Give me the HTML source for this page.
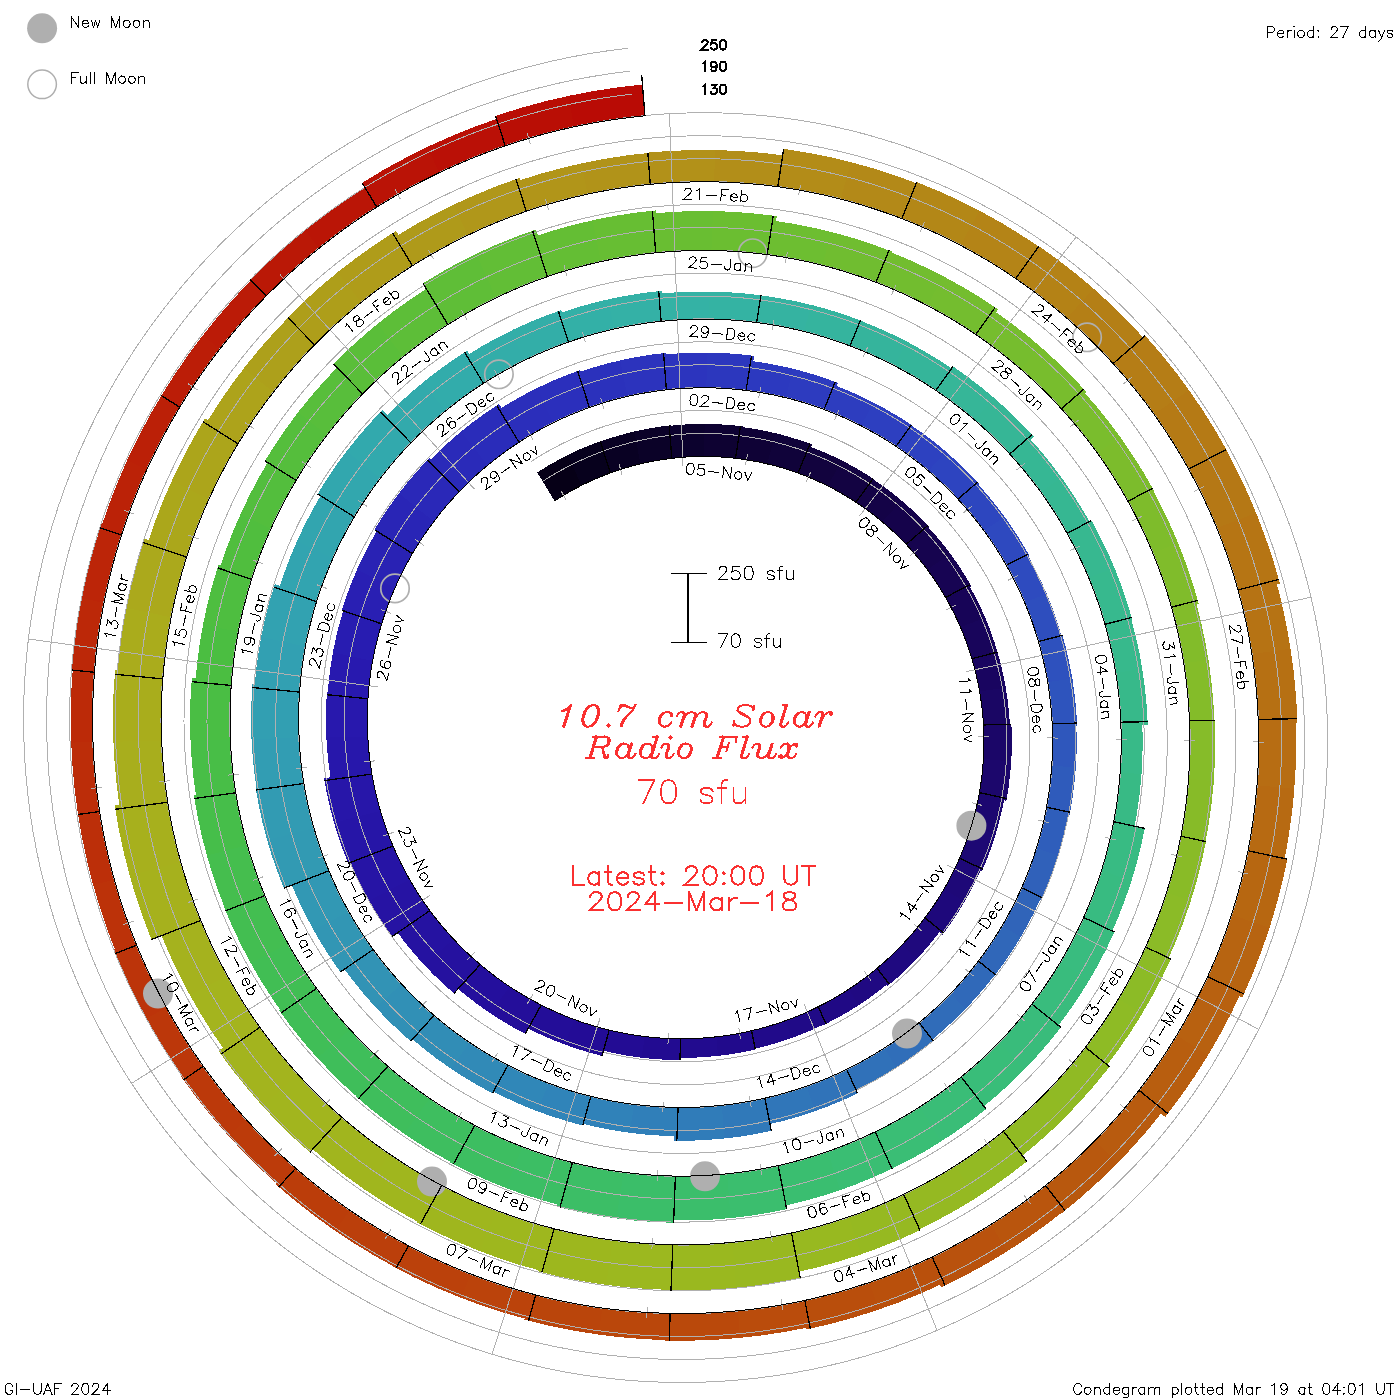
<!DOCTYPE html>
<html><head><meta charset="utf-8"><title>Condegram - 10.7 cm Solar Radio Flux</title>
<style>
html,body{margin:0;padding:0;background:#fff;}
body{width:1400px;height:1400px;position:relative;overflow:hidden;font-family:"Liberation Sans",sans-serif;}
</style></head><body>
<svg width="1400" height="1400" viewBox="0 0 1400 1400" style="position:absolute;left:0;top:0">
<g shape-rendering="crispEdges">
<path d="M554.7,501.3 L564.0,495.5 L573.5,490.0 L583.3,484.8 L569.6,454.1 L558.6,459.8 L547.8,465.9 L537.3,472.5Z" fill="#060017"/>
<path d="M581.7,485.7 L591.6,480.9 L601.8,476.5 L612.2,472.6 L602.2,440.5 L590.5,444.9 L579.0,449.7 L567.7,455.0Z" fill="#07011d"/>
<path d="M610.4,473.2 L621.0,469.6 L631.6,466.5 L642.5,463.7 L636.3,431.0 L624.1,434.1 L612.1,437.6 L600.3,441.5Z" fill="#090123"/>
<path d="M640.6,464.2 L651.5,461.8 L662.6,459.9 L673.7,458.4 L671.3,425.2 L658.9,426.8 L646.5,428.9 L634.2,431.5Z" fill="#0b0228"/>
<path d="M671.8,458.6 L682.9,457.6 L694.2,456.9 L705.4,456.8 L707.0,423.9 L694.3,424.0 L681.8,424.7 L669.2,425.9Z" fill="#0c022e"/>
<path d="M703.5,456.8 L714.8,457.0 L726.1,457.7 L737.3,458.8 L742.6,426.4 L730.1,425.0 L717.4,424.2 L704.8,423.9Z" fill="#0e0232"/>
<path d="M735.4,458.6 L746.6,460.1 L757.8,462.2 L768.9,464.6 L777.7,433.7 L765.4,430.9 L752.9,428.6 L740.4,426.9Z" fill="#0f0236"/>
<path d="M767.0,464.2 L778.0,467.0 L789.0,470.3 L799.7,474.1 L812.1,444.4 L800.1,440.2 L787.9,436.5 L775.7,433.2Z" fill="#10033a"/>
<path d="M797.9,473.4 L808.6,477.5 L819.1,482.1 L829.4,487.1 L843.8,461.5 L832.4,455.9 L820.8,450.8 L809.1,446.2Z" fill="#12033e"/>
<path d="M827.7,486.2 L837.8,491.6 L847.8,497.4 L857.5,503.6 L874.8,479.8 L864.1,472.9 L853.1,466.4 L841.9,460.5Z" fill="#130342"/>
<path d="M855.8,502.5 L865.3,509.1 L874.6,516.0 L883.6,523.3 L903.2,501.9 L893.4,493.8 L883.2,486.1 L872.7,478.9Z" fill="#140347"/>
<path d="M882.1,522.0 L890.8,529.7 L899.2,537.7 L907.3,546.0 L929.3,527.1 L920.4,517.9 L911.2,509.0 L901.6,500.5Z" fill="#15034b"/>
<path d="M905.9,544.6 L913.7,553.2 L921.2,562.2 L928.3,571.5 L951.7,555.6 L944.0,545.4 L935.8,535.5 L927.2,526.0Z" fill="#16044f"/>
<path d="M927.1,569.9 L933.9,579.4 L940.3,589.2 L946.3,599.3 L971.4,586.3 L964.9,575.2 L957.9,564.4 L950.4,553.9Z" fill="#170453"/>
<path d="M945.3,597.6 L950.9,607.9 L956.2,618.4 L961.0,629.2 L986.0,619.7 L980.8,607.9 L975.1,596.4 L969.0,585.1Z" fill="#170457"/>
<path d="M960.2,627.3 L964.6,638.3 L968.6,649.4 L972.2,660.7 L998.1,654.2 L994.3,641.8 L990.0,629.7 L985.2,617.7Z" fill="#18055b"/>
<path d="M971.6,658.7 L974.7,670.2 L977.4,681.7 L979.6,693.4 L1006.2,690.0 L1003.8,677.2 L1000.9,664.6 L997.5,652.1Z" fill="#190560"/>
<path d="M979.3,691.4 L981.1,703.2 L982.4,715.0 L983.3,727.0 L1010.0,726.6 L1009.1,713.6 L1007.7,700.7 L1005.8,687.8Z" fill="#1a0664"/>
<path d="M983.2,724.9 L983.6,736.9 L983.5,748.9 L983.0,760.8 L1011.1,763.8 L1011.8,750.6 L1011.9,737.5 L1011.4,724.4Z" fill="#1b0668"/>
<path d="M983.1,758.8 L982.1,770.8 L980.7,782.7 L978.7,794.6 L1006.3,800.8 L1008.5,787.8 L1010.1,774.7 L1011.2,761.5Z" fill="#1c076c"/>
<path d="M979.1,792.6 L976.7,804.4 L973.9,816.1 L970.5,827.8 L995.1,836.4 L998.7,823.7 L1001.9,811.0 L1004.5,798.1Z" fill="#1c0770"/>
<path d="M971.1,825.8 L967.4,837.3 L963.2,848.7 L958.5,859.9 L981.9,871.3 L987.0,859.1 L991.6,846.8 L995.7,834.2Z" fill="#1d0874"/>
<path d="M959.3,858.0 L954.3,869.1 L948.7,879.9 L942.7,890.6 L963.3,903.8 L969.8,892.3 L975.9,880.5 L981.4,868.6Z" fill="#1e0878"/>
<path d="M943.8,888.8 L937.4,899.2 L930.7,909.4 L923.5,919.3 L942.4,934.8 L950.2,924.1 L957.6,913.1 L964.5,901.8Z" fill="#1e087b"/>
<path d="M924.7,917.7 L917.2,927.3 L909.2,936.7 L900.8,945.7 L915.2,960.6 L924.1,950.9 L932.6,940.9 L940.7,930.6Z" fill="#1f097d"/>
<path d="M902.3,944.2 L893.6,953.0 L884.6,961.4 L875.2,969.4 L887.7,985.8 L897.8,977.3 L907.4,968.3 L916.7,959.0Z" fill="#1f0980"/>
<path d="M876.8,968.1 L867.2,975.8 L857.2,983.2 L846.9,990.1 L856.6,1006.5 L867.6,999.2 L878.2,991.4 L888.5,983.2Z" fill="#200982"/>
<path d="M848.7,989.0 L838.1,995.5 L827.3,1001.7 L816.2,1007.4 L824.0,1024.8 L835.8,1018.8 L847.3,1012.3 L858.5,1005.3Z" fill="#200985"/>
<path d="M818.1,1006.5 L806.8,1011.8 L795.3,1016.7 L783.6,1021.1 L789.2,1038.9 L801.6,1034.3 L813.9,1029.1 L825.9,1023.5Z" fill="#200a87"/>
<path d="M785.6,1020.4 L773.7,1024.4 L761.7,1027.9 L749.5,1030.9 L753.0,1049.3 L765.9,1046.1 L778.7,1042.4 L791.3,1038.2Z" fill="#210a8a"/>
<path d="M751.6,1030.4 L739.3,1033.0 L726.8,1035.1 L714.3,1036.7 L715.7,1056.1 L729.0,1054.5 L742.2,1052.3 L755.3,1049.5Z" fill="#210a8c"/>
<path d="M716.4,1036.5 L703.9,1037.7 L691.2,1038.3 L678.6,1038.4 L677.7,1057.9 L691.1,1057.8 L704.6,1057.1 L718.0,1055.9Z" fill="#220b8f"/>
<path d="M680.7,1038.4 L668.0,1038.1 L655.3,1037.3 L642.7,1036.0 L639.2,1057.4 L652.7,1058.9 L666.3,1059.8 L679.9,1060.2Z" fill="#220b91"/>
<path d="M644.8,1036.2 L632.2,1034.4 L619.7,1032.1 L607.2,1029.3 L601.2,1050.2 L614.5,1053.3 L628.0,1055.8 L641.5,1057.7Z" fill="#230c94"/>
<path d="M609.3,1029.8 L597.0,1026.6 L584.7,1022.8 L572.6,1018.5 L562.2,1043.6 L575.3,1048.2 L588.6,1052.4 L602.0,1055.9Z" fill="#230c96"/>
<path d="M574.7,1019.3 L562.7,1014.6 L550.9,1009.4 L539.4,1003.7 L526.1,1027.4 L538.6,1033.6 L551.4,1039.3 L564.4,1044.4Z" fill="#230d98"/>
<path d="M541.3,1004.7 L529.9,998.6 L518.8,992.1 L507.9,985.1 L488.4,1012.0 L500.4,1019.8 L512.7,1027.1 L525.2,1033.8Z" fill="#240e9a"/>
<path d="M509.7,986.3 L499.1,978.9 L488.8,971.1 L478.7,962.8 L456.2,987.3 L467.3,996.5 L478.7,1005.2 L490.4,1013.4Z" fill="#240f9d"/>
<path d="M480.4,964.3 L470.7,955.7 L461.3,946.7 L452.2,937.3 L422.4,962.9 L432.5,973.6 L443.0,983.7 L453.9,993.4Z" fill="#25119f"/>
<path d="M453.8,938.9 L445.0,929.2 L436.7,919.1 L428.8,908.6 L396.2,930.7 L405.0,942.5 L414.3,953.8 L424.1,964.8Z" fill="#2512a1"/>
<path d="M430.1,910.4 L422.6,899.7 L415.4,888.7 L408.8,877.4 L367.7,898.7 L375.2,911.7 L383.3,924.3 L391.9,936.6Z" fill="#2613a3"/>
<path d="M409.9,879.3 L403.6,867.8 L397.8,855.9 L392.4,843.9 L349.1,860.2 L355.2,874.1 L361.8,887.6 L368.9,900.9Z" fill="#2614a5"/>
<path d="M393.3,845.9 L388.4,833.7 L384.0,821.2 L380.1,808.5 L333.3,820.2 L337.7,834.8 L342.7,849.2 L348.3,863.3Z" fill="#2615a7"/>
<path d="M380.7,810.7 L377.2,797.9 L374.3,785.0 L371.9,771.9 L324.0,778.1 L326.8,793.1 L330.1,808.0 L334.0,822.7Z" fill="#2716a9"/>
<path d="M372.2,774.1 L370.3,760.9 L368.8,747.7 L367.9,734.4 L326.2,734.9 L327.2,749.9 L328.7,764.9 L330.9,779.7Z" fill="#2717ab"/>
<path d="M368.1,736.6 L367.6,723.3 L367.7,709.9 L368.4,696.5 L326.9,692.1 L326.1,707.2 L325.9,722.3 L326.4,737.4Z" fill="#2818ad"/>
<path d="M368.3,698.8 L369.4,685.4 L371.1,672.1 L373.3,658.8 L333.4,649.8 L330.8,664.7 L328.9,679.7 L327.5,694.8Z" fill="#2819af"/>
<path d="M372.9,661.0 L375.6,647.8 L378.8,634.7 L382.6,621.8 L344.0,608.2 L339.7,622.8 L336.0,637.5 L332.9,652.4Z" fill="#281cb1"/>
<path d="M381.9,624.0 L386.1,611.1 L390.9,598.4 L396.2,585.9 L358.0,567.3 L352.0,581.4 L346.6,595.7 L341.7,610.2Z" fill="#291fb3"/>
<path d="M395.2,588.0 L400.9,575.7 L407.2,563.6 L413.9,551.8 L378.1,528.9 L370.5,542.2 L363.4,555.8 L356.9,569.7Z" fill="#2922b4"/>
<path d="M412.7,553.8 L419.8,542.2 L427.4,530.8 L435.5,519.8 L400.6,491.2 L391.4,503.7 L382.7,516.5 L374.5,529.7Z" fill="#2925b6"/>
<path d="M434.1,521.7 L442.6,510.9 L451.5,500.5 L460.8,490.5 L429.4,458.0 L418.8,469.3 L408.6,481.1 L399.0,493.3Z" fill="#2a28b8"/>
<path d="M459.2,492.1 L468.9,482.4 L479.0,473.1 L489.5,464.1 L463.2,429.8 L451.4,439.8 L439.9,450.3 L428.9,461.3Z" fill="#2a2ab9"/>
<path d="M487.7,465.6 L498.5,457.0 L509.6,448.9 L521.1,441.2 L499.1,404.1 L486.0,412.7 L473.4,421.8 L461.2,431.4Z" fill="#2a2cba"/>
<path d="M519.1,442.5 L530.9,435.2 L543.0,428.4 L555.3,422.1 L539.6,386.8 L525.8,393.8 L512.3,401.3 L499.2,409.4Z" fill="#2b2ebb"/>
<path d="M553.2,423.1 L565.8,417.2 L578.6,411.9 L591.7,407.0 L580.2,370.1 L565.6,375.5 L551.3,381.4 L537.2,388.0Z" fill="#2b2fbc"/>
<path d="M589.4,407.8 L602.7,403.4 L616.1,399.5 L629.7,396.2 L622.8,359.8 L607.7,363.4 L592.8,367.6 L578.1,372.5Z" fill="#2b31bc"/>
<path d="M627.4,396.7 L641.1,393.9 L654.9,391.6 L668.8,389.9 L666.2,352.9 L650.8,354.7 L635.4,357.2 L620.2,360.3Z" fill="#2c33bd"/>
<path d="M666.4,390.1 L680.4,388.9 L694.5,388.2 L708.6,388.1 L710.2,352.6 L694.7,352.7 L679.1,353.3 L663.7,354.7Z" fill="#2c34be"/>
<path d="M706.2,388.1 L720.3,388.5 L734.4,389.5 L748.4,391.0 L754.2,355.9 L738.7,354.2 L723.1,353.0 L707.6,352.6Z" fill="#2c37be"/>
<path d="M746.0,390.7 L760.0,392.8 L774.0,395.4 L787.8,398.6 L796.1,369.5 L781.1,366.0 L765.9,363.1 L750.7,360.9Z" fill="#2c39bf"/>
<path d="M785.4,398.0 L799.2,401.6 L812.7,405.9 L826.2,410.7 L837.8,382.8 L823.2,377.5 L808.5,372.9 L793.6,368.9Z" fill="#2d3bbf"/>
<path d="M823.9,409.8 L837.1,415.0 L850.2,420.8 L863.0,427.2 L876.1,403.9 L862.3,397.0 L848.3,390.7 L834.0,385.0Z" fill="#2d3dbf"/>
<path d="M860.8,426.1 L873.4,432.9 L885.8,440.2 L897.8,448.0 L913.5,426.3 L900.6,417.9 L887.3,410.0 L873.8,402.7Z" fill="#2d3fc0"/>
<path d="M895.8,446.6 L907.6,454.8 L919.0,463.6 L930.1,472.7 L947.9,453.3 L936.0,443.4 L923.8,434.0 L911.1,425.2Z" fill="#2d41c0"/>
<path d="M928.2,471.2 L939.0,480.7 L949.4,490.8 L959.3,501.2 L979.3,484.0 L968.6,472.8 L957.5,462.0 L945.9,451.6Z" fill="#2d44c0"/>
<path d="M957.7,499.4 L967.3,510.2 L976.5,521.4 L985.2,533.0 L1006.1,518.9 L996.8,506.4 L987.0,494.4 L976.7,482.8Z" fill="#2d46bf"/>
<path d="M983.8,531.0 L992.1,542.9 L999.9,555.1 L1007.3,567.7 L1029.7,556.1 L1021.8,542.6 L1013.5,529.5 L1004.6,516.7Z" fill="#2e49bf"/>
<path d="M1006.1,565.5 L1013.0,578.4 L1019.4,591.5 L1025.2,604.9 L1047.8,596.3 L1041.5,582.0 L1034.7,568.0 L1027.4,554.3Z" fill="#2e4bbf"/>
<path d="M1024.3,602.6 L1029.7,616.1 L1034.5,630.0 L1038.8,644.0 L1062.2,638.2 L1057.6,623.2 L1052.5,608.4 L1046.7,593.9Z" fill="#2e4ebe"/>
<path d="M1038.1,641.6 L1041.9,655.8 L1045.1,670.1 L1047.8,684.6 L1072.8,681.4 L1070.0,665.8 L1066.6,650.5 L1062.5,635.3Z" fill="#2e51be"/>
<path d="M1047.4,682.1 L1049.5,696.7 L1051.0,711.4 L1052.0,726.1 L1077.2,725.8 L1076.2,710.0 L1074.6,694.3 L1072.4,678.7Z" fill="#2e54bd"/>
<path d="M1051.9,723.6 L1052.3,738.4 L1052.1,753.2 L1051.3,767.9 L1075.6,770.5 L1076.5,754.7 L1076.7,738.9 L1076.3,723.1Z" fill="#2f57bc"/>
<path d="M1051.5,765.4 L1050.2,780.2 L1048.3,794.9 L1045.8,809.6 L1069.6,814.9 L1072.3,799.3 L1074.4,783.6 L1075.8,767.8Z" fill="#2f5bbb"/>
<path d="M1046.2,807.1 L1043.2,821.7 L1039.6,836.1 L1035.4,850.5 L1057.0,858.0 L1061.5,842.8 L1065.4,827.5 L1068.6,812.0Z" fill="#2f5ebb"/>
<path d="M1036.2,848.0 L1031.5,862.2 L1026.2,876.2 L1020.3,890.0 L1040.9,900.0 L1047.2,885.4 L1052.8,870.5 L1057.8,855.5Z" fill="#3061ba"/>
<path d="M1021.3,887.7 L1015.0,901.2 L1008.1,914.6 L1000.6,927.6 L1019.3,939.6 L1027.2,925.7 L1034.6,911.6 L1041.3,897.2Z" fill="#3064b9"/>
<path d="M1001.9,925.4 L994.0,938.2 L985.6,950.7 L976.6,962.8 L993.8,976.8 L1003.3,964.0 L1012.3,950.8 L1020.7,937.2Z" fill="#3067b9"/>
<path d="M978.2,960.8 L968.8,972.6 L959.0,984.1 L948.6,995.1 L963.8,1010.8 L974.7,999.1 L985.2,987.0 L995.1,974.5Z" fill="#3069b9"/>
<path d="M950.4,993.3 L939.7,1004.0 L928.5,1014.2 L916.9,1024.0 L930.2,1041.3 L942.4,1031.0 L954.3,1020.1 L965.7,1008.8Z" fill="#306cb9"/>
<path d="M918.9,1022.4 L907.0,1031.8 L894.7,1040.7 L882.0,1049.2 L893.9,1069.2 L907.4,1060.3 L920.5,1050.8 L933.2,1040.8Z" fill="#306eb9"/>
<path d="M884.2,1047.8 L871.2,1055.8 L857.9,1063.2 L844.2,1070.1 L853.7,1091.4 L868.2,1084.1 L882.4,1076.2 L896.2,1067.7Z" fill="#3071b9"/>
<path d="M846.6,1069.0 L832.7,1075.5 L818.5,1081.3 L804.2,1086.6 L812.1,1112.2 L827.6,1106.5 L842.7,1100.3 L857.6,1093.4Z" fill="#3073b9"/>
<path d="M806.6,1085.8 L792.0,1090.6 L777.2,1094.8 L762.3,1098.4 L767.2,1124.7 L783.3,1120.9 L799.1,1116.4 L814.8,1111.3Z" fill="#3076b9"/>
<path d="M764.8,1097.8 L749.7,1100.9 L734.5,1103.4 L719.2,1105.3 L721.5,1138.8 L738.3,1136.9 L754.9,1134.2 L771.3,1130.9Z" fill="#3079b9"/>
<path d="M721.8,1105.0 L706.4,1106.3 L690.9,1107.0 L675.4,1107.1 L673.9,1140.7 L690.8,1140.7 L707.6,1139.9 L724.4,1138.5Z" fill="#307cb9"/>
<path d="M678.1,1107.1 L662.6,1106.6 L647.1,1105.5 L631.6,1103.8 L626.9,1132.4 L643.6,1134.4 L660.2,1135.6 L676.9,1136.1Z" fill="#307fb9"/>
<path d="M634.2,1104.1 L618.8,1101.8 L603.5,1098.9 L588.3,1095.4 L580.4,1123.3 L596.7,1127.1 L613.2,1130.3 L629.7,1132.8Z" fill="#3082b9"/>
<path d="M590.9,1096.0 L575.8,1091.9 L560.9,1087.3 L546.2,1081.9 L534.4,1110.2 L550.3,1115.9 L566.4,1121.0 L582.7,1125.5Z" fill="#3084b9"/>
<path d="M548.7,1082.9 L534.1,1077.1 L519.8,1070.7 L505.8,1063.7 L490.8,1090.3 L506.0,1097.9 L521.4,1104.9 L537.1,1111.2Z" fill="#3087b8"/>
<path d="M508.1,1064.9 L494.3,1057.4 L480.8,1049.3 L467.6,1040.7 L448.5,1067.0 L462.8,1076.4 L477.4,1085.2 L492.4,1093.3Z" fill="#318ab7"/>
<path d="M469.8,1042.2 L456.9,1033.2 L444.4,1023.5 L432.2,1013.4 L410.2,1037.3 L423.4,1048.3 L436.9,1058.8 L450.9,1068.7Z" fill="#318db6"/>
<path d="M434.3,1015.2 L422.5,1004.6 L411.1,993.6 L400.2,982.1 L373.5,1005.0 L385.4,1017.6 L397.8,1029.7 L410.6,1041.2Z" fill="#3190b6"/>
<path d="M402.0,984.1 L391.5,972.2 L381.4,959.9 L371.9,947.1 L342.7,966.8 L353.1,980.7 L364.0,994.2 L375.5,1007.2Z" fill="#3293b5"/>
<path d="M373.5,949.3 L364.4,936.3 L355.8,922.8 L347.8,909.0 L312.1,927.5 L320.9,942.7 L330.3,957.6 L340.3,972.0Z" fill="#3296b4"/>
<path d="M349.1,911.4 L341.5,897.3 L334.6,882.9 L328.2,868.2 L290.6,882.4 L297.6,898.6 L305.3,914.5 L313.6,930.1Z" fill="#3298b4"/>
<path d="M329.2,870.7 L323.3,855.8 L318.1,840.6 L313.4,825.2 L266.3,837.0 L271.4,854.3 L277.3,871.4 L283.9,888.2Z" fill="#329ab3"/>
<path d="M314.2,827.9 L310.0,812.3 L306.6,796.6 L303.7,780.7 L255.5,787.0 L258.7,804.8 L262.5,822.5 L267.1,840.0Z" fill="#329bb3"/>
<path d="M304.2,783.4 L301.9,767.5 L300.2,751.4 L299.2,735.2 L251.4,735.8 L252.5,753.9 L254.2,772.0 L256.8,789.9Z" fill="#329db3"/>
<path d="M299.4,738.0 L298.9,721.8 L299.2,705.6 L300.1,689.4 L252.5,684.4 L251.4,702.6 L251.1,720.7 L251.5,738.9Z" fill="#329fb2"/>
<path d="M299.9,692.1 L301.3,676.0 L303.5,659.8 L306.3,643.8 L261.8,633.8 L258.7,651.7 L256.2,669.7 L254.6,687.7Z" fill="#32a0b2"/>
<path d="M305.7,646.5 L309.1,630.6 L313.1,614.7 L317.7,599.1 L274.8,584.0 L269.5,601.5 L265.0,619.1 L261.2,636.9Z" fill="#32a2b1"/>
<path d="M316.9,601.7 L322.1,586.2 L327.9,570.9 L334.4,555.9 L298.3,538.3 L291.1,554.8 L284.7,571.7 L278.9,588.7Z" fill="#32a4b0"/>
<path d="M333.2,558.4 L340.2,543.6 L347.8,529.0 L356.0,514.8 L322.2,493.1 L313.1,508.8 L304.7,524.8 L297.0,541.1Z" fill="#32a5af"/>
<path d="M354.6,517.2 L363.2,503.2 L372.5,489.6 L382.3,476.3 L348.6,448.7 L337.6,463.3 L327.3,478.4 L317.7,493.9Z" fill="#32a7ae"/>
<path d="M380.6,478.5 L390.9,465.6 L401.7,453.1 L413.0,441.1 L382.7,409.7 L370.1,423.0 L358.1,436.9 L346.7,451.1Z" fill="#32a9ad"/>
<path d="M411.1,443.1 L422.8,431.4 L435.1,420.2 L447.7,409.5 L425.5,380.4 L411.6,392.0 L398.2,404.2 L385.4,416.9Z" fill="#32aaac"/>
<path d="M445.6,411.3 L458.6,401.1 L472.1,391.3 L486.0,382.2 L467.3,350.6 L452.1,360.6 L437.3,371.1 L423.1,382.3Z" fill="#32acab"/>
<path d="M483.6,383.7 L497.8,375.0 L512.4,366.9 L527.3,359.4 L513.9,329.3 L497.8,337.4 L482.0,346.2 L466.6,355.5Z" fill="#33ada9"/>
<path d="M524.8,360.6 L539.9,353.6 L555.4,347.2 L571.1,341.5 L561.3,310.1 L544.3,316.2 L527.6,323.1 L511.2,330.7Z" fill="#33aea8"/>
<path d="M568.4,342.4 L584.4,337.2 L600.5,332.6 L616.9,328.7 L611.2,298.7 L593.6,302.8 L576.3,307.7 L559.1,313.3Z" fill="#33b0a7"/>
<path d="M614.1,329.3 L630.6,326.0 L647.2,323.3 L663.9,321.3 L661.8,290.8 L643.8,292.9 L625.9,295.8 L608.2,299.3Z" fill="#34b1a6"/>
<path d="M661.1,321.6 L677.9,320.2 L694.8,319.5 L711.7,319.5 L713.0,291.6 L694.9,291.6 L676.9,292.3 L658.9,293.8Z" fill="#34b2a5"/>
<path d="M708.8,319.4 L725.7,320.0 L742.6,321.3 L759.5,323.2 L764.0,295.7 L746.0,293.6 L728.0,292.2 L709.9,291.6Z" fill="#34b3a3"/>
<path d="M756.6,322.8 L773.4,325.4 L790.1,328.6 L806.6,332.5 L814.3,305.7 L796.7,301.5 L778.8,298.0 L760.9,295.3Z" fill="#35b3a1"/>
<path d="M803.8,331.8 L820.3,336.2 L836.5,341.4 L852.6,347.2 L863.3,321.5 L846.2,315.2 L828.9,309.7 L811.3,304.9Z" fill="#35b49e"/>
<path d="M849.9,346.2 L865.7,352.6 L881.3,359.6 L896.6,367.2 L910.1,343.3 L893.8,335.0 L877.2,327.5 L860.3,320.7Z" fill="#35b49c"/>
<path d="M894.0,365.9 L909.1,374.1 L923.8,382.9 L938.1,392.3 L954.3,370.1 L939.0,360.0 L923.3,350.6 L907.3,341.8Z" fill="#35b59a"/>
<path d="M935.7,390.7 L949.7,400.6 L963.4,411.1 L976.6,422.2 L996.8,400.2 L982.7,388.4 L968.1,377.1 L953.1,366.4Z" fill="#36b698"/>
<path d="M974.4,420.2 L987.2,431.8 L999.6,443.8 L1011.4,456.4 L1034.0,436.9 L1021.3,423.5 L1008.1,410.5 L994.4,398.2Z" fill="#36b696"/>
<path d="M1009.4,454.2 L1020.9,467.2 L1031.8,480.6 L1042.1,494.5 L1063.3,480.2 L1052.4,465.4 L1040.8,451.1 L1028.7,437.4Z" fill="#36b794"/>
<path d="M1040.4,492.1 L1050.3,506.4 L1059.6,521.0 L1068.3,536.1 L1091.0,524.3 L1081.8,508.3 L1072.0,492.8 L1061.5,477.6Z" fill="#36b792"/>
<path d="M1066.9,533.5 L1075.0,548.8 L1082.6,564.5 L1089.5,580.5 L1115.6,570.7 L1108.3,553.6 L1100.2,536.9 L1091.5,520.5Z" fill="#37b890"/>
<path d="M1088.4,577.8 L1094.7,594.0 L1100.4,610.5 L1105.5,627.3 L1132.5,620.5 L1127.2,602.7 L1121.2,585.1 L1114.4,567.7Z" fill="#37b98e"/>
<path d="M1104.7,624.4 L1109.1,641.3 L1112.9,658.5 L1115.9,675.7 L1142.8,672.2 L1139.6,653.9 L1135.6,635.7 L1130.9,617.7Z" fill="#37b98c"/>
<path d="M1115.4,672.8 L1117.9,690.2 L1119.6,707.6 L1120.7,725.2 L1147.8,724.9 L1146.7,706.2 L1144.9,687.6 L1142.3,669.1Z" fill="#37b98a"/>
<path d="M1120.5,722.2 L1121.0,739.8 L1120.7,757.4 L1119.7,775.0 L1141.3,777.3 L1142.4,758.8 L1142.7,740.3 L1142.3,721.8Z" fill="#38ba88"/>
<path d="M1119.9,772.1 L1118.3,789.6 L1115.9,807.2 L1112.8,824.6 L1134.1,829.3 L1137.3,811.0 L1139.8,792.6 L1141.5,774.2Z" fill="#38ba85"/>
<path d="M1113.4,821.6 L1109.7,838.9 L1105.4,856.1 L1100.3,873.1 L1130.6,883.7 L1136.1,865.5 L1140.8,847.0 L1144.8,828.4Z" fill="#38bb83"/>
<path d="M1101.2,870.3 L1095.5,887.1 L1089.1,903.7 L1082.1,920.0 L1111.0,934.1 L1118.6,916.5 L1125.4,898.7 L1131.6,880.7Z" fill="#38bb81"/>
<path d="M1083.3,917.3 L1075.7,933.4 L1067.4,949.2 L1058.5,964.6 L1087.5,983.2 L1097.2,966.5 L1106.1,949.5 L1114.4,932.1Z" fill="#39bc7f"/>
<path d="M1060.1,962.0 L1050.6,977.2 L1040.5,991.9 L1029.8,1006.3 L1056.5,1028.1 L1068.0,1012.6 L1079.0,996.7 L1089.2,980.4Z" fill="#39bc7d"/>
<path d="M1031.7,1003.9 L1020.5,1017.9 L1008.7,1031.4 L996.4,1044.5 L1022.5,1071.4 L1035.9,1057.3 L1048.7,1042.6 L1060.9,1027.4Z" fill="#39bc7b"/>
<path d="M998.6,1042.3 L985.8,1054.9 L972.5,1067.1 L958.7,1078.6 L981.4,1108.4 L996.4,1095.9 L1010.9,1082.8 L1024.8,1069.1Z" fill="#39bd79"/>
<path d="M961.1,1076.7 L946.9,1087.8 L932.2,1098.3 L917.1,1108.2 L938.0,1143.4 L954.5,1132.6 L970.6,1121.2 L986.1,1109.1Z" fill="#3abd77"/>
<path d="M919.7,1106.6 L904.3,1116.0 L888.4,1124.8 L872.3,1132.9 L888.9,1170.3 L906.6,1161.4 L924.0,1151.9 L940.9,1141.6Z" fill="#3abe75"/>
<path d="M875.0,1131.5 L858.6,1139.1 L841.8,1146.0 L824.7,1152.2 L836.9,1191.3 L855.6,1184.5 L874.0,1177.0 L892.0,1168.8Z" fill="#3abe73"/>
<path d="M827.6,1151.2 L810.3,1156.8 L792.8,1161.7 L775.1,1165.9 L782.7,1206.1 L802.1,1201.6 L821.2,1196.3 L840.1,1190.2Z" fill="#3abe70"/>
<path d="M778.1,1165.3 L760.2,1168.8 L742.2,1171.7 L724.1,1173.8 L727.2,1218.5 L747.2,1216.2 L767.0,1213.1 L786.7,1209.2Z" fill="#3bbe6e"/>
<path d="M727.2,1173.5 L708.9,1175.0 L690.6,1175.7 L672.3,1175.7 L670.3,1220.4 L690.4,1220.5 L710.6,1219.7 L730.6,1218.1Z" fill="#3bbe6b"/>
<path d="M675.4,1175.8 L657.1,1175.1 L638.8,1173.7 L620.6,1171.6 L613.0,1218.0 L633.1,1220.4 L653.4,1222.0 L673.6,1222.8Z" fill="#3bbe69"/>
<path d="M623.7,1172.0 L605.5,1169.2 L587.4,1165.7 L569.5,1161.4 L556.5,1206.7 L576.3,1211.4 L596.3,1215.4 L616.4,1218.5Z" fill="#3cbe66"/>
<path d="M572.5,1162.2 L554.7,1157.3 L537.2,1151.7 L519.8,1145.4 L502.6,1186.7 L521.6,1193.7 L541.0,1199.9 L560.5,1205.3Z" fill="#3cbe64"/>
<path d="M522.7,1146.5 L505.6,1139.6 L488.7,1131.9 L472.2,1123.6 L450.3,1162.6 L468.4,1171.8 L487.0,1180.3 L505.8,1187.9Z" fill="#3dbe61"/>
<path d="M475.0,1125.1 L458.7,1116.2 L442.8,1106.6 L427.3,1096.4 L401.4,1132.0 L418.4,1143.2 L435.9,1153.8 L453.7,1163.6Z" fill="#3ebe5f"/>
<path d="M429.9,1098.2 L414.7,1087.4 L400.0,1076.0 L385.7,1064.0 L355.9,1096.4 L371.5,1109.6 L387.7,1122.1 L404.3,1133.9Z" fill="#3fbe5c"/>
<path d="M388.1,1066.1 L374.3,1053.6 L360.9,1040.5 L348.1,1026.9 L315.1,1055.4 L329.1,1070.3 L343.6,1084.7 L358.8,1098.4Z" fill="#3fbe5a"/>
<path d="M350.3,1029.3 L337.9,1015.2 L326.1,1000.7 L315.0,985.6 L278.8,1010.0 L291.0,1026.6 L303.9,1042.5 L317.4,1058.0Z" fill="#40be57"/>
<path d="M316.8,988.2 L306.2,972.8 L296.1,956.9 L286.8,940.6 L249.1,960.2 L259.3,978.0 L270.2,995.3 L281.8,1012.2Z" fill="#41be54"/>
<path d="M288.3,943.4 L279.5,926.8 L271.4,909.8 L263.9,892.5 L224.2,907.5 L232.3,926.5 L241.1,945.0 L250.7,963.2Z" fill="#43be51"/>
<path d="M265.1,895.5 L258.3,877.9 L252.2,860.1 L246.8,842.0 L205.9,852.2 L211.8,871.9 L218.4,891.4 L225.9,910.6Z" fill="#45be4e"/>
<path d="M247.6,845.0 L242.9,826.7 L238.8,808.3 L235.6,789.6 L193.8,795.0 L197.4,815.4 L201.7,835.6 L206.9,855.5Z" fill="#46be4a"/>
<path d="M236.1,792.8 L233.5,774.0 L231.6,755.1 L230.5,736.1 L190.4,736.6 L191.5,757.2 L193.5,777.8 L196.3,798.2Z" fill="#48be47"/>
<path d="M230.7,739.4 L230.2,720.3 L230.6,701.3 L231.7,682.3 L191.8,678.1 L190.5,698.8 L190.1,719.5 L190.5,740.1Z" fill="#4abe44"/>
<path d="M231.5,685.5 L233.3,666.5 L235.9,647.6 L239.2,628.8 L203.7,620.9 L200.1,641.1 L197.3,661.5 L195.3,682.0Z" fill="#4bbe41"/>
<path d="M238.6,632.0 L242.6,613.3 L247.3,594.8 L252.9,576.4 L218.6,564.4 L212.6,584.2 L207.4,604.2 L203.1,624.3Z" fill="#4ebe40"/>
<path d="M251.9,579.5 L258.0,561.4 L264.9,543.5 L272.6,525.8 L242.0,510.9 L233.7,529.8 L226.3,549.0 L219.7,568.5Z" fill="#50be3e"/>
<path d="M271.2,528.8 L279.5,511.4 L288.4,494.4 L298.1,477.8 L269.4,459.4 L259.0,477.3 L249.4,495.5 L240.5,514.1Z" fill="#53be3d"/>
<path d="M296.4,480.6 L306.6,464.2 L317.5,448.3 L329.1,432.8 L300.4,409.3 L287.9,426.0 L276.1,443.2 L265.0,460.8Z" fill="#55be3c"/>
<path d="M327.1,435.4 L339.2,420.4 L351.9,405.8 L365.2,391.7 L339.4,365.1 L325.1,380.2 L311.3,395.9 L298.2,412.1Z" fill="#58be3b"/>
<path d="M362.9,394.1 L376.7,380.5 L391.1,367.4 L406.0,355.0 L380.5,321.5 L364.2,335.1 L348.5,349.2 L333.5,364.0Z" fill="#5abe39"/>
<path d="M403.4,357.0 L418.8,345.1 L434.6,333.8 L450.9,323.1 L429.4,286.9 L411.6,298.5 L394.4,310.8 L377.7,323.8Z" fill="#5dbe38"/>
<path d="M448.1,324.9 L464.7,314.8 L481.8,305.4 L499.3,296.6 L479.5,252.3 L460.2,261.8 L441.4,272.2 L423.0,283.3Z" fill="#5fbe37"/>
<path d="M496.3,298.1 L514.1,289.9 L532.2,282.5 L550.6,275.9 L536.1,229.5 L515.8,236.8 L495.8,244.9 L476.2,253.8Z" fill="#62be36"/>
<path d="M547.4,277.0 L566.1,270.9 L585.0,265.7 L604.1,261.2 L596.2,219.5 L575.4,224.3 L554.8,230.0 L534.5,236.5Z" fill="#64be34"/>
<path d="M600.8,261.9 L620.1,258.1 L639.5,255.0 L659.0,252.8 L656.1,210.4 L634.8,212.8 L613.6,216.1 L592.6,220.2Z" fill="#67be33"/>
<path d="M655.7,253.1 L675.4,251.6 L695.1,250.8 L714.8,250.9 L716.6,211.1 L695.2,211.0 L673.9,211.8 L652.6,213.5Z" fill="#69be32"/>
<path d="M711.4,250.8 L731.2,251.5 L750.9,253.0 L770.5,255.4 L776.9,216.1 L755.7,213.6 L734.3,211.9 L713.0,211.0Z" fill="#6bbe31"/>
<path d="M767.2,254.9 L786.8,258.0 L806.2,261.8 L825.5,266.4 L835.1,232.9 L814.4,228.0 L793.5,223.8 L772.6,220.6Z" fill="#6dbe31"/>
<path d="M822.2,265.6 L841.4,270.9 L860.3,276.9 L878.9,283.8 L892.3,251.7 L872.3,244.3 L852.1,237.7 L831.6,232.0Z" fill="#70bd30"/>
<path d="M875.8,282.6 L894.2,290.0 L912.4,298.3 L930.2,307.3 L946.6,278.0 L927.6,268.3 L908.2,259.4 L888.5,251.4Z" fill="#72bd2f"/>
<path d="M927.2,305.7 L944.7,315.3 L961.8,325.7 L978.4,336.7 L998.2,309.5 L980.4,297.6 L962.1,286.6 L943.4,276.3Z" fill="#74bd2f"/>
<path d="M975.6,334.8 L991.9,346.4 L1007.8,358.6 L1023.1,371.6 L1043.5,349.4 L1027.3,335.6 L1010.5,322.5 L993.2,310.2Z" fill="#76bd2e"/>
<path d="M1020.5,369.3 L1035.4,382.8 L1049.7,396.9 L1063.5,411.5 L1086.4,391.8 L1071.8,376.2 L1056.6,361.3 L1040.8,347.0Z" fill="#78bd2d"/>
<path d="M1061.2,409.0 L1074.4,424.1 L1087.1,439.8 L1099.0,456.0 L1122.5,440.2 L1109.8,423.0 L1096.5,406.4 L1082.5,390.4Z" fill="#7abd2d"/>
<path d="M1097.0,453.2 L1108.5,469.8 L1119.2,486.9 L1129.3,504.4 L1154.4,491.4 L1143.8,472.9 L1132.4,454.8 L1120.4,437.2Z" fill="#7cbc2c"/>
<path d="M1127.6,501.4 L1137.1,519.3 L1145.8,537.6 L1153.8,556.2 L1179.5,546.4 L1171.1,526.8 L1161.9,507.5 L1152.0,488.6Z" fill="#7ebc2b"/>
<path d="M1152.5,553.0 L1159.8,571.9 L1166.3,591.1 L1172.1,610.6 L1198.8,603.9 L1192.7,583.3 L1185.8,563.0 L1178.1,543.1Z" fill="#80bc2b"/>
<path d="M1171.2,607.2 L1176.3,626.9 L1180.6,646.8 L1184.0,666.9 L1209.1,663.6 L1205.4,642.5 L1200.9,621.6 L1195.6,600.9Z" fill="#82bc2a"/>
<path d="M1183.5,663.4 L1186.3,683.6 L1188.3,703.9 L1189.4,724.3 L1214.6,724.0 L1213.4,702.6 L1211.4,681.2 L1208.5,660.0Z" fill="#84bc29"/>
<path d="M1189.2,720.8 L1189.7,741.3 L1189.3,761.7 L1188.0,782.1 L1213.5,784.8 L1214.8,763.3 L1215.3,741.8 L1214.8,720.3Z" fill="#86bc29"/>
<path d="M1188.3,778.7 L1186.3,799.0 L1183.5,819.4 L1179.9,839.5 L1204.9,845.1 L1208.7,823.9 L1211.7,802.6 L1213.7,781.1Z" fill="#87bb28"/>
<path d="M1180.6,836.1 L1176.2,856.2 L1171.1,876.1 L1165.1,895.8 L1189.7,904.4 L1196.0,883.7 L1201.4,862.7 L1206.0,841.6Z" fill="#89bb27"/>
<path d="M1166.2,892.4 L1159.6,911.9 L1152.1,931.1 L1143.9,950.0 L1167.2,961.4 L1175.9,941.5 L1183.8,921.3 L1190.8,900.9Z" fill="#8bbb27"/>
<path d="M1145.3,946.9 L1136.5,965.5 L1126.8,983.8 L1116.4,1001.6 L1140.2,1016.9 L1151.2,998.0 L1161.5,978.7 L1170.9,959.1Z" fill="#8cbb26"/>
<path d="M1118.2,998.6 L1107.2,1016.1 L1095.5,1033.2 L1083.1,1049.8 L1104.9,1067.7 L1118.1,1050.2 L1130.5,1032.2 L1142.2,1013.7Z" fill="#8ebb25"/>
<path d="M1085.2,1047.0 L1072.2,1063.1 L1058.5,1078.8 L1044.2,1093.8 L1066.0,1116.4 L1081.2,1100.4 L1095.8,1083.8 L1109.6,1066.7Z" fill="#90ba24"/>
<path d="M1046.7,1091.3 L1031.9,1105.9 L1016.4,1119.9 L1000.4,1133.2 L1019.5,1158.1 L1036.5,1144.0 L1052.9,1129.2 L1068.7,1113.7Z" fill="#91ba23"/>
<path d="M1003.2,1131.0 L986.7,1143.8 L969.7,1155.9 L952.3,1167.3 L972.0,1200.5 L990.8,1188.2 L1009.1,1175.2 L1026.9,1161.5Z" fill="#93ba23"/>
<path d="M955.3,1165.4 L937.4,1176.2 L919.0,1186.3 L900.3,1195.6 L916.0,1230.9 L936.2,1220.9 L956.0,1210.1 L975.2,1198.5Z" fill="#95b922"/>
<path d="M903.5,1194.1 L884.4,1202.8 L865.0,1210.7 L845.3,1217.8 L857.2,1255.7 L878.5,1248.1 L899.4,1239.6 L920.0,1230.3Z" fill="#96b921"/>
<path d="M848.7,1216.6 L828.7,1223.0 L808.4,1228.7 L787.9,1233.4 L795.3,1272.5 L817.4,1267.4 L839.2,1261.4 L860.8,1254.5Z" fill="#98b920"/>
<path d="M791.4,1232.7 L770.7,1236.7 L749.9,1240.0 L729.0,1242.3 L732.2,1288.5 L755.1,1286.0 L777.8,1282.5 L800.3,1278.1Z" fill="#99b820"/>
<path d="M732.5,1242.0 L711.5,1243.6 L690.4,1244.4 L669.2,1244.3 L667.1,1290.6 L690.2,1290.7 L713.2,1289.9 L736.1,1288.2Z" fill="#9ab81f"/>
<path d="M672.8,1244.4 L651.7,1243.6 L630.6,1241.9 L609.5,1239.4 L602.2,1284.3 L625.1,1287.1 L648.0,1289.0 L671.1,1289.9Z" fill="#9cb81f"/>
<path d="M613.1,1239.9 L592.1,1236.6 L571.3,1232.5 L550.7,1227.5 L538.1,1271.3 L560.6,1276.8 L583.3,1281.3 L606.1,1284.9Z" fill="#9db71e"/>
<path d="M554.2,1228.4 L533.7,1222.7 L513.4,1216.2 L493.4,1208.8 L476.4,1249.8 L498.0,1257.8 L520.0,1265.0 L542.2,1271.2Z" fill="#9eb71e"/>
<path d="M496.8,1210.1 L477.1,1202.1 L457.7,1193.2 L438.6,1183.6 L416.9,1222.3 L437.5,1232.8 L458.6,1242.4 L480.0,1251.2Z" fill="#9fb61e"/>
<path d="M441.8,1185.3 L423.1,1174.9 L404.8,1163.9 L387.0,1152.0 L361.4,1187.3 L380.7,1200.2 L400.5,1212.2 L420.7,1223.4Z" fill="#a0b61e"/>
<path d="M390.0,1154.1 L372.5,1141.6 L355.6,1128.5 L339.2,1114.6 L309.7,1146.7 L327.4,1161.7 L345.7,1176.0 L364.6,1189.6Z" fill="#a1b51e"/>
<path d="M342.0,1117.0 L326.1,1102.6 L310.8,1087.5 L296.1,1071.8 L259.8,1103.0 L275.8,1120.2 L292.5,1136.7 L309.8,1152.4Z" fill="#a2b51e"/>
<path d="M298.5,1074.5 L284.4,1058.3 L270.9,1041.5 L258.1,1024.1 L218.4,1050.9 L232.4,1069.9 L247.1,1088.2 L262.5,1106.0Z" fill="#a3b41e"/>
<path d="M260.2,1027.1 L248.0,1009.3 L236.5,991.0 L225.8,972.3 L188.1,991.8 L199.6,1012.1 L212.0,1031.9 L225.2,1051.1Z" fill="#a4b41e"/>
<path d="M227.6,975.5 L217.5,956.4 L208.2,936.8 L199.7,916.9 L160.0,931.9 L169.1,953.5 L179.1,974.6 L190.0,995.3Z" fill="#a5b21e"/>
<path d="M201.1,920.3 L193.3,900.1 L186.3,879.5 L180.1,858.7 L128.5,871.6 L135.2,894.5 L142.9,917.2 L151.4,939.5Z" fill="#a6b11d"/>
<path d="M181.1,862.2 L175.7,841.2 L171.1,819.9 L167.5,798.5 L114.7,805.3 L118.7,828.9 L123.7,852.3 L129.6,875.5Z" fill="#a7b01d"/>
<path d="M168.0,802.1 L165.1,780.5 L163.0,758.8 L161.8,737.0 L113.2,737.6 L114.5,761.4 L116.7,785.1 L119.9,808.7Z" fill="#a8ae1d"/>
<path d="M162.0,740.7 L161.5,718.9 L162.0,697.1 L163.4,675.2 L115.1,670.2 L113.5,694.0 L113.0,717.9 L113.4,741.7Z" fill="#a9ad1c"/>
<path d="M163.1,678.9 L165.2,657.1 L168.2,635.4 L172.1,613.9 L127.3,603.8 L123.0,627.3 L119.7,650.8 L117.4,674.5Z" fill="#aaac1c"/>
<path d="M171.4,617.5 L176.1,596.1 L181.6,574.8 L188.0,553.8 L144.7,538.6 L137.7,561.4 L131.6,584.5 L126.5,607.8Z" fill="#aba91c"/>
<path d="M186.8,557.3 L194.0,536.5 L201.9,516.0 L210.8,495.8 L173.3,477.6 L163.7,499.3 L155.1,521.4 L147.4,543.8Z" fill="#aba71b"/>
<path d="M209.2,499.2 L218.7,479.3 L229.1,459.8 L240.2,440.8 L205.1,418.3 L193.0,438.8 L181.9,459.8 L171.6,481.2Z" fill="#aca51b"/>
<path d="M238.2,444.0 L250.0,425.3 L262.6,407.1 L275.9,389.4 L246.3,365.2 L232.0,384.1 L218.5,403.6 L205.9,423.6Z" fill="#ada31b"/>
<path d="M273.6,392.3 L287.5,375.1 L302.1,358.4 L317.4,342.4 L290.8,314.9 L274.4,332.1 L258.7,349.9 L243.8,368.3Z" fill="#ada01b"/>
<path d="M314.8,345.1 L330.6,329.5 L347.1,314.6 L364.2,300.4 L340.8,269.7 L322.4,284.9 L304.7,300.8 L287.7,317.5Z" fill="#ae9e1a"/>
<path d="M361.3,302.8 L378.9,289.1 L397.0,276.2 L415.7,264.1 L396.0,230.9 L376.0,243.9 L356.5,257.7 L337.6,272.2Z" fill="#af9c1a"/>
<path d="M412.5,266.1 L431.6,254.6 L451.2,243.8 L471.2,233.9 L457.4,202.8 L436.1,213.4 L415.3,224.7 L394.9,237.0Z" fill="#af9a1a"/>
<path d="M467.8,235.5 L488.2,226.3 L508.9,217.9 L530.0,210.3 L519.8,177.9 L497.4,185.9 L475.4,194.8 L453.7,204.6Z" fill="#b0971a"/>
<path d="M526.4,211.6 L547.7,204.7 L569.4,198.8 L591.2,193.7 L585.3,162.5 L562.2,167.9 L539.3,174.1 L516.7,181.3Z" fill="#b19519"/>
<path d="M587.5,194.5 L609.6,190.2 L631.8,186.8 L654.1,184.3 L651.9,152.6 L628.2,155.2 L604.7,158.8 L581.4,163.4Z" fill="#b19319"/>
<path d="M650.3,184.6 L672.8,182.9 L695.3,182.1 L717.9,182.2 L719.3,150.1 L695.5,150.0 L671.6,150.8 L647.8,152.6Z" fill="#b29119"/>
<path d="M714.0,182.1 L736.6,183.0 L759.1,184.8 L781.5,187.6 L786.7,155.9 L763.0,152.9 L739.1,151.0 L715.3,150.0Z" fill="#b28e19"/>
<path d="M777.7,187.0 L800.1,190.6 L822.3,195.0 L844.3,200.3 L854.9,163.2 L831.4,157.4 L807.6,152.7 L783.7,148.9Z" fill="#b38c18"/>
<path d="M840.6,199.4 L862.4,205.5 L884.0,212.4 L905.3,220.3 L920.2,184.7 L897.4,176.2 L874.3,168.7 L850.9,162.1Z" fill="#b38918"/>
<path d="M901.7,218.9 L922.8,227.5 L943.4,237.0 L963.7,247.3 L983.2,212.6 L961.5,201.5 L939.3,191.4 L916.8,182.1Z" fill="#b38717"/>
<path d="M960.3,245.5 L980.2,256.5 L999.7,268.4 L1018.7,281.0 L1042.1,248.8 L1021.7,235.3 L1000.9,222.5 L979.5,210.7Z" fill="#b48417"/>
<path d="M1015.5,278.8 L1034.1,292.1 L1052.1,306.2 L1069.6,321.0 L1096.8,291.4 L1078.1,275.5 L1058.8,260.4 L1038.9,246.2Z" fill="#b48216"/>
<path d="M1066.6,318.4 L1083.6,333.8 L1099.9,349.9 L1115.5,366.7 L1146.0,340.5 L1129.2,322.5 L1111.8,305.2 L1093.6,288.7Z" fill="#b47f16"/>
<path d="M1112.9,363.8 L1128.0,381.1 L1142.3,399.0 L1155.9,417.5 L1191.4,393.5 L1176.8,373.5 L1161.4,354.2 L1145.2,335.6Z" fill="#b57d16"/>
<path d="M1153.7,414.3 L1166.7,433.3 L1178.9,452.8 L1190.3,472.8 L1228.3,453.1 L1216.1,431.5 L1203.0,410.5 L1189.0,390.1Z" fill="#b57a15"/>
<path d="M1188.4,469.3 L1199.1,489.7 L1209.0,510.6 L1218.0,531.8 L1257.7,516.8 L1248.1,493.9 L1237.5,471.5 L1226.0,449.5Z" fill="#b57815"/>
<path d="M1216.5,528.2 L1224.8,549.7 L1232.2,571.6 L1238.7,593.8 L1279.9,583.5 L1273.0,559.6 L1265.0,536.1 L1256.1,512.9Z" fill="#b67514"/>
<path d="M1237.7,590.0 L1243.5,612.5 L1248.3,635.1 L1252.2,658.0 L1291.2,652.9 L1287.1,628.4 L1282.0,604.2 L1275.9,580.2Z" fill="#b67314"/>
<path d="M1251.6,654.1 L1254.7,677.1 L1256.9,700.2 L1258.1,723.4 L1297.5,722.9 L1296.2,698.1 L1293.9,673.3 L1290.6,648.7Z" fill="#b67013"/>
<path d="M1257.9,719.4 L1258.4,742.7 L1257.8,765.9 L1256.3,789.2 L1294.0,793.1 L1295.6,768.3 L1296.2,743.5 L1295.8,718.7Z" fill="#b76d13"/>
<path d="M1256.7,785.2 L1254.4,808.4 L1251.1,831.5 L1247.0,854.5 L1283.9,862.8 L1288.4,838.3 L1291.9,813.6 L1294.4,788.9Z" fill="#b76a12"/>
<path d="M1247.7,850.6 L1242.8,873.4 L1236.8,896.0 L1230.0,918.4 L1268.3,931.8 L1275.6,907.8 L1282.0,883.6 L1287.4,859.2Z" fill="#b76711"/>
<path d="M1231.2,914.6 L1223.6,936.8 L1215.1,958.6 L1205.7,980.1 L1242.2,997.8 L1252.3,974.8 L1261.4,951.5 L1269.6,927.8Z" fill="#b76411"/>
<path d="M1207.4,976.4 L1197.2,997.6 L1186.2,1018.3 L1174.3,1038.6 L1205.9,1058.8 L1218.6,1037.2 L1230.3,1015.1 L1241.2,992.6Z" fill="#b86110"/>
<path d="M1176.4,1035.2 L1163.8,1055.1 L1150.5,1074.4 L1136.3,1093.2 L1165.3,1117.0 L1180.4,1096.9 L1194.7,1076.3 L1208.1,1055.2Z" fill="#b85e0f"/>
<path d="M1138.7,1090.1 L1123.9,1108.4 L1108.3,1126.1 L1092.0,1143.2 L1114.4,1166.3 L1131.6,1148.3 L1148.1,1129.6 L1163.7,1110.2Z" fill="#b85b0f"/>
<path d="M1094.9,1140.3 L1078.0,1156.8 L1060.4,1172.7 L1042.2,1187.7 L1061.7,1213.3 L1080.9,1197.4 L1099.5,1180.7 L1117.4,1163.3Z" fill="#b8580e"/>
<path d="M1045.3,1185.2 L1026.6,1199.7 L1007.3,1213.4 L987.4,1226.3 L1003.6,1253.6 L1024.6,1240.0 L1045.0,1225.6 L1064.8,1210.3Z" fill="#b9550d"/>
<path d="M990.8,1224.2 L970.5,1236.4 L949.7,1247.8 L928.4,1258.3 L941.3,1287.3 L963.8,1276.2 L985.8,1264.2 L1007.2,1251.3Z" fill="#b9520d"/>
<path d="M932.0,1256.6 L910.4,1266.4 L888.3,1275.3 L865.9,1283.3 L874.5,1311.0 L898.1,1302.7 L921.3,1293.3 L944.0,1283.0Z" fill="#b9500c"/>
<path d="M869.7,1282.0 L847.0,1289.3 L824.0,1295.6 L800.7,1300.9 L806.2,1329.5 L830.6,1323.9 L854.7,1317.3 L878.6,1309.7Z" fill="#b94e0c"/>
<path d="M804.7,1300.1 L781.3,1304.6 L757.7,1308.2 L733.9,1310.9 L735.8,1338.3 L760.7,1335.6 L785.5,1331.8 L810.0,1327.1Z" fill="#ba4c0c"/>
<path d="M737.9,1310.5 L714.1,1312.3 L690.1,1313.1 L666.2,1313.0 L664.9,1340.5 L690.0,1340.7 L715.1,1339.8 L740.1,1337.9Z" fill="#ba490b"/>
<path d="M670.2,1313.1 L646.3,1312.1 L622.3,1310.2 L598.5,1307.2 L594.1,1334.0 L619.1,1337.1 L644.1,1339.2 L669.2,1340.2Z" fill="#ba470b"/>
<path d="M602.5,1307.8 L578.8,1304.0 L555.2,1299.3 L531.8,1293.6 L524.4,1319.7 L548.8,1325.7 L573.5,1330.6 L598.4,1334.6Z" fill="#ba450b"/>
<path d="M535.8,1294.6 L512.6,1288.1 L489.7,1280.7 L467.1,1272.3 L457.1,1296.3 L480.7,1305.1 L504.6,1312.9 L528.8,1319.7Z" fill="#bb430b"/>
<path d="M470.9,1273.8 L448.5,1264.6 L426.6,1254.5 L405.1,1243.5 L392.4,1266.2 L414.8,1277.7 L437.7,1288.2 L461.1,1297.8Z" fill="#bb410b"/>
<path d="M408.7,1245.4 L387.5,1233.7 L366.9,1221.1 L346.7,1207.7 L331.7,1228.4 L352.7,1242.5 L374.3,1255.6 L396.3,1267.9Z" fill="#bb3f0b"/>
<path d="M350.1,1210.0 L330.4,1195.9 L311.3,1180.9 L292.8,1165.2 L275.4,1184.1 L294.7,1200.5 L314.7,1216.1 L335.2,1230.9Z" fill="#bb3d0a"/>
<path d="M295.9,1167.9 L277.9,1151.6 L260.6,1134.5 L244.0,1116.7 L225.5,1132.6 L242.8,1151.2 L260.7,1169.0 L279.4,1186.0Z" fill="#bc3b0a"/>
<path d="M246.8,1119.7 L230.8,1101.4 L215.6,1082.3 L201.2,1062.7 L180.9,1076.4 L195.9,1096.8 L211.8,1116.7 L228.4,1135.8Z" fill="#bc390a"/>
<path d="M203.6,1066.1 L189.8,1045.9 L176.9,1025.2 L164.8,1003.9 L143.8,1014.8 L156.3,1036.9 L169.8,1058.5 L184.0,1079.5Z" fill="#bc370a"/>
<path d="M166.8,1007.6 L155.4,985.9 L145.0,963.8 L135.4,941.2 L113.3,949.6 L123.2,973.1 L134.1,996.1 L145.8,1018.6Z" fill="#bc340a"/>
<path d="M137.0,945.1 L128.2,922.2 L120.4,899.0 L113.5,875.4 L92.0,880.8 L99.1,905.2 L107.2,929.4 L116.3,953.1Z" fill="#bc3209"/>
<path d="M114.6,879.5 L108.5,855.7 L103.4,831.6 L99.3,807.4 L77.4,810.2 L81.6,835.4 L86.9,860.3 L93.1,885.0Z" fill="#bc2f09"/>
<path d="M99.9,811.5 L96.7,787.1 L94.4,762.6 L93.1,738.0 L71.0,738.2 L72.3,763.8 L74.6,789.2 L78.0,814.5Z" fill="#bc2d09"/>
<path d="M93.3,742.1 L92.8,717.5 L93.4,692.8 L95.0,668.2 L73.0,665.9 L71.3,691.4 L70.7,717.0 L71.1,742.6Z" fill="#bc2a08"/>
<path d="M94.7,672.3 L97.1,647.8 L100.6,623.3 L105.1,598.9 L82.7,593.9 L78.1,619.2 L74.4,644.6 L71.9,670.1Z" fill="#bc2808"/>
<path d="M104.2,603.0 L109.5,578.8 L115.8,554.9 L123.1,531.2 L101.5,523.6 L93.9,548.2 L87.4,573.1 L81.8,598.2Z" fill="#bc2508"/>
<path d="M121.8,535.2 L129.9,511.7 L139.0,488.6 L149.0,465.8 L129.0,456.1 L118.7,479.7 L109.3,503.7 L100.9,528.0Z" fill="#bb2207"/>
<path d="M147.2,469.7 L158.0,447.2 L169.7,425.3 L182.3,403.8 L163.6,391.9 L150.5,414.1 L138.4,436.9 L127.2,460.1Z" fill="#bb2007"/>
<path d="M180.1,407.4 L193.4,386.3 L207.6,365.8 L222.7,345.9 L205.5,331.9 L189.9,352.5 L175.2,373.8 L161.3,395.6Z" fill="#bb1d07"/>
<path d="M220.1,349.3 L235.8,329.9 L252.3,311.1 L269.6,293.0 L254.2,277.1 L236.3,295.8 L219.1,315.3 L202.8,335.4Z" fill="#bb1b07"/>
<path d="M266.6,296.1 L284.5,278.6 L303.2,261.8 L322.5,245.9 L308.3,227.3 L288.3,243.9 L268.9,261.3 L250.3,279.4Z" fill="#ba1806"/>
<path d="M319.1,248.5 L339.0,233.2 L359.5,218.7 L380.6,205.1 L368.7,185.0 L346.8,199.2 L325.5,214.2 L304.9,230.1Z" fill="#ba1506"/>
<path d="M377.0,207.3 L398.5,194.4 L420.6,182.3 L443.2,171.2 L431.5,145.0 L407.8,156.7 L384.7,169.2 L362.1,182.8Z" fill="#ba1306"/>
<path d="M439.3,173.0 L462.3,162.7 L485.6,153.2 L509.4,144.8 L500.8,117.4 L475.9,126.3 L451.5,136.1 L427.4,146.9Z" fill="#ba1006"/>
<path d="M505.3,146.2 L529.4,138.5 L553.8,131.9 L578.4,126.2 L572.5,95.0 L546.6,100.9 L520.9,107.9 L495.6,115.9Z" fill="#b90e05"/>
<path d="M574.2,127.1 L597.6,122.5 L621.2,118.9 L644.9,116.1 L642.5,84.5 L617.5,87.4 L592.7,91.2 L568.1,96.0Z" fill="#b90b05"/>
</g>
<circle cx="971.4" cy="825.7" r="15" fill="#afafaf"/>
<circle cx="907.0" cy="1033.6" r="15" fill="#afafaf"/>
<circle cx="705.0" cy="1176.3" r="15" fill="#afafaf"/>
<circle cx="432.0" cy="1181.6" r="15" fill="#afafaf"/>
<circle cx="158.0" cy="993.6" r="15" fill="#afafaf"/>
<circle cx="395.0" cy="588.4" r="14.2" fill="none" stroke="#afafaf" stroke-width="1.7"/>
<circle cx="498.9" cy="374.3" r="14.2" fill="none" stroke="#afafaf" stroke-width="1.7"/>
<circle cx="752.7" cy="253.2" r="14.2" fill="none" stroke="#afafaf" stroke-width="1.7"/>
<circle cx="1087.1" cy="337.3" r="14.2" fill="none" stroke="#afafaf" stroke-width="1.7"/>
<g shape-rendering="crispEdges" fill="none" stroke-width="1">
<polyline points="542.6,481.4 549.8,476.8 557.1,472.5 564.5,468.4 572.0,464.5 579.7,460.8 587.5,457.3 595.4,454.1 603.4,451.0 611.4,448.2 619.6,445.7 627.8,443.4 636.2,441.3 644.6,439.4 653.0,437.9 661.5,436.5 670.0,435.4 678.6,434.5 687.2,433.9 695.9,433.6 704.5,433.5 713.2,433.6 721.8,434.0 730.5,434.7 739.1,435.6 747.7,436.8 756.3,438.2 764.9,439.8 773.4,441.7 781.8,443.9 790.2,446.3 798.6,449.0 806.8,451.9 815.0,455.0 823.1,458.4 831.1,462.0 839.0,465.9 846.8,470.0 854.5,474.3 862.1,478.9 869.5,483.6 876.8,488.6 884.0,493.8 891.0,499.3 897.8,504.9 904.5,510.7 911.1,516.8 917.4,523.0 923.6,529.4 929.6,536.0 935.4,542.8 941.0,549.7 946.4,556.8 951.6,564.1 956.6,571.6 961.4,579.1 966.0,586.9 970.3,594.7 974.5,602.7 978.4,610.9 982.0,619.1 985.4,627.5 988.6,635.9 991.5,644.5 994.2,653.1 996.6,661.9 998.8,670.7 1000.8,679.6 1002.4,688.5 1003.8,697.5 1005.0,706.5 1005.8,715.6 1006.5,724.7 1006.8,733.9 1006.9,743.0 1006.7,752.2 1006.3,761.3 1005.6,770.5 1004.6,779.6 1003.3,788.7 1001.8,797.8 1000.0,806.8 998.0,815.8 995.7,824.8 993.1,833.6 990.3,842.4 987.2,851.2 983.8,859.8 980.2,868.4 976.4,876.8 972.3,885.2 967.9,893.4 963.3,901.5 958.5,909.5 953.5,917.3 948.2,925.0 942.6,932.6 936.9,939.9 930.9,947.2 924.8,954.2 918.4,961.1 911.8,967.8 905.0,974.3 898.0,980.6 890.8,986.8 883.5,992.7 875.9,998.4 868.2,1003.9 860.4,1009.1 852.4,1014.2 844.2,1019.0 835.9,1023.5 827.4,1027.9 818.8,1031.9 810.1,1035.8 801.3,1039.4 792.3,1042.7 783.3,1045.8 774.2,1048.6 764.9,1051.1 755.6,1053.4 746.3,1055.4 736.8,1057.1 727.4,1058.6 717.8,1059.8 708.2,1060.7 698.6,1061.3 689.0,1061.7 679.3,1061.7 669.7,1061.5 660.0,1061.0 650.4,1060.2 640.8,1059.2 631.2,1057.8 621.6,1056.2 612.1,1054.3 602.6,1052.1 593.2,1049.7 583.8,1047.0 574.6,1043.9 565.4,1040.7 556.3,1037.1 547.3,1033.3 538.4,1029.2 529.6,1024.9 520.9,1020.3 512.4,1015.4 504.0,1010.3 495.7,1005.0 487.7,999.4 479.7,993.5 471.9,987.5 464.3,981.2 456.9,974.7 449.7,967.9 442.6,960.9 435.8,953.8 429.2,946.4 422.7,938.8 416.5,931.1 410.6,923.1 404.8,915.0 399.3,906.7 394.0,898.3 389.0,889.7 384.2,880.9 379.6,872.0 375.4,862.9 371.3,853.8 367.6,844.5 364.1,835.0 360.9,825.5 358.0,815.9 355.3,806.2 352.9,796.4 350.8,786.5 349.0,776.6 347.5,766.6 346.3,756.6 345.4,746.5 344.7,736.4 344.4,726.3 344.3,716.1 344.6,706.0 345.1,695.8 346.0,685.7 347.1,675.6 348.5,665.5 350.3,655.4 352.3,645.4 354.6,635.4 357.2,625.5 360.1,615.7 363.3,606.0 366.7,596.3 370.5,586.8 374.5,577.3 378.8,568.0 383.4,558.7 388.3,549.7 393.4,540.7 398.8,531.9 404.4,523.2 410.3,514.7 416.4,506.4 422.8,498.3 429.5,490.3 436.3,482.5 443.4,474.9 450.8,467.5 458.3,460.4 466.1,453.4 474.0,446.7 482.2,440.2 490.5,433.9 499.1,427.9 507.8,422.1 516.7,416.6 525.8,411.3 535.0,406.3 544.3,401.6 553.9,397.1 563.5,392.9 573.3,389.0 583.2,385.3 593.2,382.0 603.3,378.9 613.5,376.2 623.7,373.7 634.1,371.5 644.5,369.6 655.0,368.1 665.5,366.8 676.1,365.9 686.7,365.2 697.4,364.9 708.0,364.8 718.7,365.1 729.3,365.7 739.9,366.6 750.6,367.8 761.1,369.3 771.7,371.2 782.2,373.3 792.6,375.8 803.0,378.5 813.3,381.6 823.5,384.9 833.6,388.6 843.6,392.5 853.5,396.8 863.3,401.3 873.0,406.1 882.5,411.2 891.9,416.6 901.1,422.3 910.2,428.2 919.1,434.4 927.8,440.9 936.3,447.6 944.7,454.6 952.8,461.8 960.7,469.2 968.5,476.9 976.0,484.9 983.2,493.0 990.3,501.4 997.1,509.9 1003.6,518.7 1009.9,527.7 1016.0,536.8 1021.7,546.1 1027.2,555.6 1032.5,565.3 1037.4,575.1 1042.1,585.1 1046.5,595.2 1050.5,605.4 1054.3,615.8 1057.8,626.3 1061.0,636.9 1063.9,647.6 1066.4,658.3 1068.7,669.2 1070.6,680.1 1072.3,691.1 1073.6,702.1 1074.5,713.2 1075.2,724.3 1075.5,735.4 1075.5,746.6 1075.2,757.7 1074.6,768.9 1073.6,780.0 1072.3,791.1 1070.7,802.2 1068.8,813.2 1066.5,824.2 1063.9,835.1 1061.0,846.0 1057.8,856.8 1054.3,867.4 1050.5,878.0 1046.3,888.5 1041.8,898.9 1037.1,909.1 1032.0,919.2 1026.6,929.1 1021.0,938.9 1015.0,948.6 1008.8,958.0 1002.3,967.3 995.5,976.4 988.5,985.4 981.2,994.1 973.6,1002.6 965.8,1010.9 957.8,1018.9 949.5,1026.7 940.9,1034.3 932.2,1041.7 923.2,1048.8 914.0,1055.6 904.6,1062.2 895.1,1068.5 885.3,1074.5 875.4,1080.2 865.2,1085.7 855.0,1090.8 844.5,1095.7 834.0,1100.2 823.2,1104.5 812.4,1108.4 801.4,1112.1 790.4,1115.4 779.2,1118.4 767.9,1121.0 756.6,1123.4 745.2,1125.4 733.7,1127.0 722.2,1128.4 710.6,1129.4 699.0,1130.0 687.3,1130.4 675.7,1130.4 664.0,1130.0 652.4,1129.3 640.8,1128.3 629.2,1126.9 617.6,1125.2 606.1,1123.2 594.6,1120.8 583.2,1118.1 571.9,1115.0 560.6,1111.7 549.5,1107.9 538.4,1103.9 527.5,1099.6 516.7,1094.9 506.0,1089.9 495.5,1084.6 485.1,1079.0 474.9,1073.0 464.8,1066.8 455.0,1060.3 445.3,1053.5 435.8,1046.4 426.5,1039.0 417.4,1031.4 408.5,1023.5 399.9,1015.3 391.5,1006.9 383.3,998.2 375.4,989.3 367.8,980.1 360.4,970.8 353.3,961.2 346.5,951.4 339.9,941.4 333.6,931.2 327.7,920.8 322.0,910.2 316.6,899.5 311.6,888.6 306.8,877.5 302.4,866.3 298.3,855.0 294.6,843.6 291.1,832.0 288.0,820.4 285.3,808.6 282.9,796.8 280.8,784.9 279.1,772.9 277.7,760.9 276.7,748.8 276.0,736.7 275.7,724.5 275.7,712.4 276.1,700.2 276.8,688.1 277.9,676.0 279.4,663.9 281.2,651.8 283.3,639.8 285.8,627.9 288.7,616.0 291.9,604.2 295.4,592.4 299.3,580.8 303.5,569.3 308.1,557.9 313.0,546.7 318.2,535.6 323.7,524.6 329.6,513.8 335.8,503.1 342.3,492.7 349.1,482.4 356.2,472.3 363.6,462.4 371.3,452.7 379.3,443.3 387.6,434.1 396.1,425.1 404.9,416.3 413.9,407.9 423.3,399.6 432.8,391.7 442.6,384.0 452.6,376.6 462.8,369.5 473.2,362.7 483.9,356.2 494.7,350.0 505.7,344.1 516.9,338.5 528.3,333.3 539.8,328.4 551.4,323.8 563.2,319.5 575.2,315.6 587.2,312.1 599.3,308.9 611.6,306.0 623.9,303.5 636.3,301.4 648.8,299.6 661.3,298.2 673.9,297.1 686.5,296.5 699.2,296.1 711.8,296.2 724.5,296.6 737.1,297.4 749.7,298.6 762.3,300.1 774.9,302.0 787.4,304.2 799.8,306.9 812.2,309.9 824.4,313.2 836.6,316.9 848.7,321.0 860.7,325.4 872.5,330.2 884.2,335.3 895.8,340.7 907.2,346.5 918.5,352.6 929.5,359.1 940.4,365.9 951.1,373.0 961.6,380.4 971.9,388.1 981.9,396.1 991.7,404.5 1001.3,413.1 1010.6,422.0 1019.7,431.1 1028.5,440.6 1037.1,450.2 1045.3,460.2 1053.3,470.4 1061.0,480.8 1068.3,491.4 1075.4,502.3 1082.2,513.4 1088.6,524.7 1094.7,536.1 1100.5,547.8 1105.9,559.6 1111.0,571.6 1115.8,583.7 1120.1,596.0 1124.2,608.4 1127.9,620.9 1131.2,633.5 1134.1,646.3 1136.7,659.1 1138.9,672.0 1140.7,685.0 1142.2,698.0 1143.3,711.1 1143.9,724.2 1144.3,737.3 1144.2,750.5 1143.7,763.6 1142.9,776.8 1141.7,789.9 1140.1,803.0 1138.1,816.0 1135.7,829.0 1133.0,841.9 1129.8,854.8 1126.3,867.5 1122.5,880.2 1118.2,892.7 1113.6,905.2 1108.6,917.5 1103.3,929.6 1097.6,941.6 1091.6,953.5 1085.2,965.1 1078.5,976.6 1071.4,987.9 1064.0,999.0 1056.3,1009.9 1048.3,1020.6 1039.9,1031.0 1031.3,1041.2 1022.3,1051.1 1013.0,1060.8 1003.5,1070.2 993.7,1079.3 983.6,1088.2 973.3,1096.8 962.7,1105.0 951.9,1113.0 940.8,1120.6 929.5,1128.0 918.0,1135.0 906.3,1141.6 894.4,1147.9 882.3,1153.9 870.0,1159.5 857.5,1164.8 844.9,1169.7 832.2,1174.3 819.3,1178.4 806.3,1182.2 793.2,1185.7 779.9,1188.7 766.6,1191.4 753.2,1193.6 739.7,1195.5 726.2,1197.0 712.6,1198.1 699.0,1198.8 685.4,1199.1 671.7,1199.0 658.1,1198.5 644.5,1197.6 630.8,1196.3 617.3,1194.6 603.7,1192.6 590.3,1190.1 576.8,1187.2 563.5,1183.9 550.3,1180.3 537.1,1176.3 524.1,1171.8 511.2,1167.0 498.5,1161.9 485.9,1156.3 473.4,1150.4 461.1,1144.1 449.0,1137.5 437.1,1130.5 425.4,1123.1 413.9,1115.4 402.6,1107.4 391.6,1099.1 380.8,1090.4 370.2,1081.4 359.9,1072.1 349.9,1062.5 340.2,1052.6 330.7,1042.4 321.5,1031.9 312.7,1021.2 304.1,1010.2 295.9,998.9 287.9,987.5 280.4,975.7 273.1,963.8 266.2,951.6 259.7,939.3 253.5,926.7 247.7,914.0 242.2,901.0 237.2,888.0 232.5,874.7 228.2,861.4 224.2,847.9 220.7,834.3 217.6,820.5 214.8,806.7 212.5,792.8 210.6,778.9 209.1,764.8 208.0,750.8 207.2,736.6 207.0,722.5 207.1,708.4 207.6,694.2 208.5,680.1 209.9,666.0 211.7,651.9 213.8,637.9 216.4,623.9 219.4,610.0 222.8,596.2 226.6,582.5 230.8,568.9 235.4,555.4 240.4,542.1 245.8,528.8 251.6,515.8 257.7,502.9 264.2,490.2 271.1,477.6 278.4,465.3 286.0,453.2 294.0,441.3 302.3,429.6 311.0,418.2 320.0,407.0 329.4,396.1 339.0,385.4 349.0,375.0 359.2,364.9 369.8,355.2 380.7,345.7 391.8,336.5 403.2,327.7 414.9,319.1 426.8,311.0 438.9,303.1 451.3,295.6 463.9,288.5 476.7,281.8 489.8,275.4 503.0,269.4 516.4,263.7 529.9,258.5 543.6,253.7 557.5,249.2 571.4,245.2 585.5,241.5 599.8,238.3 614.1,235.5 628.5,233.1 642.9,231.1 657.4,229.6 672.0,228.4 686.6,227.7 701.3,227.4 715.9,227.6 730.6,228.1 745.2,229.1 759.8,230.6 774.4,232.4 788.9,234.7 803.3,237.4 817.7,240.5 832.0,244.0 846.2,248.0 860.3,252.4 874.2,257.1 888.0,262.3 901.7,267.9 915.2,273.9 928.5,280.3 941.7,287.0 954.7,294.2 967.4,301.7 979.9,309.6 992.3,317.9 1004.3,326.6 1016.1,335.5 1027.7,344.9 1039.0,354.6 1050.0,364.6 1060.7,374.9 1071.2,385.5 1081.3,396.5 1091.1,407.7 1100.5,419.3 1109.7,431.1 1118.5,443.1 1126.9,455.5 1135.0,468.1 1142.7,480.9 1150.1,493.9 1157.1,507.2 1163.7,520.7 1169.9,534.3 1175.7,548.2 1181.1,562.2 1186.0,576.4 1190.6,590.7 1194.8,605.2 1198.5,619.8 1201.8,634.5 1204.7,649.3 1207.2,664.2 1209.2,679.1 1210.8,694.2 1212.0,709.2 1212.7,724.4 1213.0,739.5 1212.8,754.6 1212.2,769.8 1211.1,784.9 1209.7,800.0 1207.7,815.1 1205.4,830.1 1202.5,845.0 1199.3,859.9 1195.6,874.7 1191.5,889.3 1187.0,903.9 1182.0,918.3 1176.7,932.6 1170.9,946.7 1164.7,960.6 1158.0,974.4 1151.0,988.0 1143.6,1001.4 1135.8,1014.6 1127.6,1027.5 1119.0,1040.2 1110.1,1052.7 1100.8,1064.9 1091.1,1076.8 1081.1,1088.5 1070.8,1099.9 1060.1,1110.9 1049.1,1121.7 1037.7,1132.1 1026.1,1142.3 1014.2,1152.0 1001.9,1161.5 989.5,1170.5 976.7,1179.3 963.7,1187.6 950.4,1195.6 936.9,1203.2 923.2,1210.3 909.3,1217.1 895.1,1223.5 880.8,1229.5 866.3,1235.1 851.7,1240.2 836.8,1244.9 821.9,1249.2 806.8,1253.0 791.6,1256.4 776.3,1259.4 760.9,1261.9 745.5,1264.0 730.0,1265.6 714.4,1266.8 698.8,1267.5 683.1,1267.8 667.5,1267.6 651.8,1267.0 636.2,1265.9 620.6,1264.3 605.1,1262.3 589.6,1259.8 574.1,1256.9 558.8,1253.5 543.5,1249.7 528.4,1245.5 513.4,1240.8 498.5,1235.6 483.8,1230.1 469.2,1224.1 454.8,1217.6 440.6,1210.8 426.5,1203.5 412.7,1195.8 399.1,1187.8 385.8,1179.3 372.6,1170.4 359.8,1161.2 347.2,1151.5 334.9,1141.6 322.8,1131.2 311.1,1120.5 299.7,1109.4 288.6,1098.1 277.8,1086.4 267.4,1074.3 257.3,1062.0 247.6,1049.4 238.3,1036.5 229.3,1023.3 220.7,1009.8 212.5,996.1 204.7,982.2 197.3,968.0 190.3,953.6 183.7,939.0 177.5,924.3 171.8,909.3 166.5,894.1 161.7,878.9 157.3,863.4 153.3,847.8 149.8,832.2 146.8,816.4 144.2,800.5 142.1,784.5 140.4,768.5 139.2,752.4 138.5,736.3 138.2,720.2 138.5,704.0 139.1,687.9 140.3,671.8 141.9,655.7 144.0,639.6 146.6,623.6 149.6,607.7 153.1,591.9 157.1,576.2 161.5,560.6 166.3,545.1 171.7,529.7 177.4,514.5 183.6,499.5 190.3,484.6 197.4,470.0 204.9,455.5 212.8,441.3 221.2,427.2 229.9,413.5 239.1,399.9 248.6,386.7 258.6,373.7 268.9,361.0 279.6,348.6 290.7,336.5 302.1,324.8 313.8,313.4 325.9,302.3 338.3,291.5 351.1,281.1 364.1,271.1 377.4,261.5 391.0,252.2 404.9,243.4 419.0,234.9 433.4,226.9 448.0,219.3 462.9,212.1 477.9,205.3 493.2,199.0 508.6,193.1 524.3,187.7 540.0,182.7 556.0,178.2 572.0,174.1 588.2,170.5 604.5,167.4 620.9,164.8 637.3,162.6 653.8,160.9 670.4,159.7 687.0,159.0 703.7,158.7 720.3,159.0 736.9,159.7 753.6,160.9 770.2,162.6 786.7,164.8 803.2,167.4 819.6,170.6 835.9,174.2 852.1,178.3 868.2,182.9 884.2,187.9 900.0,193.4 915.6,199.4 931.1,205.8 946.4,212.6 961.5,220.0 976.4,227.7 991.1,235.9 1005.5,244.5 1019.7,253.6 1033.6,263.0 1047.3,272.9 1060.7,283.2 1073.7,293.8 1086.5,304.9 1098.9,316.3 1111.0,328.0 1122.8,340.2 1134.2,352.6 1145.3,365.4 1155.9,378.6 1166.2,392.0 1176.2,405.7 1185.7,419.8 1194.8,434.1 1203.5,448.7 1211.7,463.5 1219.6,478.6 1227.0,493.9 1233.9,509.4 1240.4,525.1 1246.5,541.0 1252.0,557.1 1257.1,573.4 1261.8,589.8 1265.9,606.3 1269.6,623.0 1272.8,639.8 1275.5,656.7 1277.7,673.6 1279.5,690.6 1280.7,707.7 1281.4,724.8 1281.7,742.0 1281.4,759.1 1280.6,776.3 1279.4,793.4 1277.6,810.5 1275.3,827.5 1272.6,844.5 1269.3,861.3 1265.6,878.1 1261.3,894.8 1256.6,911.4 1251.4,927.8 1245.7,944.1 1239.6,960.2 1233.0,976.2 1225.9,991.9 1218.3,1007.5 1210.3,1022.8 1201.8,1037.9 1193.0,1052.8 1183.6,1067.4 1173.9,1081.7 1163.7,1095.7 1153.1,1109.5 1142.1,1122.9 1130.8,1136.1 1119.0,1148.8 1106.9,1161.3 1094.4,1173.4 1081.5,1185.1 1068.3,1196.5 1054.8,1207.5 1040.9,1218.1 1026.8,1228.3 1012.3,1238.0 997.6,1247.4 982.6,1256.3 967.3,1264.8 951.8,1272.9 936.0,1280.5 920.0,1287.6 903.8,1294.3 887.4,1300.5 870.9,1306.2 854.1,1311.4 837.2,1316.2 820.2,1320.5 803.0,1324.2 785.8,1327.5 768.4,1330.3 750.9,1332.5 733.4,1334.3 715.8,1335.5 698.2,1336.3 680.6,1336.5 662.9,1336.2 645.3,1335.4 627.7,1334.1 610.1,1332.2 592.6,1329.9 575.1,1327.0 557.7,1323.7 540.5,1319.8 523.3,1315.4 506.2,1310.5 489.3,1305.2 472.6,1299.3 456.0,1293.0 439.6,1286.1 423.4,1278.8 407.4,1271.0 391.7,1262.8 376.1,1254.0 360.9,1244.9 345.9,1235.3 331.1,1225.2 316.7,1214.7 302.6,1203.8 288.7,1192.5 275.2,1180.8 262.1,1168.7 249.3,1156.2 236.9,1143.3 224.8,1130.1 213.1,1116.5 201.8,1102.6 191.0,1088.3 180.5,1073.7 170.5,1058.9 160.8,1043.7 151.7,1028.2 143.0,1012.5 134.7,996.5 126.9,980.3 119.6,963.9 112.7,947.2 106.4,930.3 100.5,913.3 95.1,896.1 90.2,878.7 85.9,861.1 82.0,843.5 78.7,825.7 75.8,807.9 73.5,789.9 71.8,771.9 70.5,753.8 69.8,735.7 69.6,717.6 69.9,699.4 70.7,681.3 72.1,663.2 74.0,645.1 76.4,627.1 79.4,609.1 82.9,591.3 86.9,573.5 91.4,555.8 96.4,538.3 102.0,520.9 108.0,503.7 114.6,486.7 121.6,469.8 129.1,453.2 137.2,436.8 145.7,420.6 154.6,404.6 164.1,388.9 174.0,373.5 184.3,358.4 195.1,343.5 206.3,329.0 218.0,314.8 230.1,301.0 242.5,287.5 255.4,274.3 268.6,261.6 282.2,249.2 296.2,237.2 310.5,225.6 325.2,214.4 340.2,203.7 355.5,193.4 371.1,183.5 387.0,174.1 403.2,165.2 419.6,156.7 436.3,148.7 453.2,141.2 470.3,134.2 487.7,127.7 505.2,121.6 522.9,116.1 540.8,111.1 558.8,106.7 576.9,102.7 595.2,99.3 613.6,96.4 632.0,94.1" stroke="#b0b0b0"/>
<polyline points="530.8,461.7 538.5,456.8 546.4,452.1 554.4,447.7 562.5,443.5 570.8,439.6 579.2,435.8 587.7,432.4 596.3,429.1 605.1,426.1 613.9,423.4 622.8,420.9 631.7,418.7 640.8,416.8 649.9,415.1 659.1,413.6 668.3,412.5 677.5,411.6 686.8,410.9 696.1,410.6 705.4,410.5 714.7,410.7 724.1,411.1 733.4,411.9 742.7,412.9 752.0,414.1 761.2,415.7 770.4,417.5 779.6,419.6 788.7,421.9 797.7,424.6 806.7,427.4 815.6,430.6 824.4,434.0 833.1,437.7 841.7,441.6 850.2,445.8 858.5,450.2 866.8,454.9 874.9,459.8 882.9,464.9 890.7,470.3 898.4,475.9 905.9,481.8 913.3,487.9 920.5,494.2 927.5,500.7 934.3,507.4 940.9,514.3 947.4,521.4 953.6,528.7 959.6,536.2 965.4,543.8 971.0,551.7 976.3,559.7 981.5,567.9 986.4,576.2 991.0,584.6 995.4,593.3 999.6,602.0 1003.5,610.9 1007.1,619.8 1010.5,628.9 1013.6,638.1 1016.5,647.4 1019.1,656.8 1021.4,666.3 1023.4,675.8 1025.2,685.4 1026.7,695.1 1027.9,704.8 1028.8,714.5 1029.5,724.3 1029.8,734.1 1029.9,743.9 1029.7,753.8 1029.2,763.6 1028.4,773.4 1027.3,783.2 1025.9,793.0 1024.3,802.7 1022.3,812.4 1020.1,822.0 1017.6,831.6 1014.9,841.1 1011.8,850.5 1008.5,859.9 1004.8,869.2 1001.0,878.3 996.8,887.4 992.4,896.3 987.7,905.1 982.8,913.8 977.6,922.3 972.1,930.7 966.5,938.9 960.5,947.0 954.3,954.9 947.9,962.7 941.3,970.2 934.4,977.6 927.4,984.7 920.1,991.7 912.6,998.4 904.9,1005.0 897.0,1011.3 888.9,1017.4 880.7,1023.2 872.2,1028.8 863.6,1034.2 854.9,1039.3 846.0,1044.2 836.9,1048.8 827.7,1053.2 818.4,1057.2 808.9,1061.1 799.3,1064.6 789.6,1067.9 779.9,1070.8 770.0,1073.6 760.0,1076.0 750.0,1078.1 739.9,1079.9 729.8,1081.5 719.6,1082.7 709.3,1083.7 699.0,1084.3 688.7,1084.7 678.4,1084.7 668.1,1084.5 657.8,1083.9 647.5,1083.0 637.2,1081.9 626.9,1080.4 616.7,1078.7 606.5,1076.6 596.4,1074.3 586.3,1071.6 576.3,1068.7 566.4,1065.5 556.6,1061.9 546.9,1058.1 537.3,1054.0 527.8,1049.7 518.4,1045.0 509.2,1040.1 500.1,1034.9 491.1,1029.4 482.3,1023.7 473.7,1017.7 465.2,1011.4 457.0,1004.9 448.9,998.2 440.9,991.2 433.2,984.0 425.7,976.5 418.4,968.9 411.4,961.0 404.5,952.9 397.9,944.6 391.6,936.1 385.4,927.4 379.6,918.6 373.9,909.5 368.6,900.3 363.5,891.0 358.7,881.5 354.1,871.8 349.9,862.0 345.9,852.1 342.2,842.0 338.8,831.9 335.7,821.6 332.9,811.2 330.4,800.8 328.1,790.3 326.2,779.7 324.6,769.0 323.4,758.3 322.4,747.6 321.7,736.8 321.4,726.0 321.4,715.2 321.6,704.4 322.2,693.5 323.2,682.7 324.4,671.9 325.9,661.2 327.8,650.5 330.0,639.8 332.4,629.2 335.2,618.7 338.3,608.2 341.7,597.8 345.5,587.6 349.5,577.4 353.8,567.3 358.4,557.4 363.3,547.6 368.5,537.9 373.9,528.4 379.7,519.0 385.7,509.8 392.0,500.8 398.6,491.9 405.4,483.3 412.5,474.8 419.8,466.5 427.4,458.5 435.2,450.6 443.2,443.0 451.5,435.6 460.0,428.5 468.7,421.6 477.6,414.9 486.7,408.5 496.0,402.4 505.4,396.5 515.1,390.9 524.9,385.6 534.9,380.6 545.0,375.9 555.3,371.4 565.7,367.3 576.2,363.4 586.8,359.9 597.6,356.6 608.4,353.7 619.4,351.1 630.4,348.8 641.5,346.8 652.6,345.2 663.8,343.9 675.1,342.9 686.3,342.2 697.6,341.9 709.0,341.9 720.3,342.2 731.6,342.8 742.9,343.8 754.2,345.1 765.4,346.7 776.6,348.7 787.8,351.0 798.9,353.6 809.9,356.6 820.8,359.8 831.6,363.4 842.4,367.3 853.0,371.5 863.5,376.1 873.9,380.9 884.2,386.0 894.3,391.5 904.2,397.2 914.0,403.2 923.6,409.6 933.0,416.2 942.3,423.0 951.3,430.2 960.2,437.6 968.8,445.3 977.2,453.2 985.4,461.4 993.3,469.8 1001.0,478.4 1008.5,487.3 1015.7,496.4 1022.6,505.7 1029.3,515.3 1035.7,525.0 1041.8,534.9 1047.6,545.0 1053.1,555.2 1058.4,565.7 1063.3,576.3 1067.9,587.0 1072.3,597.9 1076.3,608.9 1079.9,620.0 1083.3,631.2 1086.3,642.5 1089.0,654.0 1091.4,665.5 1093.4,677.1 1095.1,688.7 1096.5,700.4 1097.5,712.2 1098.2,723.9 1098.5,735.7 1098.5,747.6 1098.2,759.4 1097.5,771.2 1096.4,783.0 1095.0,794.8 1093.3,806.5 1091.2,818.2 1088.8,829.8 1086.1,841.4 1083.0,852.9 1079.6,864.3 1075.8,875.6 1071.7,886.8 1067.3,897.9 1062.6,908.9 1057.5,919.7 1052.1,930.4 1046.4,940.9 1040.4,951.3 1034.1,961.5 1027.5,971.5 1020.6,981.3 1013.4,990.9 1005.9,1000.4 998.2,1009.6 990.1,1018.6 981.9,1027.3 973.3,1035.9 964.5,1044.1 955.5,1052.1 946.2,1059.9 936.7,1067.4 927.0,1074.6 917.0,1081.5 906.9,1088.2 896.5,1094.6 886.0,1100.6 875.3,1106.4 864.4,1111.8 853.4,1116.9 842.2,1121.7 830.8,1126.2 819.3,1130.4 807.7,1134.2 796.0,1137.7 784.2,1140.8 772.3,1143.6 760.3,1146.1 748.2,1148.2 736.1,1149.9 723.9,1151.3 711.6,1152.4 699.3,1153.0 687.0,1153.4 674.7,1153.3 662.4,1153.0 650.1,1152.2 637.8,1151.1 625.5,1149.6 613.3,1147.8 601.1,1145.6 589.0,1143.1 576.9,1140.2 565.0,1137.0 553.1,1133.4 541.3,1129.5 529.7,1125.2 518.1,1120.5 506.7,1115.6 495.4,1110.3 484.3,1104.7 473.3,1098.7 462.5,1092.4 451.9,1085.9 441.5,1079.0 431.3,1071.7 421.3,1064.2 411.4,1056.4 401.9,1048.4 392.5,1040.0 383.4,1031.3 374.6,1022.4 366.0,1013.3 357.6,1003.8 349.6,994.2 341.8,984.2 334.3,974.1 327.1,963.7 320.2,953.2 313.6,942.4 307.3,931.4 301.3,920.2 295.7,908.9 290.3,897.4 285.4,885.7 280.7,873.9 276.4,862.0 272.4,849.9 268.8,837.7 265.6,825.4 262.7,813.0 260.2,800.5 258.0,787.9 256.2,775.2 254.8,762.5 253.7,749.8 253.0,737.0 252.7,724.2 252.7,711.4 253.1,698.6 253.9,685.8 255.1,673.0 256.6,660.2 258.6,647.5 260.9,634.8 263.5,622.2 266.5,609.7 269.9,597.3 273.7,584.9 277.8,572.7 282.3,560.5 287.1,548.5 292.3,536.7 297.8,524.9 303.7,513.4 309.9,502.0 316.4,490.8 323.3,479.7 330.5,468.9 338.0,458.3 345.8,447.9 353.9,437.7 362.4,427.7 371.1,418.0 380.1,408.6 389.4,399.4 398.9,390.5 408.7,381.8 418.8,373.4 429.1,365.4 439.7,357.6 450.4,350.1 461.5,342.9 472.7,336.1 484.1,329.6 495.7,323.4 507.5,317.5 519.5,312.0 531.6,306.9 543.9,302.1 556.3,297.6 568.9,293.5 581.6,289.8 594.4,286.4 607.3,283.4 620.3,280.8 633.3,278.6 646.5,276.7 659.7,275.3 672.9,274.2 686.2,273.5 699.5,273.1 712.8,273.2 726.1,273.7 739.4,274.5 752.7,275.8 766.0,277.4 779.2,279.4 792.3,281.8 805.4,284.6 818.4,287.7 831.4,291.3 844.2,295.2 856.9,299.5 869.5,304.1 882.0,309.2 894.3,314.6 906.4,320.3 918.4,326.4 930.3,332.9 941.9,339.7 953.3,346.9 964.6,354.3 975.6,362.2 986.4,370.3 996.9,378.7 1007.3,387.5 1017.3,396.6 1027.1,405.9 1036.7,415.6 1045.9,425.5 1054.9,435.7 1063.6,446.2 1071.9,456.9 1080.0,467.9 1087.7,479.1 1095.2,490.5 1102.3,502.2 1109.0,514.0 1115.4,526.1 1121.5,538.4 1127.2,550.8 1132.5,563.4 1137.5,576.2 1142.1,589.1 1146.3,602.1 1150.2,615.3 1153.6,628.6 1156.7,642.0 1159.4,655.4 1161.7,669.0 1163.6,682.6 1165.1,696.3 1166.2,710.1 1166.9,723.9 1167.2,737.7 1167.2,751.5 1166.7,765.3 1165.8,779.1 1164.5,792.9 1162.8,806.6 1160.7,820.3 1158.2,834.0 1155.3,847.6 1152.0,861.0 1148.3,874.4 1144.2,887.7 1139.7,900.9 1134.9,914.0 1129.6,926.9 1124.0,939.7 1118.0,952.3 1111.7,964.7 1104.9,976.9 1097.9,989.0 1090.4,1000.9 1082.7,1012.5 1074.5,1023.9 1066.1,1035.1 1057.3,1046.0 1048.2,1056.7 1038.8,1067.2 1029.1,1077.3 1019.0,1087.2 1008.7,1096.8 998.1,1106.0 987.3,1115.0 976.1,1123.7 964.8,1132.0 953.1,1140.0 941.3,1147.7 929.2,1155.0 916.9,1162.0 904.4,1168.7 891.6,1174.9 878.8,1180.8 865.7,1186.3 852.5,1191.5 839.1,1196.2 825.5,1200.6 811.9,1204.6 798.1,1208.1 784.2,1211.3 770.2,1214.1 756.2,1216.4 742.0,1218.4 727.8,1219.9 713.6,1221.1 699.3,1221.8 685.0,1222.1 670.7,1222.0 656.4,1221.4 642.1,1220.5 627.8,1219.1 613.6,1217.3 599.4,1215.1 585.2,1212.5 571.2,1209.5 557.2,1206.1 543.3,1202.2 529.6,1198.0 515.9,1193.3 502.4,1188.3 489.0,1182.8 475.8,1177.0 462.8,1170.8 449.9,1164.2 437.2,1157.2 424.7,1149.9 412.5,1142.1 400.4,1134.1 388.6,1125.7 377.0,1116.9 365.7,1107.8 354.7,1098.3 343.9,1088.6 333.4,1078.5 323.2,1068.1 313.3,1057.4 303.7,1046.4 294.4,1035.2 285.4,1023.6 276.8,1011.8 268.5,999.8 260.6,987.5 253.0,975.0 245.8,962.2 239.0,949.2 232.5,936.1 226.4,922.7 220.7,909.2 215.4,895.5 210.5,881.6 206.0,867.6 201.9,853.5 198.3,839.2 195.0,824.8 192.1,810.3 189.7,795.8 187.7,781.2 186.1,766.5 185.0,751.7 184.2,736.9 184.0,722.1 184.1,707.3 184.7,692.5 185.7,677.7 187.1,662.9 189.0,648.2 191.3,633.5 194.0,618.9 197.1,604.3 200.7,589.9 204.7,575.5 209.1,561.3 213.9,547.2 219.2,533.2 224.8,519.4 230.9,505.7 237.3,492.2 244.2,478.9 251.4,465.8 259.0,452.9 267.0,440.2 275.4,427.8 284.1,415.6 293.2,403.6 302.6,391.9 312.4,380.5 322.5,369.4 333.0,358.5 343.7,348.0 354.8,337.7 366.2,327.8 377.8,318.2 389.8,309.0 402.0,300.1 414.5,291.5 427.2,283.3 440.2,275.5 453.4,268.1 466.8,261.0 480.4,254.4 494.2,248.1 508.2,242.2 522.4,236.8 536.7,231.7 551.2,227.1 565.9,222.9 580.6,219.1 595.5,215.7 610.4,212.8 625.5,210.3 640.6,208.2 655.8,206.6 671.1,205.5 686.3,204.7 701.7,204.4 717.0,204.6 732.3,205.2 747.6,206.3 762.8,207.8 778.1,209.7 793.2,212.1 808.4,214.9 823.4,218.2 838.3,221.9 853.2,226.1 867.9,230.6 882.4,235.7 896.9,241.1 911.2,246.9 925.3,253.2 939.2,259.9 953.0,267.0 966.5,274.5 979.8,282.4 992.9,290.7 1005.8,299.3 1018.4,308.3 1030.7,317.8 1042.8,327.5 1054.6,337.6 1066.1,348.1 1077.3,358.9 1088.2,370.0 1098.7,381.5 1108.9,393.2 1118.8,405.3 1128.4,417.6 1137.5,430.3 1146.4,443.2 1154.8,456.3 1162.9,469.7 1170.5,483.4 1177.8,497.2 1184.7,511.3 1191.1,525.6 1197.2,540.1 1202.8,554.7 1208.0,569.5 1212.8,584.5 1217.1,599.6 1221.0,614.9 1224.5,630.2 1227.5,645.7 1230.0,661.2 1232.1,676.9 1233.8,692.6 1235.0,708.3 1235.7,724.1 1236.0,739.9 1235.8,755.7 1235.1,771.5 1234.0,787.3 1232.4,803.1 1230.4,818.8 1227.9,834.5 1225.0,850.1 1221.6,865.6 1217.7,881.0 1213.4,896.3 1208.7,911.5 1203.5,926.5 1197.9,941.4 1191.8,956.2 1185.3,970.7 1178.4,985.1 1171.1,999.3 1163.3,1013.3 1155.2,1027.0 1146.6,1040.5 1137.6,1053.8 1128.3,1066.8 1118.6,1079.5 1108.5,1091.9 1098.0,1104.1 1087.2,1116.0 1076.0,1127.5 1064.5,1138.7 1052.7,1149.6 1040.6,1160.1 1028.1,1170.3 1015.4,1180.2 1002.3,1189.6 989.0,1198.7 975.4,1207.4 961.6,1215.7 947.5,1223.6 933.2,1231.1 918.6,1238.1 903.9,1244.8 888.9,1251.0 873.8,1256.8 858.5,1262.2 843.1,1267.1 827.5,1271.5 811.7,1275.5 795.9,1279.1 779.9,1282.1 763.9,1284.8 747.7,1286.9 731.5,1288.6 715.3,1289.8 699.0,1290.5 682.7,1290.8 666.4,1290.6 650.1,1289.9 633.8,1288.7 617.5,1287.1 601.3,1285.0 585.2,1282.4 569.1,1279.3 553.1,1275.8 537.2,1271.8 521.4,1267.4 505.8,1262.5 490.2,1257.1 474.9,1251.3 459.7,1245.0 444.7,1238.3 429.9,1231.1 415.2,1223.6 400.9,1215.5 386.7,1207.1 372.8,1198.3 359.1,1189.0 345.7,1179.4 332.6,1169.3 319.8,1158.9 307.2,1148.1 295.0,1136.9 283.1,1125.4 271.6,1113.5 260.4,1101.3 249.5,1088.8 239.0,1075.9 228.9,1062.8 219.2,1049.3 209.8,1035.6 200.9,1021.6 192.3,1007.3 184.2,992.7 176.5,978.0 169.2,963.0 162.4,947.8 156.0,932.4 150.1,916.8 144.6,901.0 139.5,885.0 135.0,869.0 130.9,852.7 127.2,836.4 124.1,819.9 121.4,803.4 119.2,786.8 117.5,770.1 116.2,753.3 115.5,736.6 115.3,719.8 115.5,702.9 116.2,686.1 117.4,669.3 119.1,652.6 121.3,635.9 124.0,619.2 127.2,602.7 130.8,586.2 135.0,569.8 139.6,553.5 144.6,537.4 150.2,521.4 156.2,505.6 162.7,490.0 169.6,474.5 177.0,459.2 184.8,444.2 193.1,429.4 201.8,414.8 210.9,400.5 220.5,386.4 230.5,372.6 240.8,359.1 251.6,345.9 262.7,333.0 274.2,320.5 286.1,308.2 298.4,296.3 310.9,284.8 323.9,273.6 337.1,262.8 350.7,252.4 364.6,242.4 378.7,232.8 393.2,223.6 407.9,214.8 422.9,206.5 438.1,198.5 453.6,191.1 469.2,184.0 485.1,177.5 501.2,171.4 517.4,165.7 533.9,160.6 550.4,155.9 567.1,151.7 584.0,147.9 600.9,144.7 618.0,142.0 635.1,139.7 652.3,138.0 669.5,136.7 686.8,136.0 704.1,135.7 721.4,136.0 738.7,136.8 756.0,138.0 773.3,139.8 790.5,142.1 807.6,144.9 824.7,148.2 841.6,151.9 858.5,156.2 875.2,161.0 891.8,166.2 908.3,171.9 924.5,178.2 940.6,184.8 956.6,192.0 972.3,199.6 987.7,207.7 1003.0,216.2 1018.0,225.2 1032.7,234.6 1047.2,244.5 1061.4,254.7 1075.3,265.4 1088.8,276.5 1102.1,288.0 1115.0,299.8 1127.6,312.1 1139.8,324.7 1151.7,337.7 1163.2,351.0 1174.3,364.6 1185.0,378.6 1195.3,392.9 1205.1,407.5 1214.6,422.4 1223.6,437.5 1232.2,453.0 1240.3,468.6 1248.0,484.6 1255.2,500.7 1261.9,517.0 1268.2,533.6 1274.0,550.3 1279.3,567.2 1284.1,584.3 1288.4,601.5 1292.2,618.8 1295.5,636.2 1298.4,653.8 1300.6,671.4 1302.4,689.1 1303.7,706.8 1304.4,724.6 1304.7,742.4 1304.4,760.2 1303.6,778.0 1302.2,795.8 1300.4,813.6 1298.0,831.3 1295.1,848.9 1291.8,866.4 1287.9,883.9 1283.4,901.2 1278.5,918.4 1273.1,935.5 1267.2,952.4 1260.8,969.2 1253.9,985.7 1246.5,1002.1 1238.7,1018.2 1230.3,1034.1 1221.5,1049.8 1212.3,1065.2 1202.6,1080.4 1192.4,1095.3 1181.9,1109.8 1170.9,1124.1 1159.5,1138.1 1147.6,1151.7 1135.4,1165.0 1122.8,1177.9 1109.8,1190.4 1096.5,1202.6 1082.8,1214.4 1068.7,1225.8 1054.3,1236.8 1039.6,1247.4 1024.6,1257.5 1009.3,1267.2 993.7,1276.5 977.8,1285.3 961.7,1293.6 945.3,1301.5 928.7,1308.9 911.9,1315.8 894.9,1322.2 877.7,1328.2 860.3,1333.6 842.7,1338.5 825.0,1343.0 807.2,1346.9 789.3,1350.2 771.3,1353.1 753.1,1355.4 734.9,1357.2 716.7,1358.5 698.4,1359.3 680.1,1359.5 661.8,1359.2 643.5,1358.3 625.2,1356.9 607.0,1355.0 588.8,1352.6 570.7,1349.6 552.6,1346.1 534.7,1342.1 516.9,1337.5 499.2,1332.4 481.7,1326.9 464.3,1320.8 447.1,1314.2 430.1,1307.0 413.3,1299.4 396.7,1291.4 380.3,1282.8 364.2,1273.7 348.4,1264.2 332.8,1254.2 317.6,1243.8 302.6,1232.9 287.9,1221.6 273.6,1209.8 259.6,1197.7 246.0,1185.1 232.7,1172.1 219.8,1158.8 207.3,1145.0 195.2,1130.9 183.5,1116.5 172.2,1101.7 161.4,1086.6 151.0,1071.1 141.0,1055.4 131.5,1039.3 122.5,1023.0 113.9,1006.4 105.9,989.6 98.3,972.5 91.2,955.2 84.6,937.8 78.5,920.1 73.0,902.2 67.9,884.2 63.4,866.0 59.4,847.7 55.9,829.2 53.0,810.7 50.6,792.1 48.8,773.4 47.5,754.7 46.8,735.9 46.6,717.1 46.9,698.3 47.8,679.5 49.2,660.7 51.2,642.0 53.8,623.3 56.8,604.7 60.4,586.1 64.6,567.7 69.3,549.4 74.5,531.3 80.3,513.3 86.6,495.4 93.4,477.8 100.7,460.3 108.5,443.0 116.8,426.0 125.7,409.2 135.0,392.7 144.8,376.4 155.0,360.5 165.8,344.8 177.0,329.4 188.6,314.4 200.7,299.7 213.2,285.3 226.1,271.3 239.5,257.7 253.2,244.5 267.3,231.7 281.8,219.3 296.7,207.3 311.9,195.7 327.4,184.6 343.3,173.9 359.4,163.7 375.9,154.0 392.7,144.7 409.7,135.9 427.0,127.7 444.5,119.9 462.3,112.6 480.3,105.9 498.4,99.7 516.8,94.0 535.3,88.8 554.0,84.2 572.8,80.1 591.7,76.6 610.7,73.6 629.8,71.2" stroke="#b0b0b0"/>
<polyline points="518.9,442.0 527.2,436.8 535.7,431.8 544.3,427.1 553.0,422.6 561.9,418.4 570.9,414.4 580.1,410.7 589.3,407.2 598.7,404.0 608.2,401.1 617.7,398.5 627.3,396.1 637.0,394.1 646.8,392.3 656.6,390.8 666.5,389.5 676.4,388.6 686.4,387.9 696.3,387.6 706.3,387.5 716.3,387.7 726.3,388.3 736.3,389.1 746.2,390.2 756.2,391.5 766.1,393.2 775.9,395.2 785.7,397.4 795.5,400.0 805.2,402.8 814.8,405.9 824.3,409.3 833.7,413.0 843.0,416.9 852.2,421.1 861.3,425.6 870.2,430.4 879.1,435.4 887.8,440.7 896.3,446.2 904.7,452.0 912.9,458.1 920.9,464.3 928.8,470.9 936.4,477.6 943.9,484.6 951.2,491.8 958.3,499.2 965.1,506.8 971.8,514.6 978.2,522.6 984.4,530.9 990.3,539.3 996.1,547.8 1001.5,556.6 1006.7,565.5 1011.7,574.5 1016.4,583.8 1020.8,593.1 1024.9,602.6 1028.8,612.2 1032.4,621.9 1035.7,631.8 1038.8,641.7 1041.5,651.8 1044.0,661.9 1046.1,672.1 1048.0,682.3 1049.6,692.7 1050.8,703.0 1051.8,713.4 1052.5,723.9 1052.8,734.4 1052.9,744.8 1052.6,755.3 1052.0,765.8 1051.2,776.3 1050.0,786.8 1048.5,797.2 1046.8,807.6 1044.7,817.9 1042.3,828.2 1039.6,838.4 1036.6,848.6 1033.3,858.6 1029.7,868.6 1025.9,878.5 1021.7,888.3 1017.3,897.9 1012.5,907.4 1007.5,916.8 1002.2,926.1 996.7,935.2 990.8,944.1 984.7,952.9 978.4,961.5 971.8,969.9 964.9,978.1 957.9,986.2 950.5,994.0 943.0,1001.6 935.2,1009.0 927.2,1016.2 919.0,1023.2 910.5,1029.9 901.9,1036.3 893.1,1042.6 884.1,1048.5 874.9,1054.2 865.6,1059.7 856.0,1064.9 846.4,1069.8 836.6,1074.4 826.6,1078.7 816.5,1082.8 806.3,1086.5 796.0,1090.0 785.6,1093.1 775.0,1096.0 764.4,1098.5 753.7,1100.8 743.0,1102.7 732.2,1104.3 721.3,1105.6 710.4,1106.6 699.4,1107.3 688.5,1107.7 677.5,1107.7 666.5,1107.4 655.5,1106.8 644.5,1105.9 633.6,1104.6 622.7,1103.0 611.8,1101.2 600.9,1099.0 590.2,1096.4 579.5,1093.6 568.9,1090.4 558.3,1087.0 547.9,1083.2 537.6,1079.1 527.3,1074.8 517.2,1070.1 507.3,1065.1 497.5,1059.9 487.8,1054.3 478.3,1048.5 468.9,1042.3 459.8,1036.0 450.8,1029.3 442.0,1022.4 433.4,1015.2 425.0,1007.7 416.8,1000.1 408.8,992.1 401.1,984.0 393.6,975.6 386.3,967.0 379.3,958.1 372.6,949.1 366.1,939.8 359.8,930.4 353.9,920.8 348.2,911.0 342.8,901.0 337.7,890.9 332.9,880.7 328.4,870.2 324.2,859.7 320.3,849.0 316.7,838.2 313.4,827.3 310.4,816.3 307.8,805.2 305.4,794.0 303.4,782.7 301.8,771.4 300.4,760.0 299.4,748.6 298.7,737.2 298.4,725.7 298.4,714.2 298.7,702.7 299.4,691.3 300.3,679.8 301.7,668.3 303.3,656.9 305.3,645.6 307.6,634.2 310.3,623.0 313.3,611.8 316.6,600.7 320.2,589.7 324.2,578.8 328.5,568.0 333.1,557.4 338.0,546.8 343.2,536.4 348.7,526.2 354.5,516.1 360.6,506.1 367.0,496.4 373.7,486.8 380.7,477.4 388.0,468.3 395.5,459.3 403.3,450.5 411.3,442.0 419.6,433.7 428.2,425.6 436.9,417.8 445.9,410.3 455.2,403.0 464.6,395.9 474.3,389.1 484.1,382.7 494.2,376.5 504.4,370.6 514.8,364.9 525.4,359.6 536.2,354.6 547.0,349.9 558.1,345.5 569.2,341.5 580.5,337.8 591.9,334.3 603.4,331.3 615.0,328.5 626.7,326.1 638.4,324.0 650.2,322.3 662.1,320.9 674.0,319.9 686.0,319.2 697.9,318.9 709.9,318.9 721.9,319.2 733.9,319.9 745.9,321.0 757.8,322.4 769.7,324.1 781.6,326.2 793.4,328.7 805.1,331.5 816.7,334.6 828.3,338.1 839.8,341.9 851.1,346.0 862.4,350.5 873.5,355.3 884.5,360.5 895.3,365.9 906.0,371.7 916.5,377.8 926.9,384.2 937.0,390.9 947.0,397.9 956.8,405.2 966.3,412.7 975.7,420.6 984.8,428.7 993.7,437.1 1002.3,445.8 1010.7,454.7 1018.8,463.9 1026.7,473.3 1034.3,482.9 1041.6,492.8 1048.7,502.9 1055.4,513.2 1061.9,523.6 1068.0,534.3 1073.8,545.2 1079.3,556.2 1084.5,567.4 1089.4,578.8 1094.0,590.3 1098.2,601.9 1102.1,613.7 1105.6,625.5 1108.8,637.5 1111.6,649.6 1114.1,661.8 1116.2,674.0 1118.0,686.3 1119.4,698.7 1120.5,711.1 1121.2,723.6 1121.5,736.0 1121.5,748.5 1121.1,761.0 1120.4,773.5 1119.2,786.0 1117.8,798.4 1115.9,810.8 1113.7,823.1 1111.1,835.4 1108.2,847.6 1104.9,859.8 1101.3,871.8 1097.3,883.7 1093.0,895.6 1088.3,907.3 1083.3,918.8 1077.9,930.3 1072.2,941.5 1066.2,952.7 1059.8,963.6 1053.1,974.4 1046.2,984.9 1038.8,995.3 1031.2,1005.5 1023.3,1015.4 1015.1,1025.1 1006.7,1034.6 997.9,1043.8 988.9,1052.8 979.6,1061.5 970.0,1070.0 960.2,1078.1 950.2,1086.0 939.9,1093.6 929.4,1100.9 918.7,1107.9 907.8,1114.6 896.6,1121.0 885.3,1127.0 873.8,1132.8 862.2,1138.2 850.4,1143.2 838.4,1147.9 826.3,1152.3 814.0,1156.3 801.7,1160.0 789.2,1163.3 776.6,1166.2 764.0,1168.8 751.2,1171.0 738.4,1172.8 725.5,1174.2 712.6,1175.3 699.7,1176.0 686.7,1176.4 673.7,1176.3 660.7,1175.9 647.8,1175.1 634.8,1173.9 621.9,1172.4 609.0,1170.4 596.2,1168.1 583.4,1165.4 570.7,1162.4 558.1,1158.9 545.6,1155.1 533.2,1151.0 520.9,1146.4 508.7,1141.5 496.7,1136.3 484.8,1130.7 473.1,1124.8 461.6,1118.5 450.2,1111.9 439.0,1104.9 428.1,1097.6 417.3,1090.0 406.7,1082.1 396.4,1073.9 386.3,1065.3 376.5,1056.5 366.9,1047.4 357.6,1038.0 348.6,1028.3 339.8,1018.4 331.3,1008.2 323.1,997.7 315.2,987.0 307.7,976.1 300.4,965.0 293.5,953.6 286.9,942.0 280.6,930.3 274.7,918.3 269.1,906.2 263.9,893.9 259.0,881.5 254.5,868.9 250.3,856.2 246.5,843.3 243.1,830.3 240.1,817.3 237.5,804.1 235.2,790.9 233.3,777.6 231.8,764.2 230.7,750.8 230.0,737.4 229.7,723.9 229.7,710.4 230.2,696.9 231.1,683.4 232.3,670.0 233.9,656.6 236.0,643.2 238.4,629.9 241.2,616.6 244.4,603.4 248.0,590.3 251.9,577.4 256.3,564.5 261.0,551.7 266.1,539.1 271.6,526.6 277.4,514.3 283.6,502.2 290.1,490.2 297.0,478.4 304.2,466.8 311.8,455.5 319.7,444.3 328.0,433.4 336.5,422.7 345.4,412.2 354.6,402.0 364.0,392.1 373.8,382.4 383.9,373.1 394.2,364.0 404.8,355.2 415.6,346.7 426.7,338.6 438.1,330.7 449.7,323.2 461.5,316.0 473.5,309.2 485.7,302.7 498.1,296.6 510.7,290.8 523.4,285.4 536.3,280.3 549.4,275.7 562.6,271.4 575.9,267.5 589.4,264.0 603.0,260.8 616.6,258.1 630.3,255.8 644.1,253.8 658.0,252.3 671.9,251.2 685.9,250.5 699.8,250.2 713.8,250.2 727.8,250.7 741.8,251.6 755.7,253.0 769.6,254.7 783.5,256.8 797.3,259.3 811.1,262.3 824.7,265.6 838.3,269.3 851.7,273.5 865.1,278.0 878.3,282.9 891.4,288.2 904.3,293.9 917.1,299.9 929.6,306.4 942.0,313.2 954.3,320.3 966.3,327.8 978.0,335.7 989.6,343.9 1000.9,352.5 1012.0,361.4 1022.8,370.6 1033.4,380.1 1043.6,389.9 1053.6,400.1 1063.3,410.5 1072.7,421.2 1081.8,432.2 1090.6,443.5 1099.0,455.0 1107.1,466.7 1114.9,478.7 1122.3,491.0 1129.4,503.4 1136.1,516.1 1142.5,529.0 1148.4,542.0 1154.0,555.2 1159.2,568.6 1164.0,582.2 1168.4,595.8 1172.5,609.7 1176.1,623.6 1179.3,637.6 1182.1,651.8 1184.5,666.0 1186.5,680.3 1188.1,694.7 1189.2,709.1 1189.9,723.5 1190.2,738.0 1190.1,752.5 1189.6,767.0 1188.6,781.5 1187.3,795.9 1185.5,810.3 1183.2,824.7 1180.6,839.0 1177.5,853.2 1174.1,867.3 1170.2,881.4 1165.9,895.3 1161.2,909.1 1156.1,922.8 1150.6,936.3 1144.7,949.7 1138.4,962.9 1131.7,975.9 1124.7,988.8 1117.2,1001.4 1109.4,1013.8 1101.3,1026.0 1092.8,1037.9 1083.9,1049.6 1074.7,1061.1 1065.1,1072.3 1055.3,1083.2 1045.1,1093.8 1034.6,1104.2 1023.7,1114.2 1012.6,1123.9 1001.3,1133.3 989.6,1142.3 977.7,1151.1 965.5,1159.5 953.0,1167.5 940.4,1175.1 927.5,1182.4 914.4,1189.4 901.0,1195.9 887.5,1202.1 873.8,1207.8 860.0,1213.2 846.0,1218.2 831.8,1222.7 817.5,1226.9 803.1,1230.6 788.5,1233.9 773.9,1236.8 759.2,1239.2 744.4,1241.3 729.5,1242.9 714.6,1244.0 699.6,1244.8 684.7,1245.1 669.7,1244.9 654.7,1244.4 639.7,1243.4 624.8,1241.9 609.9,1240.0 595.0,1237.7 580.2,1235.0 565.5,1231.8 550.9,1228.2 536.4,1224.2 522.0,1219.7 507.7,1214.8 493.6,1209.5 479.6,1203.8 465.8,1197.7 452.1,1191.2 438.7,1184.3 425.4,1176.9 412.4,1169.2 399.5,1161.2 386.9,1152.7 374.6,1143.9 362.5,1134.7 350.7,1125.2 339.1,1115.3 327.8,1105.0 316.9,1094.5 306.2,1083.6 295.8,1072.4 285.8,1060.9 276.1,1049.1 266.8,1037.1 257.8,1024.7 249.1,1012.1 240.8,999.2 232.9,986.1 225.4,972.8 218.3,959.2 211.5,945.5 205.2,931.5 199.2,917.3 193.7,903.0 188.6,888.5 183.9,873.8 179.6,859.1 175.8,844.1 172.4,829.1 169.4,814.0 166.9,798.8 164.8,783.5 163.2,768.1 162.0,752.7 161.3,737.2 161.0,721.8 161.1,706.3 161.7,690.8 162.8,675.3 164.3,659.9 166.3,644.5 168.7,629.1 171.5,613.9 174.8,598.7 178.6,583.6 182.8,568.6 187.4,553.7 192.5,539.0 197.9,524.4 203.9,509.9 210.2,495.7 217.0,481.6 224.1,467.7 231.7,454.0 239.7,440.5 248.0,427.3 256.8,414.3 265.9,401.5 275.4,389.0 285.3,376.8 295.5,364.9 306.1,353.3 317.0,342.0 328.2,331.0 339.8,320.3 351.7,309.9 363.9,299.9 376.4,290.3 389.1,281.0 402.2,272.1 415.4,263.6 429.0,255.4 442.8,247.7 456.8,240.3 471.0,233.4 485.5,226.8 500.1,220.7 514.9,215.0 529.9,209.8 545.0,204.9 560.3,200.5 575.7,196.6 591.2,193.1 606.8,190.1 622.6,187.5 638.3,185.3 654.2,183.7 670.1,182.5 686.1,181.7 702.0,181.4 718.0,181.6 734.0,182.3 750.0,183.4 765.9,185.0 781.8,187.0 797.6,189.5 813.4,192.5 829.1,195.9 844.6,199.8 860.1,204.1 875.5,208.9 890.7,214.2 905.7,219.9 920.6,226.0 935.4,232.5 949.9,239.5 964.2,246.9 978.3,254.8 992.2,263.0 1005.9,271.7 1019.3,280.7 1032.4,290.1 1045.3,300.0 1057.9,310.2 1070.2,320.7 1082.1,331.6 1093.8,342.9 1105.1,354.5 1116.2,366.5 1126.8,378.8 1137.1,391.3 1147.0,404.2 1156.6,417.4 1165.8,430.9 1174.6,444.6 1183.0,458.6 1191.0,472.8 1198.5,487.3 1205.7,502.0 1212.4,516.9 1218.7,532.0 1224.5,547.2 1230.0,562.7 1234.9,578.3 1239.4,594.1 1243.5,610.0 1247.1,626.0 1250.2,642.1 1252.8,658.3 1255.0,674.6 1256.7,691.0 1257.9,707.4 1258.7,723.8 1259.0,740.3 1258.7,756.8 1258.1,773.3 1256.9,789.7 1255.2,806.1 1253.1,822.5 1250.5,838.9 1247.4,855.1 1243.9,871.3 1239.8,887.3 1235.4,903.3 1230.4,919.1 1225.0,934.8 1219.1,950.3 1212.8,965.6 1206.0,980.8 1198.8,995.8 1191.1,1010.6 1183.0,1025.1 1174.5,1039.4 1165.6,1053.5 1156.2,1067.3 1146.5,1080.8 1136.4,1094.1 1125.8,1107.0 1114.9,1119.7 1103.6,1132.0 1092.0,1144.0 1080.0,1155.7 1067.7,1167.0 1055.0,1178.0 1042.0,1188.6 1028.8,1198.8 1015.2,1208.7 1001.3,1218.1 987.1,1227.2 972.7,1235.8 958.0,1244.0 943.1,1251.8 928.0,1259.2 912.6,1266.1 897.0,1272.5 881.3,1278.6 865.3,1284.1 849.3,1289.2 833.0,1293.8 816.6,1298.0 800.1,1301.7 783.5,1304.9 766.8,1307.6 750.0,1309.8 733.1,1311.5 716.2,1312.8 699.3,1313.5 682.3,1313.8 665.3,1313.6 648.3,1312.8 631.4,1311.6 614.5,1309.9 597.6,1307.7 580.8,1305.0 564.0,1301.8 547.4,1298.1 530.8,1293.9 514.4,1289.3 498.1,1284.2 482.0,1278.6 466.0,1272.5 450.2,1266.0 434.6,1259.0 419.2,1251.5 404.0,1243.6 389.0,1235.3 374.3,1226.5 359.8,1217.3 345.6,1207.6 331.6,1197.6 318.0,1187.1 304.7,1176.2 291.6,1165.0 278.9,1153.4 266.6,1141.4 254.6,1129.0 242.9,1116.3 231.6,1103.3 220.7,1089.9 210.2,1076.2 200.1,1062.2 190.4,1047.9 181.1,1033.3 172.2,1018.4 163.8,1003.3 155.8,987.9 148.2,972.3 141.1,956.5 134.5,940.5 128.3,924.2 122.6,907.8 117.4,891.2 112.6,874.5 108.4,857.6 104.6,840.6 101.3,823.5 98.6,806.3 96.3,789.0 94.5,771.7 93.3,754.3 92.5,736.8 92.3,719.3 92.5,701.9 93.3,684.4 94.6,666.9 96.3,649.5 98.6,632.1 101.4,614.8 104.7,597.6 108.6,580.5 112.9,563.4 117.7,546.5 123.0,529.8 128.7,513.2 135.0,496.7 141.7,480.5 149.0,464.4 156.7,448.5 164.8,432.9 173.4,417.5 182.5,402.4 192.0,387.5 201.9,372.9 212.3,358.5 223.0,344.5 234.2,330.8 245.8,317.4 257.8,304.4 270.2,291.7 282.9,279.3 296.0,267.3 309.4,255.7 323.2,244.5 337.3,233.7 351.7,223.3 366.5,213.3 381.5,203.8 396.8,194.7 412.4,186.0 428.2,177.8 444.2,170.0 460.5,162.8 477.0,155.9 493.7,149.6 510.6,143.8 527.7,138.4 544.9,133.5 562.3,129.2 579.8,125.3 597.4,122.0 615.1,119.1 632.8,116.8 650.7,115.0 668.6,113.7 686.6,113.0 704.5,112.7 722.5,113.0 740.5,113.8 758.5,115.2 776.4,117.0 794.2,119.4 812.0,122.3 829.7,125.7 847.4,129.7 864.9,134.1 882.2,139.1 899.5,144.5 916.5,150.5 933.4,156.9 950.2,163.9 966.7,171.3 983.0,179.3 999.0,187.7 1014.9,196.5 1030.4,205.9 1045.7,215.6 1060.8,225.9 1075.5,236.5 1089.9,247.6 1104.0,259.2 1117.7,271.1 1131.1,283.4 1144.2,296.1 1156.9,309.2 1169.2,322.7 1181.1,336.6 1192.6,350.7 1203.7,365.2 1214.3,380.1 1224.6,395.2 1234.4,410.7 1243.7,426.4 1252.6,442.4 1261.1,458.7 1269.0,475.2 1276.5,492.0 1283.5,509.0 1290.0,526.1 1296.0,543.5 1301.5,561.1 1306.4,578.8 1310.9,596.6 1314.9,614.6 1318.3,632.7 1321.2,650.9 1323.5,669.2 1325.4,687.5 1326.7,705.9 1327.4,724.4 1327.7,742.9 1327.3,761.4 1326.5,779.8 1325.1,798.3 1323.2,816.7 1320.7,835.0 1317.7,853.3 1314.2,871.5 1310.1,889.6 1305.5,907.6 1300.4,925.5 1294.8,943.2 1288.6,960.7 1282.0,978.1 1274.8,995.2 1267.2,1012.2 1259.0,1028.9 1250.4,1045.4 1241.2,1061.7 1231.6,1077.7 1221.6,1093.4 1211.0,1108.8 1200.0,1123.9 1188.6,1138.7 1176.8,1153.2 1164.5,1167.3 1151.8,1181.1 1138.7,1194.5 1125.3,1207.5 1111.4,1220.1 1097.2,1232.3 1082.6,1244.1 1067.7,1255.5 1052.4,1266.5 1036.8,1277.0 1021.0,1287.0 1004.8,1296.6 988.3,1305.7 971.6,1314.4 954.6,1322.5 937.4,1330.2 920.0,1337.4 902.3,1344.0 884.5,1350.2 866.4,1355.8 848.2,1360.9 829.9,1365.4 811.4,1369.5 792.8,1373.0 774.1,1375.9 755.3,1378.3 736.5,1380.2 717.6,1381.5 698.6,1382.3 679.7,1382.5 660.7,1382.1 641.7,1381.3 622.8,1379.8 603.8,1377.8 585.0,1375.3 566.2,1372.2 547.5,1368.5 529.0,1364.3 510.5,1359.6 492.2,1354.3 474.0,1348.5 456.0,1342.2 438.2,1335.4 420.5,1328.0 403.1,1320.1 385.9,1311.7 369.0,1302.8 352.3,1293.4 335.9,1283.5 319.8,1273.2 304.0,1262.4 288.5,1251.1 273.3,1239.3 258.5,1227.1 244.0,1214.5 229.9,1201.5 216.1,1188.0 202.8,1174.2 189.8,1160.0 177.3,1145.3 165.2,1130.4 153.5,1115.0 142.3,1099.4 131.5,1083.4 121.2,1067.0 111.4,1050.4 102.0,1033.5 93.2,1016.3 84.8,998.9 77.0,981.2 69.6,963.3 62.8,945.2 56.5,926.8 50.8,908.3 45.6,889.7 40.9,870.8 36.8,851.9 33.2,832.8 30.2,813.6 27.8,794.3 25.9,774.9 24.5,755.5 23.8,736.1 23.6,716.6 23.9,697.1 24.9,677.7 26.4,658.2 28.4,638.8 31.1,619.5 34.3,600.2 38.0,581.0 42.3,562.0 47.2,543.0 52.6,524.2 58.6,505.6 65.1,487.1 72.2,468.8 79.8,450.7 87.9,432.9 96.5,415.3 105.6,397.9 115.3,380.8 125.4,364.0 136.1,347.4 147.2,331.2 158.8,315.3 170.9,299.7 183.4,284.5 196.3,269.7 209.7,255.2 223.5,241.1 237.8,227.4 252.4,214.2 267.4,201.3 282.8,188.9 298.5,177.0 314.6,165.5 331.0,154.4 347.8,143.9 364.8,133.8 382.2,124.2 399.8,115.2 417.7,106.6 435.9,98.6 454.3,91.1 472.9,84.1 491.7,77.7 510.7,71.8 529.8,66.5 549.1,61.7 568.6,57.5 588.2,53.8 607.9,50.8 627.6,48.3" stroke="#b0b0b0"/>
<path d="M566.2,500.2 L560.9,490.5 M622.0,474.7 L619.1,464.1 M683.0,466.3 L680.1,388.3 M682.8,462.8 L682.4,451.8 M745.3,465.2 L747.5,454.4 M806.1,482.1 L810.7,472.1 M859.7,515.7 L907.6,454.2 M861.9,513.0 L868.6,504.3 M909.5,556.2 L918.0,549.3 M946.1,609.8 L956.0,605.1 M966.2,671.7 L1042.4,655.3 M969.6,670.9 L980.3,668.6 M978.4,736.4 L989.4,736.7 M971.8,802.8 L982.4,805.5 M946.7,864.7 L1015.7,901.2 M949.8,866.3 L959.5,871.5 M913.5,923.6 L921.7,930.9 M864.4,971.4 L870.8,980.4 M803.9,1003.6 L833.3,1075.9 M805.2,1006.8 L809.3,1017.0 M738.8,1027.8 L740.5,1038.7 M668.8,1033.0 L667.9,1043.9 M600.0,1018.4 L576.0,1092.6 M598.9,1021.7 L595.5,1032.2 M532.9,994.4 L527.2,1003.8 M474.6,952.2 L466.9,960.1 M430.1,895.4 L364.1,936.9 M427.2,897.3 L417.9,903.1 M393.5,832.3 L383.0,835.9 M375.5,760.8 L364.5,761.9 M378.0,687.0 L300.7,676.3 M374.5,686.5 L363.6,685.0 M390.9,613.3 L380.6,609.4 M423.9,545.4 L414.8,539.2 M474.5,489.1 L422.1,431.3 M472.1,486.5 L464.7,478.4 M533.1,440.0 L527.8,430.3 M603.7,408.5 L600.8,397.9 M680.4,397.6 L677.5,319.7 M680.2,394.1 L679.8,383.1 M758.6,397.8 L760.8,387.0 M834.6,419.6 L839.2,409.6 M901.9,461.5 L949.8,399.9 M904.0,458.7 L910.8,450.0 M963.0,513.1 L971.6,506.3 M1008.1,580.2 L1018.0,575.5 M1033.3,657.2 L1109.6,640.8 M1036.7,656.5 L1047.5,654.1 M1047.1,737.8 L1058.1,738.1 M1038.3,820.0 L1048.9,822.7 M1007.5,896.8 L1076.4,933.2 M1010.6,898.4 L1020.3,903.6 M965.2,968.9 L973.5,976.1 M904.3,1027.3 L910.7,1036.3 M829.8,1067.2 L859.2,1139.5 M831.1,1070.5 L835.3,1080.7 M749.4,1095.7 L751.1,1106.6 M663.4,1101.5 L662.5,1112.4 M578.9,1083.8 L555.0,1158.0 M577.9,1087.1 L574.5,1097.6 M497.4,1053.2 L491.7,1062.6 M426.4,1001.2 L418.7,1009.1 M372.0,932.0 L305.9,973.5 M369.0,933.9 L359.7,939.7 M328.4,854.5 L318.0,858.1 M307.1,767.4 L296.1,768.5 M309.9,677.6 L232.6,666.9 M306.4,677.1 L295.5,675.6 M326.8,588.5 L316.5,584.6 M367.3,506.5 L358.2,500.3 M428.3,438.2 L376.0,380.4 M426.0,435.6 L418.6,427.4 M499.9,379.8 L494.6,370.2 M585.3,342.3 L582.4,331.7 M677.7,329.0 L674.8,251.0 M677.6,325.5 L677.2,314.5 M771.9,330.4 L774.0,319.6 M863.1,357.1 L867.7,347.1 M944.0,407.2 L991.9,345.6 M946.2,404.4 L952.9,395.7 M1016.5,470.1 L1025.1,463.2 M1070.1,550.6 L1080.1,545.9 M1100.5,642.7 L1176.7,626.3 M1103.9,642.0 L1114.7,639.6 M1115.8,739.2 L1126.8,739.4 M1104.8,837.2 L1115.5,839.9 M1068.3,928.9 L1137.2,965.3 M1071.3,930.5 L1081.1,935.6 M1016.9,1014.1 L1025.2,1021.3 M944.3,1083.3 L950.6,1092.2 M855.8,1130.9 L885.2,1203.1 M857.1,1134.1 L861.2,1144.3 M759.9,1163.6 L761.6,1174.5 M658.0,1170.0 L657.2,1180.9 M557.9,1149.2 L534.0,1223.4 M556.8,1152.5 L553.5,1163.0 M461.8,1112.0 L456.1,1121.4 M378.3,1050.3 L370.6,1058.1 M313.8,968.6 L247.8,1010.1 M310.9,970.5 L301.6,976.3 M263.4,876.7 L253.0,880.3 M238.7,774.0 L227.8,775.1 M241.8,668.3 L164.6,657.6 M238.4,667.8 L227.5,666.3 M262.7,563.8 L252.4,559.8 M310.6,467.6 L301.6,461.4 M382.2,387.3 L329.8,329.5 M379.8,384.7 L372.4,376.5 M466.8,319.6 L461.5,310.0 M566.9,276.1 L564.0,265.5 M675.1,260.3 L672.2,182.3 M675.0,256.8 L674.6,245.8 M785.2,263.0 L787.3,252.2 M891.6,294.6 L896.1,284.5 M986.1,352.9 L1034.0,291.3 M988.3,350.1 L995.0,341.5 M1070.0,426.9 L1078.6,420.0 M1132.1,521.0 L1142.1,516.3 M1167.6,628.2 L1243.9,611.8 M1171.1,627.4 L1181.8,625.1 M1184.5,740.6 L1195.5,740.8 M1171.3,854.3 L1182.0,857.1 M1129.0,960.9 L1198.0,997.3 M1132.1,962.5 L1141.9,967.7 M1068.7,1059.3 L1077.0,1066.5 M984.2,1139.2 L990.6,1148.1 M881.7,1194.5 L911.1,1266.7 M883.0,1197.7 L887.2,1207.9 M770.5,1231.5 L772.2,1242.4 M652.7,1238.5 L651.8,1249.4 M536.9,1214.6 L513.0,1288.9 M535.8,1218.0 L532.5,1228.4 M426.3,1170.8 L420.6,1180.2 M330.2,1099.3 L322.5,1107.1 M255.7,1005.2 L189.7,1046.7 M252.7,1007.1 L243.4,1012.9 M198.4,899.0 L188.0,902.5 M170.3,780.7 L159.4,781.7 M173.8,658.9 L96.5,648.3 M170.3,658.5 L159.4,657.0 M198.6,539.0 L188.3,535.0 M254.0,428.7 L244.9,422.5 M336.0,336.4 L283.7,278.6 M333.7,333.8 L326.3,325.6 M433.6,259.4 L428.3,249.8 M548.5,209.9 L545.6,199.3 M672.5,191.6 L669.5,113.7 M672.3,188.1 L671.9,177.1 M798.5,195.5 L800.6,184.8 M920.0,232.0 L924.6,222.0 M1028.2,298.6 L1076.1,237.0 M1030.4,295.8 L1037.1,287.2 M1123.5,383.8 L1132.1,376.9 M1194.1,491.4 L1204.0,486.7 M1234.8,613.7 L1311.0,597.2 M1238.2,612.9 L1249.0,610.6 M1253.2,741.9 L1264.2,742.1 M1237.9,871.5 L1248.5,874.2 M1189.8,992.9 L1258.8,1029.4 M1192.9,994.6 L1202.6,999.7 M1120.4,1104.5 L1128.7,1111.7 M1024.1,1195.1 L1030.5,1204.0 M907.7,1258.1 L937.1,1330.3 M909.0,1261.3 L913.2,1271.5 M781.1,1299.4 L782.8,1310.3 M647.4,1307.0 L646.5,1317.9 M515.9,1280.0 L492.0,1354.3 M514.8,1283.4 L511.5,1293.8 M390.8,1229.6 L385.1,1239.0 M282.0,1148.3 L274.3,1156.2 M197.6,1041.8 L131.5,1083.4 M194.6,1043.7 L185.3,1049.6 M133.4,921.2 L123.0,924.8 M101.9,787.3 L91.0,788.4 M105.7,649.6 L28.4,639.0 M102.2,649.2 L91.3,647.7 M134.5,514.2 L124.2,510.3 M197.3,389.9 L188.2,383.7 M287.5,282.9 L280.1,274.8 M400.4,199.3 L395.1,189.6 M530.1,143.7 L527.2,133.1" stroke="#b0b0b0"/>
<polyline points="554.5,501.1 561.1,496.9 567.8,492.9 574.6,489.0 581.5,485.4 588.6,482.0 595.7,478.8 603.0,475.8 610.3,472.9 617.8,470.4 625.3,468.0 632.9,465.8 640.6,463.9 648.3,462.1 656.1,460.7 663.9,459.4 671.8,458.3 679.7,457.5 687.6,456.9 695.6,456.6 703.5,456.5 711.5,456.6 719.5,456.9 727.5,457.5 735.5,458.3 743.4,459.4 751.3,460.6 759.2,462.1 767.1,463.9 774.9,465.8 782.7,468.0 790.4,470.5 798.0,473.1 805.6,476.0 813.1,479.1 820.5,482.4 827.8,486.0 835.0,489.7 842.1,493.7 849.1,497.9 856.0,502.3 862.8,506.9 869.4,511.7 875.9,516.6 882.3,521.8 888.5,527.2 894.5,532.7 900.4,538.5 906.2,544.4 911.7,550.5 917.1,556.7 922.3,563.1 927.4,569.7 932.2,576.4 936.9,583.3 941.3,590.3 945.6,597.4 949.6,604.7 953.4,612.1 957.1,619.6 960.5,627.2 963.7,634.9 966.6,642.8 969.4,650.7 971.9,658.7 974.2,666.8 976.2,674.9 978.0,683.1 979.6,691.4 980.9,699.7 982.0,708.1 982.9,716.5 983.5,724.9 983.8,733.4 983.9,741.9 983.8,750.3 983.4,758.8 982.8,767.3 981.9,775.8 980.8,784.2 979.4,792.6 977.8,801.0 975.9,809.4 973.8,817.7 971.4,825.9 968.8,834.1 966.0,842.2 962.9,850.2 959.6,858.2 956.1,866.0 952.3,873.8 948.3,881.4 944.0,889.0 939.6,896.4 934.9,903.7 930.0,910.8 924.9,917.8 919.6,924.7 914.1,931.5 908.4,938.0 902.5,944.4 896.4,950.7 890.1,956.8 883.7,962.6 877.0,968.3 870.2,973.9 863.2,979.2 856.1,984.3 848.8,989.2 841.4,993.9 833.8,998.4 826.1,1002.7 818.2,1006.7 810.3,1010.6 802.2,1014.2 794.0,1017.5 785.7,1020.6 777.3,1023.5 768.8,1026.2 760.3,1028.6 751.6,1030.7 742.9,1032.6 734.2,1034.3 725.3,1035.7 716.5,1036.8 707.6,1037.7 698.6,1038.3 689.7,1038.6 680.7,1038.7 671.7,1038.6 662.7,1038.2 653.8,1037.5 644.8,1036.5 635.9,1035.3 626.9,1033.8 618.1,1032.1 609.2,1030.1 600.5,1027.8 591.8,1025.3 583.1,1022.6 574.5,1019.6 566.0,1016.3 557.7,1012.8 549.4,1009.0 541.2,1005.0 533.1,1000.7 525.1,996.2 517.3,991.5 509.6,986.6 502.0,981.4 494.6,976.0 487.3,970.3 480.2,964.5 473.3,958.5 466.5,952.2 459.9,945.7 453.5,939.1 447.3,932.2 441.3,925.2 435.5,918.0 429.9,910.6 424.5,903.1 419.3,895.4 414.3,887.5 409.6,879.5 405.1,871.3 400.8,863.0 396.8,854.6 393.0,846.0 389.5,837.4 386.2,828.6 383.2,819.7 380.4,810.8 377.9,801.7 375.6,792.6 373.7,783.4 371.9,774.1 370.5,764.8 369.3,755.5 368.4,746.1 367.8,736.6 367.4,727.2 367.3,717.7 367.5,708.2 368.0,698.7 368.7,689.3 369.7,679.8 371.0,670.4 372.6,661.0 374.5,651.6 376.6,642.3 379.0,633.0 381.6,623.9 384.6,614.7 387.8,605.7 391.2,596.8 395.0,587.9 398.9,579.2 403.2,570.5 407.7,562.0 412.4,553.6 417.4,545.4 422.7,537.2 428.2,529.3 433.9,521.5 439.8,513.8 446.0,506.3 452.4,499.0 459.0,491.9 465.8,485.0 472.8,478.2 480.1,471.7 487.5,465.4 495.1,459.3 502.9,453.4 510.9,447.7 519.0,442.3 527.3,437.0 535.7,432.1 544.3,427.3 553.1,422.9 562.0,418.6 571.0,414.7 580.1,411.0 589.4,407.5 598.7,404.3 608.1,401.4 617.7,398.8 627.3,396.4 637.0,394.4 646.7,392.6 656.6,391.1 666.4,389.8 676.3,388.9 686.3,388.2 696.2,387.9 706.2,387.8 716.2,388.0 726.1,388.5 736.1,389.3 746.1,390.4 756.0,391.8 765.9,393.5 775.7,395.4 785.5,397.7 795.3,400.2 804.9,403.0 814.5,406.1 824.0,409.5 833.4,413.2 842.7,417.1 851.9,421.3 861.0,425.8 869.9,430.6 878.8,435.6 887.4,440.8 896.0,446.4 904.3,452.1 912.5,458.2 920.6,464.4 928.4,470.9 936.1,477.7 943.6,484.6 950.8,491.8 957.9,499.2 964.8,506.8 971.4,514.6 977.8,522.6 984.0,530.8 990.0,539.2 995.7,547.8 1001.1,556.5 1006.3,565.4 1011.3,574.4 1016.0,583.6 1020.4,593.0 1024.6,602.5 1028.5,612.1 1032.1,621.8 1035.4,631.6 1038.4,641.5 1041.2,651.5 1043.6,661.6 1045.8,671.8 1047.7,682.1 1049.2,692.4 1050.5,702.7 1051.5,713.1 1052.2,723.6 1052.5,734.0 1052.6,744.5 1052.3,755.0 1051.8,765.5 1050.9,775.9 1049.8,786.4 1048.3,796.8 1046.5,807.2 1044.5,817.5 1042.1,827.8 1039.4,838.0 1036.4,848.1 1033.2,858.2 1029.6,868.2 1025.7,878.0 1021.6,887.8 1017.2,897.4 1012.5,906.9 1007.5,916.3 1002.2,925.6 996.6,934.7 990.8,943.6 984.8,952.4 978.4,961.0 971.8,969.4 965.0,977.6 957.9,985.7 950.6,993.5 943.1,1001.1 935.3,1008.5 927.3,1015.7 919.1,1022.6 910.7,1029.4 902.1,1035.8 893.3,1042.1 884.3,1048.0 875.2,1053.7 865.8,1059.2 856.3,1064.4 846.7,1069.3 836.9,1073.9 827.0,1078.3 816.9,1082.3 806.7,1086.1 796.4,1089.5 786.0,1092.7 775.5,1095.6 764.9,1098.1 754.2,1100.4 743.5,1102.3 732.7,1104.0 721.8,1105.3 710.9,1106.3 700.0,1107.0 689.0,1107.4 678.1,1107.4 667.1,1107.1 656.1,1106.5 645.1,1105.6 634.2,1104.4 623.3,1102.9 612.4,1101.0 601.6,1098.8 590.8,1096.3 580.1,1093.5 569.5,1090.4 559.0,1086.9 548.6,1083.2 538.2,1079.1 528.0,1074.8 517.9,1070.1 508.0,1065.2 498.2,1059.9 488.5,1054.4 479.0,1048.6 469.6,1042.5 460.5,1036.1 451.5,1029.5 442.7,1022.6 434.1,1015.4 425.7,1008.0 417.5,1000.3 409.5,992.4 401.8,984.3 394.3,975.9 387.0,967.3 380.0,958.5 373.2,949.5 366.7,940.3 360.5,930.9 354.5,921.3 348.8,911.5 343.4,901.6 338.3,891.5 333.5,881.2 328.9,870.8 324.7,860.3 320.8,849.6 317.2,838.8 313.9,827.9 310.9,817.0 308.2,805.9 305.9,794.7 303.9,783.5 302.2,772.2 300.8,760.8 299.8,749.4 299.1,738.0 298.7,726.5 298.7,715.1 298.9,703.6 299.6,692.1 300.5,680.6 301.8,669.2 303.5,657.8 305.4,646.4 307.7,635.1 310.4,623.9 313.3,612.7 316.6,601.6 320.2,590.6 324.1,579.7 328.4,569.0 333.0,558.3 337.8,547.8 343.0,537.4 348.5,527.1 354.3,517.0 360.4,507.1 366.8,497.3 373.4,487.7 380.4,478.4 387.6,469.2 395.1,460.2 402.9,451.4 410.9,442.9 419.1,434.6 427.6,426.5 436.4,418.7 445.4,411.1 454.6,403.8 464.0,396.7 473.6,389.9 483.5,383.4 493.5,377.2 503.7,371.3 514.1,365.7 524.6,360.3 535.3,355.3 546.2,350.6 557.2,346.2 568.4,342.1 579.6,338.3 591.0,334.9 602.5,331.8 614.0,329.0 625.7,326.6 637.4,324.5 649.2,322.7 661.1,321.3 673.0,320.3 684.9,319.5 696.9,319.2 708.8,319.1 720.8,319.5 732.8,320.1 744.7,321.2 756.7,322.5 768.6,324.3 780.4,326.3 792.2,328.7 803.9,331.5 815.6,334.6 827.1,338.0 838.6,341.8 850.0,345.9 861.2,350.3 872.3,355.1 883.3,360.2 894.2,365.6 904.8,371.4 915.4,377.4 925.7,383.8 935.9,390.4 945.9,397.4 955.6,404.7 965.2,412.2 974.6,420.0 983.7,428.1 992.6,436.5 1001.3,445.1 1009.7,454.0 1017.8,463.1 1025.7,472.5 1033.3,482.1 1040.7,491.9 1047.7,502.0 1054.5,512.2 1061.0,522.7 1067.1,533.3 1073.0,544.2 1078.5,555.2 1083.8,566.4 1088.7,577.7 1093.2,589.1 1097.5,600.8 1101.4,612.5 1104.9,624.3 1108.2,636.3 1111.0,648.4 1113.6,660.5 1115.7,672.7 1117.6,685.0 1119.0,697.4 1120.1,709.8 1120.8,722.2 1121.2,734.7 1121.2,747.1 1120.9,759.6 1120.2,772.1 1119.1,784.5 1117.7,797.0 1115.9,809.4 1113.7,821.7 1111.2,834.0 1108.3,846.2 1105.1,858.3 1101.5,870.3 1097.5,882.3 1093.2,894.1 1088.6,905.8 1083.6,917.4 1078.3,928.8 1072.6,940.1 1066.6,951.2 1060.3,962.2 1053.7,972.9 1046.8,983.5 1039.5,993.9 1031.9,1004.1 1024.1,1014.0 1015.9,1023.8 1007.5,1033.3 998.8,1042.5 989.8,1051.5 980.5,1060.3 971.0,1068.7 961.2,1076.9 951.2,1084.8 941.0,1092.5 930.5,1099.8 919.9,1106.8 909.0,1113.6 897.9,1120.0 886.6,1126.1 875.2,1131.8 863.5,1137.2 851.7,1142.3 839.8,1147.1 827.7,1151.5 815.5,1155.5 803.2,1159.2 790.7,1162.6 778.2,1165.6 765.5,1168.2 752.8,1170.4 740.0,1172.3 727.2,1173.8 714.3,1174.9 701.4,1175.7 688.4,1176.1 675.4,1176.1 662.5,1175.7 649.5,1174.9 636.5,1173.8 623.6,1172.3 610.7,1170.4 597.9,1168.1 585.1,1165.5 572.4,1162.5 559.8,1159.1 547.3,1155.4 534.9,1151.3 522.6,1146.8 510.5,1142.0 498.4,1136.8 486.5,1131.2 474.8,1125.3 463.3,1119.1 451.9,1112.5 440.7,1105.6 429.7,1098.4 418.9,1090.8 408.4,1083.0 398.0,1074.8 387.9,1066.3 378.1,1057.5 368.5,1048.5 359.1,1039.1 350.0,1029.5 341.2,1019.6 332.7,1009.4 324.5,999.0 316.6,988.4 309.0,977.5 301.7,966.4 294.7,955.1 288.1,943.6 281.7,931.8 275.8,919.9 270.1,907.9 264.9,895.6 259.9,883.2 255.4,870.6 251.2,857.9 247.3,845.1 243.9,832.2 240.8,819.2 238.1,806.0 235.8,792.8 233.8,779.5 232.3,766.2 231.1,752.8 230.4,739.4 230.0,725.9 230.0,712.4 230.4,699.0 231.2,685.5 232.4,672.0 234.0,658.6 235.9,645.3 238.3,631.9 241.0,618.7 244.2,605.5 247.7,592.4 251.6,579.4 255.9,566.6 260.5,553.8 265.6,541.2 271.0,528.7 276.7,516.4 282.8,504.2 289.3,492.2 296.2,480.4 303.3,468.8 310.8,457.4 318.7,446.2 326.9,435.2 335.4,424.5 344.2,414.0 353.3,403.8 362.7,393.9 372.4,384.2 382.4,374.8 392.7,365.6 403.2,356.8 414.1,348.3 425.1,340.1 436.4,332.2 447.9,324.6 459.7,317.4 471.6,310.5 483.8,304.0 496.2,297.8 508.7,292.0 521.4,286.5 534.3,281.4 547.3,276.7 560.5,272.3 573.8,268.4 587.2,264.8 600.7,261.6 614.4,258.8 628.1,256.4 641.9,254.4 655.7,252.8 669.6,251.6 683.5,250.9 697.5,250.5 711.4,250.5 725.4,250.9 739.4,251.8 753.3,253.0 767.2,254.6 781.1,256.7 794.9,259.2 808.6,262.0 822.3,265.3 835.9,268.9 849.3,273.0 862.7,277.4 875.9,282.3 889.0,287.5 901.9,293.1 914.7,299.1 927.3,305.5 939.7,312.2 952.0,319.3 964.0,326.7 975.8,334.5 987.4,342.7 998.7,351.2 1009.9,360.0 1020.7,369.1 1031.3,378.6 1041.6,388.3 1051.7,398.4 1061.4,408.8 1070.8,419.4 1080.0,430.4 1088.8,441.6 1097.3,453.0 1105.5,464.7 1113.3,476.7 1120.8,488.9 1127.9,501.3 1134.7,513.9 1141.1,526.7 1147.1,539.7 1152.7,552.9 1158.0,566.2 1162.9,579.7 1167.4,593.4 1171.5,607.2 1175.2,621.1 1178.5,635.1 1181.3,649.2 1183.8,663.4 1185.9,677.7 1187.5,692.0 1188.7,706.4 1189.5,720.8 1189.9,735.3 1189.9,749.8 1189.4,764.2 1188.6,778.7 1187.3,793.1 1185.6,807.5 1183.4,821.9 1180.9,836.2 1177.9,850.4 1174.5,864.6 1170.7,878.6 1166.5,892.5 1161.9,906.4 1156.8,920.1 1151.4,933.6 1145.6,947.0 1139.4,960.2 1132.8,973.3 1125.8,986.1 1118.5,998.8 1110.8,1011.2 1102.7,1023.4 1094.2,1035.4 1085.4,1047.2 1076.3,1058.7 1066.8,1069.9 1057.0,1080.9 1046.9,1091.5 1036.5,1101.9 1025.7,1112.0 1014.7,1121.8 1003.4,1131.2 991.8,1140.3 979.9,1149.1 967.8,1157.6 955.4,1165.6 942.8,1173.4 930.0,1180.7 916.9,1187.7 903.6,1194.3 890.2,1200.6 876.5,1206.4 862.7,1211.9 848.7,1216.9 834.6,1221.5 820.4,1225.8 806.0,1229.6 791.5,1233.0 776.9,1235.9 762.2,1238.5 747.4,1240.6 732.6,1242.3 717.7,1243.6 702.7,1244.4 687.8,1244.8 672.8,1244.7 657.8,1244.2 642.9,1243.3 627.9,1242.0 613.0,1240.2 598.2,1238.0 583.4,1235.3 568.7,1232.2 554.1,1228.7 539.5,1224.8 525.1,1220.4 510.8,1215.6 496.7,1210.4 482.7,1204.8 468.8,1198.8 455.2,1192.3 441.7,1185.5 428.4,1178.3 415.3,1170.7 402.4,1162.7 389.8,1154.3 377.4,1145.6 365.3,1136.5 353.4,1127.0 341.8,1117.2 330.5,1107.1 319.4,1096.6 308.7,1085.8 298.3,1074.7 288.2,1063.3 278.4,1051.6 269.0,1039.6 259.9,1027.3 251.2,1014.8 242.9,1002.0 234.9,988.9 227.3,975.6 220.1,962.1 213.2,948.4 206.8,934.5 200.8,920.4 195.2,906.1 190.0,891.7 185.2,877.1 180.8,862.3 176.9,847.4 173.4,832.4 170.3,817.4 167.7,802.2 165.5,786.9 163.8,771.6 162.5,756.2 161.7,740.7 161.3,725.3 161.3,709.8 161.8,694.4 162.8,678.9 164.2,663.5 166.1,648.1 168.4,632.7 171.1,617.5 174.3,602.2 178.0,587.1 182.0,572.1 186.6,557.2 191.5,542.5 196.9,527.9 202.7,513.4 208.9,499.1 215.6,485.0 222.7,471.0 230.1,457.3 238.0,443.8 246.3,430.5 254.9,417.5 263.9,404.7 273.4,392.2 283.1,379.9 293.3,367.9 303.7,356.2 314.6,344.8 325.7,333.8 337.2,323.0 349.0,312.6 361.1,302.5 373.5,292.8 386.2,283.5 399.1,274.5 412.4,265.8 425.8,257.6 439.6,249.8 453.5,242.3 467.7,235.3 482.0,228.6 496.6,222.4 511.4,216.6 526.3,211.3 541.4,206.3 556.6,201.9 572.0,197.8 587.4,194.2 603.0,191.1 618.7,188.4 634.5,186.1 650.3,184.3 666.2,183.0 682.1,182.2 698.1,181.8 714.0,181.8 730.0,182.4 746.0,183.4 761.9,184.8 777.8,186.7 793.6,189.1 809.4,192.0 825.1,195.3 840.7,199.1 856.2,203.3 871.5,208.0 886.8,213.1 901.8,218.6 916.8,224.7 931.5,231.1 946.1,238.0 960.5,245.3 974.6,253.0 988.6,261.1 1002.3,269.6 1015.7,278.6 1028.9,287.9 1041.8,297.6 1054.5,307.7 1066.8,318.2 1078.9,329.0 1090.6,340.2 1102.0,351.7 1113.1,363.6 1123.9,375.7 1134.2,388.2 1144.3,401.0 1153.9,414.1 1163.2,427.5 1172.1,441.1 1180.6,455.0 1188.7,469.2 1196.3,483.6 1203.6,498.2 1210.4,513.0 1216.8,528.1 1222.8,543.3 1228.3,558.7 1233.4,574.3 1238.0,590.0 1242.2,605.8 1245.9,621.8 1249.1,637.9 1251.9,654.0 1254.2,670.3 1256.0,686.6 1257.4,703.0 1258.2,719.4 1258.6,735.9 1258.6,752.4 1258.0,768.8 1257.0,785.3 1255.4,801.7 1253.4,818.1 1251.0,834.4 1248.0,850.7 1244.6,866.8 1240.7,882.9 1236.3,898.9 1231.5,914.7 1226.2,930.4 1220.5,946.0 1214.3,961.4 1207.6,976.6 1200.5,991.6 1193.0,1006.4 1185.0,1021.0 1176.6,1035.4 1167.8,1049.5 1158.6,1063.3 1149.0,1076.9 1139.0,1090.3 1128.6,1103.3 1117.8,1116.0 1106.6,1128.4 1095.1,1140.5 1083.2,1152.3 1071.0,1163.7 1058.4,1174.8 1045.5,1185.5 1032.3,1195.8 1018.8,1205.7 1005.0,1215.3 991.0,1224.4 976.6,1233.2 962.0,1241.5 947.2,1249.4 932.1,1256.9 916.8,1263.9 901.3,1270.5 885.7,1276.6 869.8,1282.3 853.8,1287.5 837.6,1292.3 821.2,1296.6 804.8,1300.4 788.2,1303.7 771.5,1306.6 754.8,1308.9 737.9,1310.8 721.1,1312.2 704.1,1313.1 687.2,1313.5 670.2,1313.4 653.3,1312.8 636.3,1311.7 619.4,1310.1 602.5,1308.1 585.7,1305.5 568.9,1302.5 552.3,1298.9 535.7,1294.9 519.3,1290.4 503.0,1285.4 486.8,1280.0 470.8,1274.0 454.9,1267.7 439.3,1260.8 423.8,1253.5 408.5,1245.7 393.5,1237.5 378.7,1228.9 364.2,1219.8 349.9,1210.3 335.9,1200.3 322.2,1190.0 308.8,1179.3 295.7,1168.2 282.9,1156.7 270.4,1144.8 258.3,1132.5 246.6,1119.9 235.2,1107.0 224.2,1093.7 213.6,1080.1 203.3,1066.2 193.5,1052.0 184.1,1037.5 175.1,1022.8 166.5,1007.7 158.4,992.4 150.7,976.9 143.5,961.2 136.7,945.2 130.4,929.1 124.6,912.7 119.2,896.2 114.3,879.5 109.9,862.7 106.0,845.8 102.6,828.7 99.6,811.5 97.2,794.3 95.3,777.0 93.9,759.6 93.0,742.2 92.6,724.7 92.7,707.2 93.3,689.8 94.4,672.3 96.0,654.9 98.2,637.5 100.8,620.2 104.0,603.0 107.6,585.8 111.7,568.8 116.4,551.9 121.5,535.1 127.2,518.4 133.3,501.9 139.9,485.6 146.9,469.5 154.5,453.6 162.5,437.9 170.9,422.5 179.8,407.2 189.2,392.3 199.0,377.6 209.2,363.2 219.8,349.1 230.9,335.3 242.3,321.8 254.2,308.6 266.4,295.8 279.0,283.4 292.0,271.3 305.3,259.6 319.0,248.3 333.0,237.4 347.3,226.8 361.9,216.7 376.8,207.1 392.0,197.8 407.5,189.0 423.2,180.6 439.2,172.7 455.4,165.3 471.8,158.4 488.4,151.9 505.2,145.9 522.2,140.4 539.4,135.3 556.7,130.8 574.1,126.8 591.7,123.3 609.3,120.3 627.1,117.8 644.9,115.8" stroke="#000"/>
<path d="M610.3,472.9 L600.2,441.2 M671.8,458.3 L669.2,425.5 M735.5,458.3 L740.5,426.1 M798.0,473.1 L810.1,443.7 M856.0,502.3 L873.0,478.6 M906.2,544.4 L927.8,525.5 M945.6,597.4 L970.3,584.4 M971.9,658.7 L997.5,652.1 M983.5,724.9 L1011.4,724.4 M979.4,792.6 L1006.7,798.6 M959.6,858.2 L982.8,869.2 M924.9,917.8 L943.7,933.0 M877.0,968.3 L889.5,984.4 M818.2,1006.7 L826.0,1023.8 M751.6,1030.7 L755.3,1049.5 M680.7,1038.7 L679.9,1060.2 M609.2,1030.1 L602.0,1055.9 M541.2,1005.0 L525.2,1033.8 M480.2,964.5 L453.9,993.4 M429.9,910.6 L391.9,936.6 M393.0,846.0 L348.3,863.3 M371.9,774.1 L324.5,780.6 M368.0,698.7 L326.8,694.7 M381.6,623.9 L341.7,610.2 M412.4,553.6 L374.5,529.7 M459.0,491.9 L427.6,459.9 M519.0,442.3 L496.8,405.5 M589.4,407.5 L577.7,371.0 M666.4,389.8 L663.6,353.1 M746.1,390.4 L751.5,355.6 M824.0,409.5 L835.3,381.8 M896.0,446.4 L911.3,424.9 M957.9,499.2 L977.6,482.1 M1006.3,565.4 L1028.4,553.8 M1038.4,641.5 L1062.5,635.3 M1052.2,723.6 L1077.1,723.1 M1046.5,807.2 L1070.1,812.3 M1021.6,887.8 L1042.0,897.5 M978.4,961.0 L995.4,974.7 M919.1,1022.6 L933.2,1040.8 M846.7,1069.3 L857.6,1093.4 M764.9,1098.1 L771.3,1130.9 M678.1,1107.4 L676.8,1140.7 M590.8,1096.3 L582.7,1125.5 M508.0,1065.2 L492.4,1093.3 M434.1,1015.4 L410.6,1041.2 M373.2,949.5 L340.3,972.0 M328.9,870.8 L283.9,888.2 M303.9,783.5 L256.0,790.0 M299.6,692.1 L252.3,687.5 M316.6,601.6 L273.8,587.0 M354.3,517.0 L317.7,493.9 M410.9,442.9 L380.5,411.9 M483.5,383.4 L464.7,352.3 M568.4,342.1 L558.4,311.1 M661.1,321.3 L658.7,291.1 M756.7,322.5 L760.9,295.3 M850.0,345.9 L860.4,320.4 M935.9,390.4 L953.1,366.4 M1009.7,454.0 L1031.9,434.6 M1067.1,533.3 L1091.5,520.5 M1104.9,624.3 L1131.7,617.5 M1120.8,722.2 L1147.7,721.7 M1113.7,821.7 L1144.8,828.4 M1083.6,917.4 L1114.4,932.1 M1031.9,1004.1 L1060.9,1027.4 M961.2,1076.9 L986.1,1109.1 M875.2,1131.8 L892.0,1168.8 M778.2,1165.6 L786.7,1209.2 M675.4,1176.1 L673.6,1222.8 M572.4,1162.5 L559.9,1207.6 M474.8,1125.3 L453.3,1164.3 M387.9,1066.3 L358.5,1098.7 M316.6,988.4 L280.9,1012.9 M264.9,895.6 L225.5,910.8 M235.8,792.8 L194.4,798.5 M231.2,685.5 L191.5,681.6 M251.6,579.4 L217.5,567.8 M296.2,480.4 L265.0,460.8 M362.7,393.9 L333.5,364.0 M447.9,324.6 L423.0,283.3 M547.3,276.7 L532.6,230.7 M655.7,252.8 L652.4,210.8 M767.2,254.6 L773.3,215.6 M875.9,282.3 L889.0,250.3 M975.8,334.5 L995.2,307.4 M1061.4,408.8 L1083.9,389.1 M1127.9,501.3 L1152.6,488.2 M1171.5,607.2 L1197.8,600.4 M1189.5,720.8 L1214.8,720.3 M1180.9,836.2 L1206.0,841.6 M1145.6,947.0 L1170.9,959.1 M1085.4,1047.2 L1109.6,1066.7 M1003.4,1131.2 L1026.9,1161.5 M903.6,1194.3 L920.0,1230.3 M791.5,1233.0 L800.3,1278.1 M672.8,1244.7 L671.0,1290.7 M554.1,1228.7 L541.9,1272.3 M441.7,1185.5 L420.4,1224.1 M341.8,1117.2 L309.8,1152.4 M259.9,1027.3 L220.8,1054.2 M200.8,920.4 L151.4,939.5 M167.7,802.2 L115.3,809.3 M162.8,678.9 L114.7,674.2 M186.6,557.2 L143.4,542.5 M238.0,443.8 L203.0,421.7 M314.6,344.8 L287.7,317.5 M412.4,265.8 L392.6,233.0 M526.3,211.3 L516.0,179.2 M650.3,184.3 L647.8,152.6 M777.8,186.7 L783.7,148.9 M901.8,218.6 L916.8,182.1 M1015.7,278.6 L1038.9,246.2 M1113.1,363.6 L1145.2,335.6 M1188.7,469.2 L1226.3,449.4 M1238.0,590.0 L1278.8,579.4 M1258.2,719.4 L1297.3,718.7 M1248.0,850.7 L1287.4,859.2 M1207.6,976.6 L1243.9,993.9 M1139.0,1090.3 L1167.9,1113.6 M1045.5,1185.5 L1065.0,1210.6 M932.1,1256.9 L945.1,1285.5 M804.8,1300.4 L810.3,1328.6 M670.2,1313.4 L669.2,1340.6 M535.7,1294.9 L528.5,1320.8 M408.5,1245.7 L396.1,1268.2 M295.7,1168.2 L278.7,1186.9 M203.3,1066.2 L183.4,1079.9 M136.7,945.2 L114.9,953.6 M99.6,811.5 L78.0,814.5 M94.4,672.3 L71.9,670.1 M121.5,535.1 L100.1,527.8 M179.8,407.2 L161.3,395.6 M266.4,295.8 L250.3,279.4 M376.8,207.1 L362.1,182.8 M505.2,145.9 L495.6,115.9 M644.9,115.8 L641.7,74.9" stroke="#000" stroke-width="1.3"/>
</g>
<path transform="translate(684.2,473.8) rotate(5.70)" d="M4.99,-11.00 L3.32,-10.48 L2.22,-8.91 L1.66,-6.29 L1.66,-4.72 L2.22,-2.10 L3.32,-0.52 L4.99,0.00 L6.09,0.00 L7.76,-0.52 L8.86,-2.10 L9.42,-4.72 L9.42,-6.29 L8.86,-8.91 L7.76,-10.48 L6.09,-11.00 L4.99,-11.00 M19.39,-11.00 L13.85,-11.00 L13.30,-6.29 L13.85,-6.81 L15.51,-7.34 L17.17,-7.34 L18.84,-6.81 L19.94,-5.76 L20.50,-4.19 L20.50,-3.14 L19.94,-1.57 L18.84,-0.52 L17.17,0.00 L15.51,0.00 L13.85,-0.52 L13.30,-1.05 L12.74,-2.10 M24.38,-4.72 L34.35,-4.72 M38.78,-11.00 L38.78,0.00 M38.78,-11.00 L46.54,0.00 M46.54,-11.00 L46.54,0.00 M53.18,-7.34 L52.08,-6.81 L50.97,-5.76 L50.41,-4.19 L50.41,-3.14 L50.97,-1.57 L52.08,-0.52 L53.18,0.00 L54.85,0.00 L55.95,-0.52 L57.06,-1.57 L57.62,-3.14 L57.62,-4.19 L57.06,-5.76 L55.95,-6.81 L54.85,-7.34 L53.18,-7.34 M60.39,-7.34 L63.71,0.00 M67.03,-7.34 L63.71,0.00" fill="none" stroke="#000" stroke-width="1.01" stroke-linecap="square" shape-rendering="crispEdges"/>
<path transform="translate(856.4,522.8) rotate(45.62)" d="M4.99,-11.00 L3.32,-10.48 L2.22,-8.91 L1.66,-6.29 L1.66,-4.72 L2.22,-2.10 L3.32,-0.52 L4.99,0.00 L6.09,0.00 L7.76,-0.52 L8.86,-2.10 L9.42,-4.72 L9.42,-6.29 L8.86,-8.91 L7.76,-10.48 L6.09,-11.00 L4.99,-11.00 M15.51,-11.00 L13.85,-10.48 L13.30,-9.43 L13.30,-8.38 L13.85,-7.34 L14.96,-6.81 L17.17,-6.29 L18.84,-5.76 L19.94,-4.72 L20.50,-3.67 L20.50,-2.10 L19.94,-1.05 L19.39,-0.52 L17.73,0.00 L15.51,0.00 L13.85,-0.52 L13.30,-1.05 L12.74,-2.10 L12.74,-3.67 L13.30,-4.72 L14.40,-5.76 L16.07,-6.29 L18.28,-6.81 L19.39,-7.34 L19.94,-8.38 L19.94,-9.43 L19.39,-10.48 L17.73,-11.00 L15.51,-11.00 M24.38,-4.72 L34.35,-4.72 M38.78,-11.00 L38.78,0.00 M38.78,-11.00 L46.54,0.00 M46.54,-11.00 L46.54,0.00 M53.18,-7.34 L52.08,-6.81 L50.97,-5.76 L50.41,-4.19 L50.41,-3.14 L50.97,-1.57 L52.08,-0.52 L53.18,0.00 L54.85,0.00 L55.95,-0.52 L57.06,-1.57 L57.62,-3.14 L57.62,-4.19 L57.06,-5.76 L55.95,-6.81 L54.85,-7.34 L53.18,-7.34 M60.39,-7.34 L63.71,0.00 M67.03,-7.34 L63.71,0.00" fill="none" stroke="#000" stroke-width="1.01" stroke-linecap="square" shape-rendering="crispEdges"/>
<path transform="translate(959.2,675.6) rotate(85.54)" d="M3.32,-8.91 L4.43,-9.43 L6.09,-11.00 L6.09,0.00 M14.40,-8.91 L15.51,-9.43 L17.17,-11.00 L17.17,0.00 M24.38,-4.72 L34.35,-4.72 M38.78,-11.00 L38.78,0.00 M38.78,-11.00 L46.54,0.00 M46.54,-11.00 L46.54,0.00 M53.18,-7.34 L52.08,-6.81 L50.97,-5.76 L50.41,-4.19 L50.41,-3.14 L50.97,-1.57 L52.08,-0.52 L53.18,0.00 L54.85,0.00 L55.95,-0.52 L57.06,-1.57 L57.62,-3.14 L57.62,-4.19 L57.06,-5.76 L55.95,-6.81 L54.85,-7.34 L53.18,-7.34 M60.39,-7.34 L63.71,0.00 M67.03,-7.34 L63.71,0.00" fill="none" stroke="#000" stroke-width="1.01" stroke-linecap="square" shape-rendering="crispEdges"/>
<path transform="translate(945.8,868.6) rotate(-54.59)" d="M-64.82,-8.91 L-63.71,-9.43 L-62.05,-11.00 L-62.05,0.00 M-49.86,-11.00 L-55.40,-3.67 L-47.09,-3.67 M-49.86,-11.00 L-49.86,0.00 M-43.77,-4.72 L-33.79,-4.72 M-29.36,-11.00 L-29.36,0.00 M-29.36,-11.00 L-21.61,0.00 M-21.61,-11.00 L-21.61,0.00 M-14.96,-7.34 L-16.07,-6.81 L-17.17,-5.76 L-17.73,-4.19 L-17.73,-3.14 L-17.17,-1.57 L-16.07,-0.52 L-14.96,0.00 L-13.30,0.00 L-12.19,-0.52 L-11.08,-1.57 L-10.53,-3.14 L-10.53,-4.19 L-11.08,-5.76 L-12.19,-6.81 L-13.30,-7.34 L-14.96,-7.34 M-7.76,-7.34 L-4.43,0.00 M-1.11,-7.34 L-4.43,0.00" fill="none" stroke="#000" stroke-width="1.01" stroke-linecap="square" shape-rendering="crispEdges"/>
<path transform="translate(800.0,1006.2) rotate(-14.66)" d="M-64.82,-8.91 L-63.71,-9.43 L-62.05,-11.00 L-62.05,0.00 M-47.64,-11.00 L-53.18,0.00 M-55.40,-11.00 L-47.64,-11.00 M-43.77,-4.72 L-33.79,-4.72 M-29.36,-11.00 L-29.36,0.00 M-29.36,-11.00 L-21.61,0.00 M-21.61,-11.00 L-21.61,0.00 M-14.96,-7.34 L-16.07,-6.81 L-17.17,-5.76 L-17.73,-4.19 L-17.73,-3.14 L-17.17,-1.57 L-16.07,-0.52 L-14.96,0.00 L-13.30,0.00 L-12.19,-0.52 L-11.08,-1.57 L-10.53,-3.14 L-10.53,-4.19 L-11.08,-5.76 L-12.19,-6.81 L-13.30,-7.34 L-14.96,-7.34 M-7.76,-7.34 L-4.43,0.00 M-1.11,-7.34 L-4.43,0.00" fill="none" stroke="#000" stroke-width="1.01" stroke-linecap="square" shape-rendering="crispEdges"/>
<path transform="translate(594.7,1017.7) rotate(25.29)" d="M-65.93,-8.38 L-65.93,-8.91 L-65.37,-9.96 L-64.82,-10.48 L-63.71,-11.00 L-61.49,-11.00 L-60.39,-10.48 L-59.83,-9.96 L-59.28,-8.91 L-59.28,-7.86 L-59.83,-6.81 L-60.94,-5.24 L-66.48,0.00 L-58.72,0.00 M-52.08,-11.00 L-53.74,-10.48 L-54.85,-8.91 L-55.40,-6.29 L-55.40,-4.72 L-54.85,-2.10 L-53.74,-0.52 L-52.08,0.00 L-50.97,0.00 L-49.31,-0.52 L-48.20,-2.10 L-47.64,-4.72 L-47.64,-6.29 L-48.20,-8.91 L-49.31,-10.48 L-50.97,-11.00 L-52.08,-11.00 M-43.77,-4.72 L-33.79,-4.72 M-29.36,-11.00 L-29.36,0.00 M-29.36,-11.00 L-21.61,0.00 M-21.61,-11.00 L-21.61,0.00 M-14.96,-7.34 L-16.07,-6.81 L-17.17,-5.76 L-17.73,-4.19 L-17.73,-3.14 L-17.17,-1.57 L-16.07,-0.52 L-14.96,0.00 L-13.30,0.00 L-12.19,-0.52 L-11.08,-1.57 L-10.53,-3.14 L-10.53,-4.19 L-11.08,-5.76 L-12.19,-6.81 L-13.30,-7.34 L-14.96,-7.34 M-7.76,-7.34 L-4.43,0.00 M-1.11,-7.34 L-4.43,0.00" fill="none" stroke="#000" stroke-width="1.01" stroke-linecap="square" shape-rendering="crispEdges"/>
<path transform="translate(426.2,890.9) rotate(65.23)" d="M-65.93,-8.38 L-65.93,-8.91 L-65.37,-9.96 L-64.82,-10.48 L-63.71,-11.00 L-61.49,-11.00 L-60.39,-10.48 L-59.83,-9.96 L-59.28,-8.91 L-59.28,-7.86 L-59.83,-6.81 L-60.94,-5.24 L-66.48,0.00 L-58.72,0.00 M-54.29,-11.00 L-48.20,-11.00 L-51.52,-6.81 L-49.86,-6.81 L-48.75,-6.29 L-48.20,-5.76 L-47.64,-4.19 L-47.64,-3.14 L-48.20,-1.57 L-49.31,-0.52 L-50.97,0.00 L-52.63,0.00 L-54.29,-0.52 L-54.85,-1.05 L-55.40,-2.10 M-43.77,-4.72 L-33.79,-4.72 M-29.36,-11.00 L-29.36,0.00 M-29.36,-11.00 L-21.61,0.00 M-21.61,-11.00 L-21.61,0.00 M-14.96,-7.34 L-16.07,-6.81 L-17.17,-5.76 L-17.73,-4.19 L-17.73,-3.14 L-17.17,-1.57 L-16.07,-0.52 L-14.96,0.00 L-13.30,0.00 L-12.19,-0.52 L-11.08,-1.57 L-10.53,-3.14 L-10.53,-4.19 L-11.08,-5.76 L-12.19,-6.81 L-13.30,-7.34 L-14.96,-7.34 M-7.76,-7.34 L-4.43,0.00 M-1.11,-7.34 L-4.43,0.00" fill="none" stroke="#000" stroke-width="1.01" stroke-linecap="square" shape-rendering="crispEdges"/>
<path transform="translate(386.4,682.2) rotate(-74.76)" d="M2.22,-8.38 L2.22,-8.91 L2.77,-9.96 L3.32,-10.48 L4.43,-11.00 L6.65,-11.00 L7.76,-10.48 L8.31,-9.96 L8.86,-8.91 L8.86,-7.86 L8.31,-6.81 L7.20,-5.24 L1.66,0.00 L9.42,0.00 M19.94,-9.43 L19.39,-10.48 L17.73,-11.00 L16.62,-11.00 L14.96,-10.48 L13.85,-8.91 L13.30,-6.29 L13.30,-3.67 L13.85,-1.57 L14.96,-0.52 L16.62,0.00 L17.17,0.00 L18.84,-0.52 L19.94,-1.57 L20.50,-3.14 L20.50,-3.67 L19.94,-5.24 L18.84,-6.29 L17.17,-6.81 L16.62,-6.81 L14.96,-6.29 L13.85,-5.24 L13.30,-3.67 M24.38,-4.72 L34.35,-4.72 M38.78,-11.00 L38.78,0.00 M38.78,-11.00 L46.54,0.00 M46.54,-11.00 L46.54,0.00 M53.18,-7.34 L52.08,-6.81 L50.97,-5.76 L50.41,-4.19 L50.41,-3.14 L50.97,-1.57 L52.08,-0.52 L53.18,0.00 L54.85,0.00 L55.95,-0.52 L57.06,-1.57 L57.62,-3.14 L57.62,-4.19 L57.06,-5.76 L55.95,-6.81 L54.85,-7.34 L53.18,-7.34 M60.39,-7.34 L63.71,0.00 M67.03,-7.34 L63.71,0.00" fill="none" stroke="#000" stroke-width="1.01" stroke-linecap="square" shape-rendering="crispEdges"/>
<path transform="translate(484.5,490.4) rotate(-34.81)" d="M2.22,-8.38 L2.22,-8.91 L2.77,-9.96 L3.32,-10.48 L4.43,-11.00 L6.65,-11.00 L7.76,-10.48 L8.31,-9.96 L8.86,-8.91 L8.86,-7.86 L8.31,-6.81 L7.20,-5.24 L1.66,0.00 L9.42,0.00 M19.94,-7.34 L19.39,-5.76 L18.28,-4.72 L16.62,-4.19 L16.07,-4.19 L14.40,-4.72 L13.30,-5.76 L12.74,-7.34 L12.74,-7.86 L13.30,-9.43 L14.40,-10.48 L16.07,-11.00 L16.62,-11.00 L18.28,-10.48 L19.39,-9.43 L19.94,-7.34 L19.94,-4.72 L19.39,-2.10 L18.28,-0.52 L16.62,0.00 L15.51,0.00 L13.85,-0.52 L13.30,-1.57 M24.38,-4.72 L34.35,-4.72 M38.78,-11.00 L38.78,0.00 M38.78,-11.00 L46.54,0.00 M46.54,-11.00 L46.54,0.00 M53.18,-7.34 L52.08,-6.81 L50.97,-5.76 L50.41,-4.19 L50.41,-3.14 L50.97,-1.57 L52.08,-0.52 L53.18,0.00 L54.85,0.00 L55.95,-0.52 L57.06,-1.57 L57.62,-3.14 L57.62,-4.19 L57.06,-5.76 L55.95,-6.81 L54.85,-7.34 L53.18,-7.34 M60.39,-7.34 L63.71,0.00 M67.03,-7.34 L63.71,0.00" fill="none" stroke="#000" stroke-width="1.01" stroke-linecap="square" shape-rendering="crispEdges"/>
<path transform="translate(687.9,405.0) rotate(5.13)" d="M4.99,-11.00 L3.32,-10.48 L2.22,-8.91 L1.66,-6.29 L1.66,-4.72 L2.22,-2.10 L3.32,-0.52 L4.99,0.00 L6.09,0.00 L7.76,-0.52 L8.86,-2.10 L9.42,-4.72 L9.42,-6.29 L8.86,-8.91 L7.76,-10.48 L6.09,-11.00 L4.99,-11.00 M13.30,-8.38 L13.30,-8.91 L13.85,-9.96 L14.40,-10.48 L15.51,-11.00 L17.73,-11.00 L18.84,-10.48 L19.39,-9.96 L19.94,-8.91 L19.94,-7.86 L19.39,-6.81 L18.28,-5.24 L12.74,0.00 L20.50,0.00 M24.38,-4.72 L34.35,-4.72 M38.78,-11.00 L38.78,0.00 M38.78,-11.00 L42.66,-11.00 L44.32,-10.48 L45.43,-9.43 L45.98,-8.38 L46.54,-6.81 L46.54,-4.19 L45.98,-2.62 L45.43,-1.57 L44.32,-0.52 L42.66,0.00 L38.78,0.00 M49.86,-4.19 L56.51,-4.19 L56.51,-5.24 L55.95,-6.29 L55.40,-6.81 L54.29,-7.34 L52.63,-7.34 L51.52,-6.81 L50.41,-5.76 L49.86,-4.19 L49.86,-3.14 L50.41,-1.57 L51.52,-0.52 L52.63,0.00 L54.29,0.00 L55.40,-0.52 L56.51,-1.57 M66.48,-5.76 L65.37,-6.81 L64.26,-7.34 L62.60,-7.34 L61.49,-6.81 L60.39,-5.76 L59.83,-4.19 L59.83,-3.14 L60.39,-1.57 L61.49,-0.52 L62.60,0.00 L64.26,0.00 L65.37,-0.52 L66.48,-1.57" fill="none" stroke="#000" stroke-width="1.01" stroke-linecap="square" shape-rendering="crispEdges"/>
<path transform="translate(903.1,472.2) rotate(45.02)" d="M4.99,-11.00 L3.32,-10.48 L2.22,-8.91 L1.66,-6.29 L1.66,-4.72 L2.22,-2.10 L3.32,-0.52 L4.99,0.00 L6.09,0.00 L7.76,-0.52 L8.86,-2.10 L9.42,-4.72 L9.42,-6.29 L8.86,-8.91 L7.76,-10.48 L6.09,-11.00 L4.99,-11.00 M19.39,-11.00 L13.85,-11.00 L13.30,-6.29 L13.85,-6.81 L15.51,-7.34 L17.17,-7.34 L18.84,-6.81 L19.94,-5.76 L20.50,-4.19 L20.50,-3.14 L19.94,-1.57 L18.84,-0.52 L17.17,0.00 L15.51,0.00 L13.85,-0.52 L13.30,-1.05 L12.74,-2.10 M24.38,-4.72 L34.35,-4.72 M38.78,-11.00 L38.78,0.00 M38.78,-11.00 L42.66,-11.00 L44.32,-10.48 L45.43,-9.43 L45.98,-8.38 L46.54,-6.81 L46.54,-4.19 L45.98,-2.62 L45.43,-1.57 L44.32,-0.52 L42.66,0.00 L38.78,0.00 M49.86,-4.19 L56.51,-4.19 L56.51,-5.24 L55.95,-6.29 L55.40,-6.81 L54.29,-7.34 L52.63,-7.34 L51.52,-6.81 L50.41,-5.76 L49.86,-4.19 L49.86,-3.14 L50.41,-1.57 L51.52,-0.52 L52.63,0.00 L54.29,0.00 L55.40,-0.52 L56.51,-1.57 M66.48,-5.76 L65.37,-6.81 L64.26,-7.34 L62.60,-7.34 L61.49,-6.81 L60.39,-5.76 L59.83,-4.19 L59.83,-3.14 L60.39,-1.57 L61.49,-0.52 L62.60,0.00 L64.26,0.00 L65.37,-0.52 L66.48,-1.57" fill="none" stroke="#000" stroke-width="1.01" stroke-linecap="square" shape-rendering="crispEdges"/>
<path transform="translate(1027.4,666.5) rotate(84.91)" d="M4.99,-11.00 L3.32,-10.48 L2.22,-8.91 L1.66,-6.29 L1.66,-4.72 L2.22,-2.10 L3.32,-0.52 L4.99,0.00 L6.09,0.00 L7.76,-0.52 L8.86,-2.10 L9.42,-4.72 L9.42,-6.29 L8.86,-8.91 L7.76,-10.48 L6.09,-11.00 L4.99,-11.00 M15.51,-11.00 L13.85,-10.48 L13.30,-9.43 L13.30,-8.38 L13.85,-7.34 L14.96,-6.81 L17.17,-6.29 L18.84,-5.76 L19.94,-4.72 L20.50,-3.67 L20.50,-2.10 L19.94,-1.05 L19.39,-0.52 L17.73,0.00 L15.51,0.00 L13.85,-0.52 L13.30,-1.05 L12.74,-2.10 L12.74,-3.67 L13.30,-4.72 L14.40,-5.76 L16.07,-6.29 L18.28,-6.81 L19.39,-7.34 L19.94,-8.38 L19.94,-9.43 L19.39,-10.48 L17.73,-11.00 L15.51,-11.00 M24.38,-4.72 L34.35,-4.72 M38.78,-11.00 L38.78,0.00 M38.78,-11.00 L42.66,-11.00 L44.32,-10.48 L45.43,-9.43 L45.98,-8.38 L46.54,-6.81 L46.54,-4.19 L45.98,-2.62 L45.43,-1.57 L44.32,-0.52 L42.66,0.00 L38.78,0.00 M49.86,-4.19 L56.51,-4.19 L56.51,-5.24 L55.95,-6.29 L55.40,-6.81 L54.29,-7.34 L52.63,-7.34 L51.52,-6.81 L50.41,-5.76 L49.86,-4.19 L49.86,-3.14 L50.41,-1.57 L51.52,-0.52 L52.63,0.00 L54.29,0.00 L55.40,-0.52 L56.51,-1.57 M66.48,-5.76 L65.37,-6.81 L64.26,-7.34 L62.60,-7.34 L61.49,-6.81 L60.39,-5.76 L59.83,-4.19 L59.83,-3.14 L60.39,-1.57 L61.49,-0.52 L62.60,0.00 L64.26,0.00 L65.37,-0.52 L66.48,-1.57" fill="none" stroke="#000" stroke-width="1.01" stroke-linecap="square" shape-rendering="crispEdges"/>
<path transform="translate(1004.3,904.7) rotate(-55.31)" d="M-64.82,-8.91 L-63.71,-9.43 L-62.05,-11.00 L-62.05,0.00 M-53.74,-8.91 L-52.63,-9.43 L-50.97,-11.00 L-50.97,0.00 M-43.77,-4.72 L-33.79,-4.72 M-29.36,-11.00 L-29.36,0.00 M-29.36,-11.00 L-25.48,-11.00 L-23.82,-10.48 L-22.71,-9.43 L-22.16,-8.38 L-21.61,-6.81 L-21.61,-4.19 L-22.16,-2.62 L-22.71,-1.57 L-23.82,-0.52 L-25.48,0.00 L-29.36,0.00 M-18.28,-4.19 L-11.63,-4.19 L-11.63,-5.24 L-12.19,-6.29 L-12.74,-6.81 L-13.85,-7.34 L-15.51,-7.34 L-16.62,-6.81 L-17.73,-5.76 L-18.28,-4.19 L-18.28,-3.14 L-17.73,-1.57 L-16.62,-0.52 L-15.51,0.00 L-13.85,0.00 L-12.74,-0.52 L-11.63,-1.57 M-1.66,-5.76 L-2.77,-6.81 L-3.88,-7.34 L-5.54,-7.34 L-6.65,-6.81 L-7.76,-5.76 L-8.31,-4.19 L-8.31,-3.14 L-7.76,-1.57 L-6.65,-0.52 L-5.54,0.00 L-3.88,0.00 L-2.77,-0.52 L-1.66,-1.57" fill="none" stroke="#000" stroke-width="1.01" stroke-linecap="square" shape-rendering="crispEdges"/>
<path transform="translate(822.0,1071.4) rotate(-15.41)" d="M-64.82,-8.91 L-63.71,-9.43 L-62.05,-11.00 L-62.05,0.00 M-49.86,-11.00 L-55.40,-3.67 L-47.09,-3.67 M-49.86,-11.00 L-49.86,0.00 M-43.77,-4.72 L-33.79,-4.72 M-29.36,-11.00 L-29.36,0.00 M-29.36,-11.00 L-25.48,-11.00 L-23.82,-10.48 L-22.71,-9.43 L-22.16,-8.38 L-21.61,-6.81 L-21.61,-4.19 L-22.16,-2.62 L-22.71,-1.57 L-23.82,-0.52 L-25.48,0.00 L-29.36,0.00 M-18.28,-4.19 L-11.63,-4.19 L-11.63,-5.24 L-12.19,-6.29 L-12.74,-6.81 L-13.85,-7.34 L-15.51,-7.34 L-16.62,-6.81 L-17.73,-5.76 L-18.28,-4.19 L-18.28,-3.14 L-17.73,-1.57 L-16.62,-0.52 L-15.51,0.00 L-13.85,0.00 L-12.74,-0.52 L-11.63,-1.57 M-1.66,-5.76 L-2.77,-6.81 L-3.88,-7.34 L-5.54,-7.34 L-6.65,-6.81 L-7.76,-5.76 L-8.31,-4.19 L-8.31,-3.14 L-7.76,-1.57 L-6.65,-0.52 L-5.54,0.00 L-3.88,0.00 L-2.77,-0.52 L-1.66,-1.57" fill="none" stroke="#000" stroke-width="1.01" stroke-linecap="square" shape-rendering="crispEdges"/>
<path transform="translate(570.0,1081.8) rotate(24.50)" d="M-64.82,-8.91 L-63.71,-9.43 L-62.05,-11.00 L-62.05,0.00 M-47.64,-11.00 L-53.18,0.00 M-55.40,-11.00 L-47.64,-11.00 M-43.77,-4.72 L-33.79,-4.72 M-29.36,-11.00 L-29.36,0.00 M-29.36,-11.00 L-25.48,-11.00 L-23.82,-10.48 L-22.71,-9.43 L-22.16,-8.38 L-21.61,-6.81 L-21.61,-4.19 L-22.16,-2.62 L-22.71,-1.57 L-23.82,-0.52 L-25.48,0.00 L-29.36,0.00 M-18.28,-4.19 L-11.63,-4.19 L-11.63,-5.24 L-12.19,-6.29 L-12.74,-6.81 L-13.85,-7.34 L-15.51,-7.34 L-16.62,-6.81 L-17.73,-5.76 L-18.28,-4.19 L-18.28,-3.14 L-17.73,-1.57 L-16.62,-0.52 L-15.51,0.00 L-13.85,0.00 L-12.74,-0.52 L-11.63,-1.57 M-1.66,-5.76 L-2.77,-6.81 L-3.88,-7.34 L-5.54,-7.34 L-6.65,-6.81 L-7.76,-5.76 L-8.31,-4.19 L-8.31,-3.14 L-7.76,-1.57 L-6.65,-0.52 L-5.54,0.00 L-3.88,0.00 L-2.77,-0.52 L-1.66,-1.57" fill="none" stroke="#000" stroke-width="1.01" stroke-linecap="square" shape-rendering="crispEdges"/>
<path transform="translate(366.2,924.5) rotate(64.41)" d="M-65.93,-8.38 L-65.93,-8.91 L-65.37,-9.96 L-64.82,-10.48 L-63.71,-11.00 L-61.49,-11.00 L-60.39,-10.48 L-59.83,-9.96 L-59.28,-8.91 L-59.28,-7.86 L-59.83,-6.81 L-60.94,-5.24 L-66.48,0.00 L-58.72,0.00 M-52.08,-11.00 L-53.74,-10.48 L-54.85,-8.91 L-55.40,-6.29 L-55.40,-4.72 L-54.85,-2.10 L-53.74,-0.52 L-52.08,0.00 L-50.97,0.00 L-49.31,-0.52 L-48.20,-2.10 L-47.64,-4.72 L-47.64,-6.29 L-48.20,-8.91 L-49.31,-10.48 L-50.97,-11.00 L-52.08,-11.00 M-43.77,-4.72 L-33.79,-4.72 M-29.36,-11.00 L-29.36,0.00 M-29.36,-11.00 L-25.48,-11.00 L-23.82,-10.48 L-22.71,-9.43 L-22.16,-8.38 L-21.61,-6.81 L-21.61,-4.19 L-22.16,-2.62 L-22.71,-1.57 L-23.82,-0.52 L-25.48,0.00 L-29.36,0.00 M-18.28,-4.19 L-11.63,-4.19 L-11.63,-5.24 L-12.19,-6.29 L-12.74,-6.81 L-13.85,-7.34 L-15.51,-7.34 L-16.62,-6.81 L-17.73,-5.76 L-18.28,-4.19 L-18.28,-3.14 L-17.73,-1.57 L-16.62,-0.52 L-15.51,0.00 L-13.85,0.00 L-12.74,-0.52 L-11.63,-1.57 M-1.66,-5.76 L-2.77,-6.81 L-3.88,-7.34 L-5.54,-7.34 L-6.65,-6.81 L-7.76,-5.76 L-8.31,-4.19 L-8.31,-3.14 L-7.76,-1.57 L-6.65,-0.52 L-5.54,0.00 L-3.88,0.00 L-2.77,-0.52 L-1.66,-1.57" fill="none" stroke="#000" stroke-width="1.01" stroke-linecap="square" shape-rendering="crispEdges"/>
<path transform="translate(318.8,669.4) rotate(-75.58)" d="M2.22,-8.38 L2.22,-8.91 L2.77,-9.96 L3.32,-10.48 L4.43,-11.00 L6.65,-11.00 L7.76,-10.48 L8.31,-9.96 L8.86,-8.91 L8.86,-7.86 L8.31,-6.81 L7.20,-5.24 L1.66,0.00 L9.42,0.00 M13.85,-11.00 L19.94,-11.00 L16.62,-6.81 L18.28,-6.81 L19.39,-6.29 L19.94,-5.76 L20.50,-4.19 L20.50,-3.14 L19.94,-1.57 L18.84,-0.52 L17.17,0.00 L15.51,0.00 L13.85,-0.52 L13.30,-1.05 L12.74,-2.10 M24.38,-4.72 L34.35,-4.72 M38.78,-11.00 L38.78,0.00 M38.78,-11.00 L42.66,-11.00 L44.32,-10.48 L45.43,-9.43 L45.98,-8.38 L46.54,-6.81 L46.54,-4.19 L45.98,-2.62 L45.43,-1.57 L44.32,-0.52 L42.66,0.00 L38.78,0.00 M49.86,-4.19 L56.51,-4.19 L56.51,-5.24 L55.95,-6.29 L55.40,-6.81 L54.29,-7.34 L52.63,-7.34 L51.52,-6.81 L50.41,-5.76 L49.86,-4.19 L49.86,-3.14 L50.41,-1.57 L51.52,-0.52 L52.63,0.00 L54.29,0.00 L55.40,-0.52 L56.51,-1.57 M66.48,-5.76 L65.37,-6.81 L64.26,-7.34 L62.60,-7.34 L61.49,-6.81 L60.39,-5.76 L59.83,-4.19 L59.83,-3.14 L60.39,-1.57 L61.49,-0.52 L62.60,0.00 L64.26,0.00 L65.37,-0.52 L66.48,-1.57" fill="none" stroke="#000" stroke-width="1.01" stroke-linecap="square" shape-rendering="crispEdges"/>
<path transform="translate(440.7,437.4) rotate(-35.66)" d="M2.22,-8.38 L2.22,-8.91 L2.77,-9.96 L3.32,-10.48 L4.43,-11.00 L6.65,-11.00 L7.76,-10.48 L8.31,-9.96 L8.86,-8.91 L8.86,-7.86 L8.31,-6.81 L7.20,-5.24 L1.66,0.00 L9.42,0.00 M19.94,-9.43 L19.39,-10.48 L17.73,-11.00 L16.62,-11.00 L14.96,-10.48 L13.85,-8.91 L13.30,-6.29 L13.30,-3.67 L13.85,-1.57 L14.96,-0.52 L16.62,0.00 L17.17,0.00 L18.84,-0.52 L19.94,-1.57 L20.50,-3.14 L20.50,-3.67 L19.94,-5.24 L18.84,-6.29 L17.17,-6.81 L16.62,-6.81 L14.96,-6.29 L13.85,-5.24 L13.30,-3.67 M24.38,-4.72 L34.35,-4.72 M38.78,-11.00 L38.78,0.00 M38.78,-11.00 L42.66,-11.00 L44.32,-10.48 L45.43,-9.43 L45.98,-8.38 L46.54,-6.81 L46.54,-4.19 L45.98,-2.62 L45.43,-1.57 L44.32,-0.52 L42.66,0.00 L38.78,0.00 M49.86,-4.19 L56.51,-4.19 L56.51,-5.24 L55.95,-6.29 L55.40,-6.81 L54.29,-7.34 L52.63,-7.34 L51.52,-6.81 L50.41,-5.76 L49.86,-4.19 L49.86,-3.14 L50.41,-1.57 L51.52,-0.52 L52.63,0.00 L54.29,0.00 L55.40,-0.52 L56.51,-1.57 M66.48,-5.76 L65.37,-6.81 L64.26,-7.34 L62.60,-7.34 L61.49,-6.81 L60.39,-5.76 L59.83,-4.19 L59.83,-3.14 L60.39,-1.57 L61.49,-0.52 L62.60,0.00 L64.26,0.00 L65.37,-0.52 L66.48,-1.57" fill="none" stroke="#000" stroke-width="1.01" stroke-linecap="square" shape-rendering="crispEdges"/>
<path transform="translate(688.0,336.3) rotate(4.26)" d="M2.22,-8.38 L2.22,-8.91 L2.77,-9.96 L3.32,-10.48 L4.43,-11.00 L6.65,-11.00 L7.76,-10.48 L8.31,-9.96 L8.86,-8.91 L8.86,-7.86 L8.31,-6.81 L7.20,-5.24 L1.66,0.00 L9.42,0.00 M19.94,-7.34 L19.39,-5.76 L18.28,-4.72 L16.62,-4.19 L16.07,-4.19 L14.40,-4.72 L13.30,-5.76 L12.74,-7.34 L12.74,-7.86 L13.30,-9.43 L14.40,-10.48 L16.07,-11.00 L16.62,-11.00 L18.28,-10.48 L19.39,-9.43 L19.94,-7.34 L19.94,-4.72 L19.39,-2.10 L18.28,-0.52 L16.62,0.00 L15.51,0.00 L13.85,-0.52 L13.30,-1.57 M24.38,-4.72 L34.35,-4.72 M38.78,-11.00 L38.78,0.00 M38.78,-11.00 L42.66,-11.00 L44.32,-10.48 L45.43,-9.43 L45.98,-8.38 L46.54,-6.81 L46.54,-4.19 L45.98,-2.62 L45.43,-1.57 L44.32,-0.52 L42.66,0.00 L38.78,0.00 M49.86,-4.19 L56.51,-4.19 L56.51,-5.24 L55.95,-6.29 L55.40,-6.81 L54.29,-7.34 L52.63,-7.34 L51.52,-6.81 L50.41,-5.76 L49.86,-4.19 L49.86,-3.14 L50.41,-1.57 L51.52,-0.52 L52.63,0.00 L54.29,0.00 L55.40,-0.52 L56.51,-1.57 M66.48,-5.76 L65.37,-6.81 L64.26,-7.34 L62.60,-7.34 L61.49,-6.81 L60.39,-5.76 L59.83,-4.19 L59.83,-3.14 L60.39,-1.57 L61.49,-0.52 L62.60,0.00 L64.26,0.00 L65.37,-0.52 L66.48,-1.57" fill="none" stroke="#000" stroke-width="1.01" stroke-linecap="square" shape-rendering="crispEdges"/>
<path transform="translate(947.3,419.5) rotate(44.04)" d="M4.99,-11.00 L3.32,-10.48 L2.22,-8.91 L1.66,-6.29 L1.66,-4.72 L2.22,-2.10 L3.32,-0.52 L4.99,0.00 L6.09,0.00 L7.76,-0.52 L8.86,-2.10 L9.42,-4.72 L9.42,-6.29 L8.86,-8.91 L7.76,-10.48 L6.09,-11.00 L4.99,-11.00 M14.40,-8.91 L15.51,-9.43 L17.17,-11.00 L17.17,0.00 M24.38,-4.72 L34.35,-4.72 M43.21,-11.00 L43.21,-2.62 L42.66,-1.05 L42.10,-0.52 L41.00,0.00 L39.89,0.00 L38.78,-0.52 L38.23,-1.05 L37.67,-2.62 L37.67,-3.67 M53.74,-7.34 L53.74,0.00 M53.74,-5.76 L52.63,-6.81 L51.52,-7.34 L49.86,-7.34 L48.75,-6.81 L47.64,-5.76 L47.09,-4.19 L47.09,-3.14 L47.64,-1.57 L48.75,-0.52 L49.86,0.00 L51.52,0.00 L52.63,-0.52 L53.74,-1.57 M58.17,-7.34 L58.17,0.00 M58.17,-5.24 L59.83,-6.81 L60.94,-7.34 L62.60,-7.34 L63.71,-6.81 L64.26,-5.24 L64.26,0.00" fill="none" stroke="#000" stroke-width="1.01" stroke-linecap="square" shape-rendering="crispEdges"/>
<path transform="translate(1095.1,654.4) rotate(83.95)" d="M4.99,-11.00 L3.32,-10.48 L2.22,-8.91 L1.66,-6.29 L1.66,-4.72 L2.22,-2.10 L3.32,-0.52 L4.99,0.00 L6.09,0.00 L7.76,-0.52 L8.86,-2.10 L9.42,-4.72 L9.42,-6.29 L8.86,-8.91 L7.76,-10.48 L6.09,-11.00 L4.99,-11.00 M18.28,-11.00 L12.74,-3.67 L21.05,-3.67 M18.28,-11.00 L18.28,0.00 M24.38,-4.72 L34.35,-4.72 M43.21,-11.00 L43.21,-2.62 L42.66,-1.05 L42.10,-0.52 L41.00,0.00 L39.89,0.00 L38.78,-0.52 L38.23,-1.05 L37.67,-2.62 L37.67,-3.67 M53.74,-7.34 L53.74,0.00 M53.74,-5.76 L52.63,-6.81 L51.52,-7.34 L49.86,-7.34 L48.75,-6.81 L47.64,-5.76 L47.09,-4.19 L47.09,-3.14 L47.64,-1.57 L48.75,-0.52 L49.86,0.00 L51.52,0.00 L52.63,-0.52 L53.74,-1.57 M58.17,-7.34 L58.17,0.00 M58.17,-5.24 L59.83,-6.81 L60.94,-7.34 L62.60,-7.34 L63.71,-6.81 L64.26,-5.24 L64.26,0.00" fill="none" stroke="#000" stroke-width="1.01" stroke-linecap="square" shape-rendering="crispEdges"/>
<path transform="translate(1064.0,938.7) rotate(-56.24)" d="M-61.49,-11.00 L-63.16,-10.48 L-64.26,-8.91 L-64.82,-6.29 L-64.82,-4.72 L-64.26,-2.10 L-63.16,-0.52 L-61.49,0.00 L-60.39,0.00 L-58.72,-0.52 L-57.62,-2.10 L-57.06,-4.72 L-57.06,-6.29 L-57.62,-8.91 L-58.72,-10.48 L-60.39,-11.00 L-61.49,-11.00 M-45.98,-11.00 L-51.52,0.00 M-53.74,-11.00 L-45.98,-11.00 M-42.10,-4.72 L-32.13,-4.72 M-23.27,-11.00 L-23.27,-2.62 L-23.82,-1.05 L-24.38,-0.52 L-25.48,0.00 L-26.59,0.00 L-27.70,-0.52 L-28.25,-1.05 L-28.81,-2.62 L-28.81,-3.67 M-12.74,-7.34 L-12.74,0.00 M-12.74,-5.76 L-13.85,-6.81 L-14.96,-7.34 L-16.62,-7.34 L-17.73,-6.81 L-18.84,-5.76 L-19.39,-4.19 L-19.39,-3.14 L-18.84,-1.57 L-17.73,-0.52 L-16.62,0.00 L-14.96,0.00 L-13.85,-0.52 L-12.74,-1.57 M-8.31,-7.34 L-8.31,0.00 M-8.31,-5.24 L-6.65,-6.81 L-5.54,-7.34 L-3.88,-7.34 L-2.77,-6.81 L-2.22,-5.24 L-2.22,0.00" fill="none" stroke="#000" stroke-width="1.01" stroke-linecap="square" shape-rendering="crispEdges"/>
<path transform="translate(846.0,1135.7) rotate(-16.32)" d="M-63.16,-8.91 L-62.05,-9.43 L-60.39,-11.00 L-60.39,0.00 M-50.41,-11.00 L-52.08,-10.48 L-53.18,-8.91 L-53.74,-6.29 L-53.74,-4.72 L-53.18,-2.10 L-52.08,-0.52 L-50.41,0.00 L-49.31,0.00 L-47.64,-0.52 L-46.54,-2.10 L-45.98,-4.72 L-45.98,-6.29 L-46.54,-8.91 L-47.64,-10.48 L-49.31,-11.00 L-50.41,-11.00 M-42.10,-4.72 L-32.13,-4.72 M-23.27,-11.00 L-23.27,-2.62 L-23.82,-1.05 L-24.38,-0.52 L-25.48,0.00 L-26.59,0.00 L-27.70,-0.52 L-28.25,-1.05 L-28.81,-2.62 L-28.81,-3.67 M-12.74,-7.34 L-12.74,0.00 M-12.74,-5.76 L-13.85,-6.81 L-14.96,-7.34 L-16.62,-7.34 L-17.73,-6.81 L-18.84,-5.76 L-19.39,-4.19 L-19.39,-3.14 L-18.84,-1.57 L-17.73,-0.52 L-16.62,0.00 L-14.96,0.00 L-13.85,-0.52 L-12.74,-1.57 M-8.31,-7.34 L-8.31,0.00 M-8.31,-5.24 L-6.65,-6.81 L-5.54,-7.34 L-3.88,-7.34 L-2.77,-6.81 L-2.22,-5.24 L-2.22,0.00" fill="none" stroke="#000" stroke-width="1.01" stroke-linecap="square" shape-rendering="crispEdges"/>
<path transform="translate(547.2,1146.6) rotate(23.60)" d="M-63.16,-8.91 L-62.05,-9.43 L-60.39,-11.00 L-60.39,0.00 M-52.63,-11.00 L-46.54,-11.00 L-49.86,-6.81 L-48.20,-6.81 L-47.09,-6.29 L-46.54,-5.76 L-45.98,-4.19 L-45.98,-3.14 L-46.54,-1.57 L-47.64,-0.52 L-49.31,0.00 L-50.97,0.00 L-52.63,-0.52 L-53.18,-1.05 L-53.74,-2.10 M-42.10,-4.72 L-32.13,-4.72 M-23.27,-11.00 L-23.27,-2.62 L-23.82,-1.05 L-24.38,-0.52 L-25.48,0.00 L-26.59,0.00 L-27.70,-0.52 L-28.25,-1.05 L-28.81,-2.62 L-28.81,-3.67 M-12.74,-7.34 L-12.74,0.00 M-12.74,-5.76 L-13.85,-6.81 L-14.96,-7.34 L-16.62,-7.34 L-17.73,-6.81 L-18.84,-5.76 L-19.39,-4.19 L-19.39,-3.14 L-18.84,-1.57 L-17.73,-0.52 L-16.62,0.00 L-14.96,0.00 L-13.85,-0.52 L-12.74,-1.57 M-8.31,-7.34 L-8.31,0.00 M-8.31,-5.24 L-6.65,-6.81 L-5.54,-7.34 L-3.88,-7.34 L-2.77,-6.81 L-2.22,-5.24 L-2.22,0.00" fill="none" stroke="#000" stroke-width="1.01" stroke-linecap="square" shape-rendering="crispEdges"/>
<path transform="translate(307.2,959.6) rotate(63.53)" d="M-63.16,-8.91 L-62.05,-9.43 L-60.39,-11.00 L-60.39,0.00 M-46.54,-9.43 L-47.09,-10.48 L-48.75,-11.00 L-49.86,-11.00 L-51.52,-10.48 L-52.63,-8.91 L-53.18,-6.29 L-53.18,-3.67 L-52.63,-1.57 L-51.52,-0.52 L-49.86,0.00 L-49.31,0.00 L-47.64,-0.52 L-46.54,-1.57 L-45.98,-3.14 L-45.98,-3.67 L-46.54,-5.24 L-47.64,-6.29 L-49.31,-6.81 L-49.86,-6.81 L-51.52,-6.29 L-52.63,-5.24 L-53.18,-3.67 M-42.10,-4.72 L-32.13,-4.72 M-23.27,-11.00 L-23.27,-2.62 L-23.82,-1.05 L-24.38,-0.52 L-25.48,0.00 L-26.59,0.00 L-27.70,-0.52 L-28.25,-1.05 L-28.81,-2.62 L-28.81,-3.67 M-12.74,-7.34 L-12.74,0.00 M-12.74,-5.76 L-13.85,-6.81 L-14.96,-7.34 L-16.62,-7.34 L-17.73,-6.81 L-18.84,-5.76 L-19.39,-4.19 L-19.39,-3.14 L-18.84,-1.57 L-17.73,-0.52 L-16.62,0.00 L-14.96,0.00 L-13.85,-0.52 L-12.74,-1.57 M-8.31,-7.34 L-8.31,0.00 M-8.31,-5.24 L-6.65,-6.81 L-5.54,-7.34 L-3.88,-7.34 L-2.77,-6.81 L-2.22,-5.24 L-2.22,0.00" fill="none" stroke="#000" stroke-width="1.01" stroke-linecap="square" shape-rendering="crispEdges"/>
<path transform="translate(251.0,658.3) rotate(-76.47)" d="M3.32,-8.91 L4.43,-9.43 L6.09,-11.00 L6.09,0.00 M19.94,-7.34 L19.39,-5.76 L18.28,-4.72 L16.62,-4.19 L16.07,-4.19 L14.40,-4.72 L13.30,-5.76 L12.74,-7.34 L12.74,-7.86 L13.30,-9.43 L14.40,-10.48 L16.07,-11.00 L16.62,-11.00 L18.28,-10.48 L19.39,-9.43 L19.94,-7.34 L19.94,-4.72 L19.39,-2.10 L18.28,-0.52 L16.62,0.00 L15.51,0.00 L13.85,-0.52 L13.30,-1.57 M24.38,-4.72 L34.35,-4.72 M43.21,-11.00 L43.21,-2.62 L42.66,-1.05 L42.10,-0.52 L41.00,0.00 L39.89,0.00 L38.78,-0.52 L38.23,-1.05 L37.67,-2.62 L37.67,-3.67 M53.74,-7.34 L53.74,0.00 M53.74,-5.76 L52.63,-6.81 L51.52,-7.34 L49.86,-7.34 L48.75,-6.81 L47.64,-5.76 L47.09,-4.19 L47.09,-3.14 L47.64,-1.57 L48.75,-0.52 L49.86,0.00 L51.52,0.00 L52.63,-0.52 L53.74,-1.57 M58.17,-7.34 L58.17,0.00 M58.17,-5.24 L59.83,-6.81 L60.94,-7.34 L62.60,-7.34 L63.71,-6.81 L64.26,-5.24 L64.26,0.00" fill="none" stroke="#000" stroke-width="1.01" stroke-linecap="square" shape-rendering="crispEdges"/>
<path transform="translate(395.8,385.4) rotate(-36.54)" d="M2.22,-8.38 L2.22,-8.91 L2.77,-9.96 L3.32,-10.48 L4.43,-11.00 L6.65,-11.00 L7.76,-10.48 L8.31,-9.96 L8.86,-8.91 L8.86,-7.86 L8.31,-6.81 L7.20,-5.24 L1.66,0.00 L9.42,0.00 M13.30,-8.38 L13.30,-8.91 L13.85,-9.96 L14.40,-10.48 L15.51,-11.00 L17.73,-11.00 L18.84,-10.48 L19.39,-9.96 L19.94,-8.91 L19.94,-7.86 L19.39,-6.81 L18.28,-5.24 L12.74,0.00 L20.50,0.00 M24.38,-4.72 L34.35,-4.72 M43.21,-11.00 L43.21,-2.62 L42.66,-1.05 L42.10,-0.52 L41.00,0.00 L39.89,0.00 L38.78,-0.52 L38.23,-1.05 L37.67,-2.62 L37.67,-3.67 M53.74,-7.34 L53.74,0.00 M53.74,-5.76 L52.63,-6.81 L51.52,-7.34 L49.86,-7.34 L48.75,-6.81 L47.64,-5.76 L47.09,-4.19 L47.09,-3.14 L47.64,-1.57 L48.75,-0.52 L49.86,0.00 L51.52,0.00 L52.63,-0.52 L53.74,-1.57 M58.17,-7.34 L58.17,0.00 M58.17,-5.24 L59.83,-6.81 L60.94,-7.34 L62.60,-7.34 L63.71,-6.81 L64.26,-5.24 L64.26,0.00" fill="none" stroke="#000" stroke-width="1.01" stroke-linecap="square" shape-rendering="crispEdges"/>
<path transform="translate(686.9,267.6) rotate(3.39)" d="M2.22,-8.38 L2.22,-8.91 L2.77,-9.96 L3.32,-10.48 L4.43,-11.00 L6.65,-11.00 L7.76,-10.48 L8.31,-9.96 L8.86,-8.91 L8.86,-7.86 L8.31,-6.81 L7.20,-5.24 L1.66,0.00 L9.42,0.00 M19.39,-11.00 L13.85,-11.00 L13.30,-6.29 L13.85,-6.81 L15.51,-7.34 L17.17,-7.34 L18.84,-6.81 L19.94,-5.76 L20.50,-4.19 L20.50,-3.14 L19.94,-1.57 L18.84,-0.52 L17.17,0.00 L15.51,0.00 L13.85,-0.52 L13.30,-1.05 L12.74,-2.10 M24.38,-4.72 L34.35,-4.72 M43.21,-11.00 L43.21,-2.62 L42.66,-1.05 L42.10,-0.52 L41.00,0.00 L39.89,0.00 L38.78,-0.52 L38.23,-1.05 L37.67,-2.62 L37.67,-3.67 M53.74,-7.34 L53.74,0.00 M53.74,-5.76 L52.63,-6.81 L51.52,-7.34 L49.86,-7.34 L48.75,-6.81 L47.64,-5.76 L47.09,-4.19 L47.09,-3.14 L47.64,-1.57 L48.75,-0.52 L49.86,0.00 L51.52,0.00 L52.63,-0.52 L53.74,-1.57 M58.17,-7.34 L58.17,0.00 M58.17,-5.24 L59.83,-6.81 L60.94,-7.34 L62.60,-7.34 L63.71,-6.81 L64.26,-5.24 L64.26,0.00" fill="none" stroke="#000" stroke-width="1.01" stroke-linecap="square" shape-rendering="crispEdges"/>
<path transform="translate(990.3,365.9) rotate(43.27)" d="M2.22,-8.38 L2.22,-8.91 L2.77,-9.96 L3.32,-10.48 L4.43,-11.00 L6.65,-11.00 L7.76,-10.48 L8.31,-9.96 L8.86,-8.91 L8.86,-7.86 L8.31,-6.81 L7.20,-5.24 L1.66,0.00 L9.42,0.00 M15.51,-11.00 L13.85,-10.48 L13.30,-9.43 L13.30,-8.38 L13.85,-7.34 L14.96,-6.81 L17.17,-6.29 L18.84,-5.76 L19.94,-4.72 L20.50,-3.67 L20.50,-2.10 L19.94,-1.05 L19.39,-0.52 L17.73,0.00 L15.51,0.00 L13.85,-0.52 L13.30,-1.05 L12.74,-2.10 L12.74,-3.67 L13.30,-4.72 L14.40,-5.76 L16.07,-6.29 L18.28,-6.81 L19.39,-7.34 L19.94,-8.38 L19.94,-9.43 L19.39,-10.48 L17.73,-11.00 L15.51,-11.00 M24.38,-4.72 L34.35,-4.72 M43.21,-11.00 L43.21,-2.62 L42.66,-1.05 L42.10,-0.52 L41.00,0.00 L39.89,0.00 L38.78,-0.52 L38.23,-1.05 L37.67,-2.62 L37.67,-3.67 M53.74,-7.34 L53.74,0.00 M53.74,-5.76 L52.63,-6.81 L51.52,-7.34 L49.86,-7.34 L48.75,-6.81 L47.64,-5.76 L47.09,-4.19 L47.09,-3.14 L47.64,-1.57 L48.75,-0.52 L49.86,0.00 L51.52,0.00 L52.63,-0.52 L53.74,-1.57 M58.17,-7.34 L58.17,0.00 M58.17,-5.24 L59.83,-6.81 L60.94,-7.34 L62.60,-7.34 L63.71,-6.81 L64.26,-5.24 L64.26,0.00" fill="none" stroke="#000" stroke-width="1.01" stroke-linecap="square" shape-rendering="crispEdges"/>
<path transform="translate(1162.4,640.6) rotate(83.15)" d="M2.77,-11.00 L8.86,-11.00 L5.54,-6.81 L7.20,-6.81 L8.31,-6.29 L8.86,-5.76 L9.42,-4.19 L9.42,-3.14 L8.86,-1.57 L7.76,-0.52 L6.09,0.00 L4.43,0.00 L2.77,-0.52 L2.22,-1.05 L1.66,-2.10 M14.40,-8.91 L15.51,-9.43 L17.17,-11.00 L17.17,0.00 M24.38,-4.72 L34.35,-4.72 M43.21,-11.00 L43.21,-2.62 L42.66,-1.05 L42.10,-0.52 L41.00,0.00 L39.89,0.00 L38.78,-0.52 L38.23,-1.05 L37.67,-2.62 L37.67,-3.67 M53.74,-7.34 L53.74,0.00 M53.74,-5.76 L52.63,-6.81 L51.52,-7.34 L49.86,-7.34 L48.75,-6.81 L47.64,-5.76 L47.09,-4.19 L47.09,-3.14 L47.64,-1.57 L48.75,-0.52 L49.86,0.00 L51.52,0.00 L52.63,-0.52 L53.74,-1.57 M58.17,-7.34 L58.17,0.00 M58.17,-5.24 L59.83,-6.81 L60.94,-7.34 L62.60,-7.34 L63.71,-6.81 L64.26,-5.24 L64.26,0.00" fill="none" stroke="#000" stroke-width="1.01" stroke-linecap="square" shape-rendering="crispEdges"/>
<path transform="translate(1124.9,970.6) rotate(-57.05)" d="M-62.05,-11.00 L-63.71,-10.48 L-64.82,-8.91 L-65.37,-6.29 L-65.37,-4.72 L-64.82,-2.10 L-63.71,-0.52 L-62.05,0.00 L-60.94,0.00 L-59.28,-0.52 L-58.17,-2.10 L-57.62,-4.72 L-57.62,-6.29 L-58.17,-8.91 L-59.28,-10.48 L-60.94,-11.00 L-62.05,-11.00 M-53.18,-11.00 L-47.09,-11.00 L-50.41,-6.81 L-48.75,-6.81 L-47.64,-6.29 L-47.09,-5.76 L-46.54,-4.19 L-46.54,-3.14 L-47.09,-1.57 L-48.20,-0.52 L-49.86,0.00 L-51.52,0.00 L-53.18,-0.52 L-53.74,-1.05 L-54.29,-2.10 M-42.66,-4.72 L-32.69,-4.72 M-28.25,-11.00 L-28.25,0.00 M-28.25,-11.00 L-21.05,-11.00 M-28.25,-5.76 L-23.82,-5.76 M-18.84,-4.19 L-12.19,-4.19 L-12.19,-5.24 L-12.74,-6.29 L-13.30,-6.81 L-14.40,-7.34 L-16.07,-7.34 L-17.17,-6.81 L-18.28,-5.76 L-18.84,-4.19 L-18.84,-3.14 L-18.28,-1.57 L-17.17,-0.52 L-16.07,0.00 L-14.40,0.00 L-13.30,-0.52 L-12.19,-1.57 M-8.31,-11.00 L-8.31,0.00 M-8.31,-5.76 L-7.20,-6.81 L-6.09,-7.34 L-4.43,-7.34 L-3.32,-6.81 L-2.22,-5.76 L-1.66,-4.19 L-1.66,-3.14 L-2.22,-1.57 L-3.32,-0.52 L-4.43,0.00 L-6.09,0.00 L-7.20,-0.52 L-8.31,-1.57" fill="none" stroke="#000" stroke-width="1.01" stroke-linecap="square" shape-rendering="crispEdges"/>
<path transform="translate(872.5,1199.2) rotate(-17.16)" d="M-62.05,-11.00 L-63.71,-10.48 L-64.82,-8.91 L-65.37,-6.29 L-65.37,-4.72 L-64.82,-2.10 L-63.71,-0.52 L-62.05,0.00 L-60.94,0.00 L-59.28,-0.52 L-58.17,-2.10 L-57.62,-4.72 L-57.62,-6.29 L-58.17,-8.91 L-59.28,-10.48 L-60.94,-11.00 L-62.05,-11.00 M-47.09,-9.43 L-47.64,-10.48 L-49.31,-11.00 L-50.41,-11.00 L-52.08,-10.48 L-53.18,-8.91 L-53.74,-6.29 L-53.74,-3.67 L-53.18,-1.57 L-52.08,-0.52 L-50.41,0.00 L-49.86,0.00 L-48.20,-0.52 L-47.09,-1.57 L-46.54,-3.14 L-46.54,-3.67 L-47.09,-5.24 L-48.20,-6.29 L-49.86,-6.81 L-50.41,-6.81 L-52.08,-6.29 L-53.18,-5.24 L-53.74,-3.67 M-42.66,-4.72 L-32.69,-4.72 M-28.25,-11.00 L-28.25,0.00 M-28.25,-11.00 L-21.05,-11.00 M-28.25,-5.76 L-23.82,-5.76 M-18.84,-4.19 L-12.19,-4.19 L-12.19,-5.24 L-12.74,-6.29 L-13.30,-6.81 L-14.40,-7.34 L-16.07,-7.34 L-17.17,-6.81 L-18.28,-5.76 L-18.84,-4.19 L-18.84,-3.14 L-18.28,-1.57 L-17.17,-0.52 L-16.07,0.00 L-14.40,0.00 L-13.30,-0.52 L-12.19,-1.57 M-8.31,-11.00 L-8.31,0.00 M-8.31,-5.76 L-7.20,-6.81 L-6.09,-7.34 L-4.43,-7.34 L-3.32,-6.81 L-2.22,-5.76 L-1.66,-4.19 L-1.66,-3.14 L-2.22,-1.57 L-3.32,-0.52 L-4.43,0.00 L-6.09,0.00 L-7.20,-0.52 L-8.31,-1.57" fill="none" stroke="#000" stroke-width="1.01" stroke-linecap="square" shape-rendering="crispEdges"/>
<path transform="translate(527.1,1212.4) rotate(22.74)" d="M-62.05,-11.00 L-63.71,-10.48 L-64.82,-8.91 L-65.37,-6.29 L-65.37,-4.72 L-64.82,-2.10 L-63.71,-0.52 L-62.05,0.00 L-60.94,0.00 L-59.28,-0.52 L-58.17,-2.10 L-57.62,-4.72 L-57.62,-6.29 L-58.17,-8.91 L-59.28,-10.48 L-60.94,-11.00 L-62.05,-11.00 M-47.09,-7.34 L-47.64,-5.76 L-48.75,-4.72 L-50.41,-4.19 L-50.97,-4.19 L-52.63,-4.72 L-53.74,-5.76 L-54.29,-7.34 L-54.29,-7.86 L-53.74,-9.43 L-52.63,-10.48 L-50.97,-11.00 L-50.41,-11.00 L-48.75,-10.48 L-47.64,-9.43 L-47.09,-7.34 L-47.09,-4.72 L-47.64,-2.10 L-48.75,-0.52 L-50.41,0.00 L-51.52,0.00 L-53.18,-0.52 L-53.74,-1.57 M-42.66,-4.72 L-32.69,-4.72 M-28.25,-11.00 L-28.25,0.00 M-28.25,-11.00 L-21.05,-11.00 M-28.25,-5.76 L-23.82,-5.76 M-18.84,-4.19 L-12.19,-4.19 L-12.19,-5.24 L-12.74,-6.29 L-13.30,-6.81 L-14.40,-7.34 L-16.07,-7.34 L-17.17,-6.81 L-18.28,-5.76 L-18.84,-4.19 L-18.84,-3.14 L-18.28,-1.57 L-17.17,-0.52 L-16.07,0.00 L-14.40,0.00 L-13.30,-0.52 L-12.19,-1.57 M-8.31,-11.00 L-8.31,0.00 M-8.31,-5.76 L-7.20,-6.81 L-6.09,-7.34 L-4.43,-7.34 L-3.32,-6.81 L-2.22,-5.76 L-1.66,-4.19 L-1.66,-3.14 L-2.22,-1.57 L-3.32,-0.52 L-4.43,0.00 L-6.09,0.00 L-7.20,-0.52 L-8.31,-1.57" fill="none" stroke="#000" stroke-width="1.01" stroke-linecap="square" shape-rendering="crispEdges"/>
<path transform="translate(249.7,997.4) rotate(62.64)" d="M-63.71,-8.91 L-62.60,-9.43 L-60.94,-11.00 L-60.94,0.00 M-53.74,-8.38 L-53.74,-8.91 L-53.18,-9.96 L-52.63,-10.48 L-51.52,-11.00 L-49.31,-11.00 L-48.20,-10.48 L-47.64,-9.96 L-47.09,-8.91 L-47.09,-7.86 L-47.64,-6.81 L-48.75,-5.24 L-54.29,0.00 L-46.54,0.00 M-42.66,-4.72 L-32.69,-4.72 M-28.25,-11.00 L-28.25,0.00 M-28.25,-11.00 L-21.05,-11.00 M-28.25,-5.76 L-23.82,-5.76 M-18.84,-4.19 L-12.19,-4.19 L-12.19,-5.24 L-12.74,-6.29 L-13.30,-6.81 L-14.40,-7.34 L-16.07,-7.34 L-17.17,-6.81 L-18.28,-5.76 L-18.84,-4.19 L-18.84,-3.14 L-18.28,-1.57 L-17.17,-0.52 L-16.07,0.00 L-14.40,0.00 L-13.30,-0.52 L-12.19,-1.57 M-8.31,-11.00 L-8.31,0.00 M-8.31,-5.76 L-7.20,-6.81 L-6.09,-7.34 L-4.43,-7.34 L-3.32,-6.81 L-2.22,-5.76 L-1.66,-4.19 L-1.66,-3.14 L-2.22,-1.57 L-3.32,-0.52 L-4.43,0.00 L-6.09,0.00 L-7.20,-0.52 L-8.31,-1.57" fill="none" stroke="#000" stroke-width="1.01" stroke-linecap="square" shape-rendering="crispEdges"/>
<path transform="translate(182.7,650.3) rotate(-77.35)" d="M3.32,-8.91 L4.43,-9.43 L6.09,-11.00 L6.09,0.00 M19.39,-11.00 L13.85,-11.00 L13.30,-6.29 L13.85,-6.81 L15.51,-7.34 L17.17,-7.34 L18.84,-6.81 L19.94,-5.76 L20.50,-4.19 L20.50,-3.14 L19.94,-1.57 L18.84,-0.52 L17.17,0.00 L15.51,0.00 L13.85,-0.52 L13.30,-1.05 L12.74,-2.10 M24.38,-4.72 L34.35,-4.72 M38.78,-11.00 L38.78,0.00 M38.78,-11.00 L45.98,-11.00 M38.78,-5.76 L43.21,-5.76 M48.20,-4.19 L54.85,-4.19 L54.85,-5.24 L54.29,-6.29 L53.74,-6.81 L52.63,-7.34 L50.97,-7.34 L49.86,-6.81 L48.75,-5.76 L48.20,-4.19 L48.20,-3.14 L48.75,-1.57 L49.86,-0.52 L50.97,0.00 L52.63,0.00 L53.74,-0.52 L54.85,-1.57 M58.72,-11.00 L58.72,0.00 M58.72,-5.76 L59.83,-6.81 L60.94,-7.34 L62.60,-7.34 L63.71,-6.81 L64.82,-5.76 L65.37,-4.19 L65.37,-3.14 L64.82,-1.57 L63.71,-0.52 L62.60,0.00 L60.94,0.00 L59.83,-0.52 L58.72,-1.57" fill="none" stroke="#000" stroke-width="1.01" stroke-linecap="square" shape-rendering="crispEdges"/>
<path transform="translate(348.3,335.7) rotate(-37.44)" d="M3.32,-8.91 L4.43,-9.43 L6.09,-11.00 L6.09,0.00 M15.51,-11.00 L13.85,-10.48 L13.30,-9.43 L13.30,-8.38 L13.85,-7.34 L14.96,-6.81 L17.17,-6.29 L18.84,-5.76 L19.94,-4.72 L20.50,-3.67 L20.50,-2.10 L19.94,-1.05 L19.39,-0.52 L17.73,0.00 L15.51,0.00 L13.85,-0.52 L13.30,-1.05 L12.74,-2.10 L12.74,-3.67 L13.30,-4.72 L14.40,-5.76 L16.07,-6.29 L18.28,-6.81 L19.39,-7.34 L19.94,-8.38 L19.94,-9.43 L19.39,-10.48 L17.73,-11.00 L15.51,-11.00 M24.38,-4.72 L34.35,-4.72 M38.78,-11.00 L38.78,0.00 M38.78,-11.00 L45.98,-11.00 M38.78,-5.76 L43.21,-5.76 M48.20,-4.19 L54.85,-4.19 L54.85,-5.24 L54.29,-6.29 L53.74,-6.81 L52.63,-7.34 L50.97,-7.34 L49.86,-6.81 L48.75,-5.76 L48.20,-4.19 L48.20,-3.14 L48.75,-1.57 L49.86,-0.52 L50.97,0.00 L52.63,0.00 L53.74,-0.52 L54.85,-1.57 M58.72,-11.00 L58.72,0.00 M58.72,-5.76 L59.83,-6.81 L60.94,-7.34 L62.60,-7.34 L63.71,-6.81 L64.82,-5.76 L65.37,-4.19 L65.37,-3.14 L64.82,-1.57 L63.71,-0.52 L62.60,0.00 L60.94,0.00 L59.83,-0.52 L58.72,-1.57" fill="none" stroke="#000" stroke-width="1.01" stroke-linecap="square" shape-rendering="crispEdges"/>
<path transform="translate(682.1,199.0) rotate(2.47)" d="M2.22,-8.38 L2.22,-8.91 L2.77,-9.96 L3.32,-10.48 L4.43,-11.00 L6.65,-11.00 L7.76,-10.48 L8.31,-9.96 L8.86,-8.91 L8.86,-7.86 L8.31,-6.81 L7.20,-5.24 L1.66,0.00 L9.42,0.00 M14.40,-8.91 L15.51,-9.43 L17.17,-11.00 L17.17,0.00 M24.38,-4.72 L34.35,-4.72 M38.78,-11.00 L38.78,0.00 M38.78,-11.00 L45.98,-11.00 M38.78,-5.76 L43.21,-5.76 M48.20,-4.19 L54.85,-4.19 L54.85,-5.24 L54.29,-6.29 L53.74,-6.81 L52.63,-7.34 L50.97,-7.34 L49.86,-6.81 L48.75,-5.76 L48.20,-4.19 L48.20,-3.14 L48.75,-1.57 L49.86,-0.52 L50.97,0.00 L52.63,0.00 L53.74,-0.52 L54.85,-1.57 M58.72,-11.00 L58.72,0.00 M58.72,-5.76 L59.83,-6.81 L60.94,-7.34 L62.60,-7.34 L63.71,-6.81 L64.82,-5.76 L65.37,-4.19 L65.37,-3.14 L64.82,-1.57 L63.71,-0.52 L62.60,0.00 L60.94,0.00 L59.83,-0.52 L58.72,-1.57" fill="none" stroke="#000" stroke-width="1.01" stroke-linecap="square" shape-rendering="crispEdges"/>
<path transform="translate(1030.9,310.4) rotate(42.40)" d="M2.22,-8.38 L2.22,-8.91 L2.77,-9.96 L3.32,-10.48 L4.43,-11.00 L6.65,-11.00 L7.76,-10.48 L8.31,-9.96 L8.86,-8.91 L8.86,-7.86 L8.31,-6.81 L7.20,-5.24 L1.66,0.00 L9.42,0.00 M18.28,-11.00 L12.74,-3.67 L21.05,-3.67 M18.28,-11.00 L18.28,0.00 M24.38,-4.72 L34.35,-4.72 M38.78,-11.00 L38.78,0.00 M38.78,-11.00 L45.98,-11.00 M38.78,-5.76 L43.21,-5.76 M48.20,-4.19 L54.85,-4.19 L54.85,-5.24 L54.29,-6.29 L53.74,-6.81 L52.63,-7.34 L50.97,-7.34 L49.86,-6.81 L48.75,-5.76 L48.20,-4.19 L48.20,-3.14 L48.75,-1.57 L49.86,-0.52 L50.97,0.00 L52.63,0.00 L53.74,-0.52 L54.85,-1.57 M58.72,-11.00 L58.72,0.00 M58.72,-5.76 L59.83,-6.81 L60.94,-7.34 L62.60,-7.34 L63.71,-6.81 L64.82,-5.76 L65.37,-4.19 L65.37,-3.14 L64.82,-1.57 L63.71,-0.52 L62.60,0.00 L60.94,0.00 L59.83,-0.52 L58.72,-1.57" fill="none" stroke="#000" stroke-width="1.01" stroke-linecap="square" shape-rendering="crispEdges"/>
<path transform="translate(1229.3,624.4) rotate(82.33)" d="M2.22,-8.38 L2.22,-8.91 L2.77,-9.96 L3.32,-10.48 L4.43,-11.00 L6.65,-11.00 L7.76,-10.48 L8.31,-9.96 L8.86,-8.91 L8.86,-7.86 L8.31,-6.81 L7.20,-5.24 L1.66,0.00 L9.42,0.00 M20.50,-11.00 L14.96,0.00 M12.74,-11.00 L20.50,-11.00 M24.38,-4.72 L34.35,-4.72 M38.78,-11.00 L38.78,0.00 M38.78,-11.00 L45.98,-11.00 M38.78,-5.76 L43.21,-5.76 M48.20,-4.19 L54.85,-4.19 L54.85,-5.24 L54.29,-6.29 L53.74,-6.81 L52.63,-7.34 L50.97,-7.34 L49.86,-6.81 L48.75,-5.76 L48.20,-4.19 L48.20,-3.14 L48.75,-1.57 L49.86,-0.52 L50.97,0.00 L52.63,0.00 L53.74,-0.52 L54.85,-1.57 M58.72,-11.00 L58.72,0.00 M58.72,-5.76 L59.83,-6.81 L60.94,-7.34 L62.60,-7.34 L63.71,-6.81 L64.82,-5.76 L65.37,-4.19 L65.37,-3.14 L64.82,-1.57 L63.71,-0.52 L62.60,0.00 L60.94,0.00 L59.83,-0.52 L58.72,-1.57" fill="none" stroke="#000" stroke-width="1.01" stroke-linecap="square" shape-rendering="crispEdges"/>
<path transform="translate(1186.3,1001.5) rotate(-57.78)" d="M-62.60,-11.00 L-64.26,-10.48 L-65.37,-8.91 L-65.93,-6.29 L-65.93,-4.72 L-65.37,-2.10 L-64.26,-0.52 L-62.60,0.00 L-61.49,0.00 L-59.83,-0.52 L-58.72,-2.10 L-58.17,-4.72 L-58.17,-6.29 L-58.72,-8.91 L-59.83,-10.48 L-61.49,-11.00 L-62.60,-11.00 M-53.18,-8.91 L-52.08,-9.43 L-50.41,-11.00 L-50.41,0.00 M-43.21,-4.72 L-33.24,-4.72 M-28.81,-11.00 L-28.81,0.00 M-28.81,-11.00 L-24.38,0.00 M-19.94,-11.00 L-24.38,0.00 M-19.94,-11.00 L-19.94,0.00 M-9.42,-7.34 L-9.42,0.00 M-9.42,-5.76 L-10.53,-6.81 L-11.63,-7.34 L-13.30,-7.34 L-14.40,-6.81 L-15.51,-5.76 L-16.07,-4.19 L-16.07,-3.14 L-15.51,-1.57 L-14.40,-0.52 L-13.30,0.00 L-11.63,0.00 L-10.53,-0.52 L-9.42,-1.57 M-4.99,-7.34 L-4.99,0.00 M-4.99,-4.19 L-4.43,-5.76 L-3.32,-6.81 L-2.22,-7.34 L-0.55,-7.34" fill="none" stroke="#000" stroke-width="1.01" stroke-linecap="square" shape-rendering="crispEdges"/>
<path transform="translate(899.5,1262.4) rotate(-17.85)" d="M-62.60,-11.00 L-64.26,-10.48 L-65.37,-8.91 L-65.93,-6.29 L-65.93,-4.72 L-65.37,-2.10 L-64.26,-0.52 L-62.60,0.00 L-61.49,0.00 L-59.83,-0.52 L-58.72,-2.10 L-58.17,-4.72 L-58.17,-6.29 L-58.72,-8.91 L-59.83,-10.48 L-61.49,-11.00 L-62.60,-11.00 M-49.31,-11.00 L-54.85,-3.67 L-46.54,-3.67 M-49.31,-11.00 L-49.31,0.00 M-43.21,-4.72 L-33.24,-4.72 M-28.81,-11.00 L-28.81,0.00 M-28.81,-11.00 L-24.38,0.00 M-19.94,-11.00 L-24.38,0.00 M-19.94,-11.00 L-19.94,0.00 M-9.42,-7.34 L-9.42,0.00 M-9.42,-5.76 L-10.53,-6.81 L-11.63,-7.34 L-13.30,-7.34 L-14.40,-6.81 L-15.51,-5.76 L-16.07,-4.19 L-16.07,-3.14 L-15.51,-1.57 L-14.40,-0.52 L-13.30,0.00 L-11.63,0.00 L-10.53,-0.52 L-9.42,-1.57 M-4.99,-7.34 L-4.99,0.00 M-4.99,-4.19 L-4.43,-5.76 L-3.32,-6.81 L-2.22,-7.34 L-0.55,-7.34" fill="none" stroke="#000" stroke-width="1.01" stroke-linecap="square" shape-rendering="crispEdges"/>
<path transform="translate(506.9,1278.1) rotate(22.09)" d="M-62.60,-11.00 L-64.26,-10.48 L-65.37,-8.91 L-65.93,-6.29 L-65.93,-4.72 L-65.37,-2.10 L-64.26,-0.52 L-62.60,0.00 L-61.49,0.00 L-59.83,-0.52 L-58.72,-2.10 L-58.17,-4.72 L-58.17,-6.29 L-58.72,-8.91 L-59.83,-10.48 L-61.49,-11.00 L-62.60,-11.00 M-47.09,-11.00 L-52.63,0.00 M-54.85,-11.00 L-47.09,-11.00 M-43.21,-4.72 L-33.24,-4.72 M-28.81,-11.00 L-28.81,0.00 M-28.81,-11.00 L-24.38,0.00 M-19.94,-11.00 L-24.38,0.00 M-19.94,-11.00 L-19.94,0.00 M-9.42,-7.34 L-9.42,0.00 M-9.42,-5.76 L-10.53,-6.81 L-11.63,-7.34 L-13.30,-7.34 L-14.40,-6.81 L-15.51,-5.76 L-16.07,-4.19 L-16.07,-3.14 L-15.51,-1.57 L-14.40,-0.52 L-13.30,0.00 L-11.63,0.00 L-10.53,-0.52 L-9.42,-1.57 M-4.99,-7.34 L-4.99,0.00 M-4.99,-4.19 L-4.43,-5.76 L-3.32,-6.81 L-2.22,-7.34 L-0.55,-7.34" fill="none" stroke="#000" stroke-width="1.01" stroke-linecap="square" shape-rendering="crispEdges"/>
<path transform="translate(191.9,1034.7) rotate(62.03)" d="M-64.26,-8.91 L-63.16,-9.43 L-61.49,-11.00 L-61.49,0.00 M-51.52,-11.00 L-53.18,-10.48 L-54.29,-8.91 L-54.85,-6.29 L-54.85,-4.72 L-54.29,-2.10 L-53.18,-0.52 L-51.52,0.00 L-50.41,0.00 L-48.75,-0.52 L-47.64,-2.10 L-47.09,-4.72 L-47.09,-6.29 L-47.64,-8.91 L-48.75,-10.48 L-50.41,-11.00 L-51.52,-11.00 M-43.21,-4.72 L-33.24,-4.72 M-28.81,-11.00 L-28.81,0.00 M-28.81,-11.00 L-24.38,0.00 M-19.94,-11.00 L-24.38,0.00 M-19.94,-11.00 L-19.94,0.00 M-9.42,-7.34 L-9.42,0.00 M-9.42,-5.76 L-10.53,-6.81 L-11.63,-7.34 L-13.30,-7.34 L-14.40,-6.81 L-15.51,-5.76 L-16.07,-4.19 L-16.07,-3.14 L-15.51,-1.57 L-14.40,-0.52 L-13.30,0.00 L-11.63,0.00 L-10.53,-0.52 L-9.42,-1.57 M-4.99,-7.34 L-4.99,0.00 M-4.99,-4.19 L-4.43,-5.76 L-3.32,-6.81 L-2.22,-7.34 L-0.55,-7.34" fill="none" stroke="#000" stroke-width="1.01" stroke-linecap="square" shape-rendering="crispEdges"/>
<path transform="translate(114.5,641.7) rotate(-77.96)" d="M3.32,-8.91 L4.43,-9.43 L6.09,-11.00 L6.09,0.00 M13.85,-11.00 L19.94,-11.00 L16.62,-6.81 L18.28,-6.81 L19.39,-6.29 L19.94,-5.76 L20.50,-4.19 L20.50,-3.14 L19.94,-1.57 L18.84,-0.52 L17.17,0.00 L15.51,0.00 L13.85,-0.52 L13.30,-1.05 L12.74,-2.10 M24.38,-4.72 L34.35,-4.72 M38.78,-11.00 L38.78,0.00 M38.78,-11.00 L43.21,0.00 M47.64,-11.00 L43.21,0.00 M47.64,-11.00 L47.64,0.00 M58.17,-7.34 L58.17,0.00 M58.17,-5.76 L57.06,-6.81 L55.95,-7.34 L54.29,-7.34 L53.18,-6.81 L52.08,-5.76 L51.52,-4.19 L51.52,-3.14 L52.08,-1.57 L53.18,-0.52 L54.29,0.00 L55.95,0.00 L57.06,-0.52 L58.17,-1.57 M62.60,-7.34 L62.60,0.00 M62.60,-4.19 L63.16,-5.76 L64.26,-6.81 L65.37,-7.34 L67.03,-7.34" fill="none" stroke="#000" stroke-width="1.01" stroke-linecap="square" shape-rendering="crispEdges"/>
<path transform="translate(69.3,27.5)" d="M2.06,-10.81 L2.06,0.00 M2.06,-10.81 L9.27,0.00 M9.27,-10.81 L9.27,0.00 M12.88,-4.12 L19.05,-4.12 L19.05,-5.15 L18.54,-6.18 L18.02,-6.70 L17.00,-7.21 L15.45,-7.21 L14.42,-6.70 L13.39,-5.67 L12.88,-4.12 L12.88,-3.09 L13.39,-1.54 L14.42,-0.52 L15.45,0.00 L17.00,0.00 L18.02,-0.52 L19.05,-1.54 M22.15,-7.21 L24.21,0.00 M26.27,-7.21 L24.21,0.00 M26.27,-7.21 L28.33,0.00 M30.39,-7.21 L28.33,0.00 M42.23,-10.81 L42.23,0.00 M42.23,-10.81 L46.35,0.00 M50.47,-10.81 L46.35,0.00 M50.47,-10.81 L50.47,0.00 M56.65,-7.21 L55.62,-6.70 L54.59,-5.67 L54.08,-4.12 L54.08,-3.09 L54.59,-1.54 L55.62,-0.52 L56.65,0.00 L58.20,0.00 L59.23,-0.52 L60.26,-1.54 L60.77,-3.09 L60.77,-4.12 L60.26,-5.67 L59.23,-6.70 L58.20,-7.21 L56.65,-7.21 M66.44,-7.21 L65.41,-6.70 L64.38,-5.67 L63.86,-4.12 L63.86,-3.09 L64.38,-1.54 L65.41,-0.52 L66.44,0.00 L67.98,0.00 L69.01,-0.52 L70.04,-1.54 L70.55,-3.09 L70.55,-4.12 L70.04,-5.67 L69.01,-6.70 L67.98,-7.21 L66.44,-7.21 M74.16,-7.21 L74.16,0.00 M74.16,-5.15 L75.70,-6.70 L76.73,-7.21 L78.28,-7.21 L79.31,-6.70 L79.82,-5.15 L79.82,0.00" fill="none" stroke="#000" stroke-width="1.01" stroke-linecap="square" shape-rendering="crispEdges"/>
<path transform="translate(69.3,83.3)" d="M2.06,-10.81 L2.06,0.00 M2.06,-10.81 L8.76,-10.81 M2.06,-5.67 L6.18,-5.67 M11.33,-7.21 L11.33,-2.06 L11.84,-0.52 L12.88,0.00 L14.42,0.00 L15.45,-0.52 L17.00,-2.06 M17.00,-7.21 L17.00,0.00 M21.11,-10.81 L21.11,0.00 M25.23,-10.81 L25.23,0.00 M37.60,-10.81 L37.60,0.00 M37.60,-10.81 L41.72,0.00 M45.84,-10.81 L41.72,0.00 M45.84,-10.81 L45.84,0.00 M52.02,-7.21 L50.98,-6.70 L49.96,-5.67 L49.44,-4.12 L49.44,-3.09 L49.96,-1.54 L50.98,-0.52 L52.02,0.00 L53.56,0.00 L54.59,-0.52 L55.62,-1.54 L56.14,-3.09 L56.14,-4.12 L55.62,-5.67 L54.59,-6.70 L53.56,-7.21 L52.02,-7.21 M61.80,-7.21 L60.77,-6.70 L59.74,-5.67 L59.23,-4.12 L59.23,-3.09 L59.74,-1.54 L60.77,-0.52 L61.80,0.00 L63.35,0.00 L64.38,-0.52 L65.41,-1.54 L65.92,-3.09 L65.92,-4.12 L65.41,-5.67 L64.38,-6.70 L63.35,-7.21 L61.80,-7.21 M69.53,-7.21 L69.53,0.00 M69.53,-5.15 L71.07,-6.70 L72.10,-7.21 L73.65,-7.21 L74.67,-6.70 L75.19,-5.15 L75.19,0.00" fill="none" stroke="#000" stroke-width="1.01" stroke-linecap="square" shape-rendering="crispEdges"/>
<path transform="translate(1394.5,37.5)" d="M-127.21,-10.81 L-127.21,0.00 M-127.21,-10.81 L-122.57,-10.81 L-121.03,-10.30 L-120.51,-9.79 L-120.00,-8.76 L-120.00,-7.21 L-120.51,-6.18 L-121.03,-5.67 L-122.57,-5.15 L-127.21,-5.15 M-116.91,-4.12 L-110.73,-4.12 L-110.73,-5.15 L-111.24,-6.18 L-111.76,-6.70 L-112.79,-7.21 L-114.33,-7.21 L-115.36,-6.70 L-116.39,-5.67 L-116.91,-4.12 L-116.91,-3.09 L-116.39,-1.54 L-115.36,-0.52 L-114.33,0.00 L-112.79,0.00 L-111.76,-0.52 L-110.73,-1.54 M-107.12,-7.21 L-107.12,0.00 M-107.12,-4.12 L-106.61,-5.67 L-105.58,-6.70 L-104.55,-7.21 L-103.00,-7.21 M-100.94,-10.81 L-100.43,-10.30 L-99.91,-10.81 L-100.43,-11.33 L-100.94,-10.81 M-100.43,-7.21 L-100.43,0.00 M-94.25,-7.21 L-95.28,-6.70 L-96.31,-5.67 L-96.82,-4.12 L-96.82,-3.09 L-96.31,-1.54 L-95.28,-0.52 L-94.25,0.00 L-92.70,0.00 L-91.67,-0.52 L-90.64,-1.54 L-90.13,-3.09 L-90.13,-4.12 L-90.64,-5.67 L-91.67,-6.70 L-92.70,-7.21 L-94.25,-7.21 M-80.86,-10.81 L-80.86,0.00 M-80.86,-5.67 L-81.89,-6.70 L-82.92,-7.21 L-84.46,-7.21 L-85.49,-6.70 L-86.52,-5.67 L-87.04,-4.12 L-87.04,-3.09 L-86.52,-1.54 L-85.49,-0.52 L-84.46,0.00 L-82.92,0.00 L-81.89,-0.52 L-80.86,-1.54 M-76.22,-7.21 L-76.74,-6.70 L-76.22,-6.18 L-75.71,-6.70 L-76.22,-7.21 M-76.22,-1.03 L-76.74,-0.52 L-76.22,0.00 L-75.71,-0.52 L-76.22,-1.03 M-63.35,-8.24 L-63.35,-8.76 L-62.83,-9.79 L-62.32,-10.30 L-61.29,-10.81 L-59.23,-10.81 L-58.20,-10.30 L-57.68,-9.79 L-57.17,-8.76 L-57.17,-7.73 L-57.68,-6.70 L-58.71,-5.15 L-63.86,0.00 L-56.65,0.00 M-46.35,-10.81 L-51.50,0.00 M-53.56,-10.81 L-46.35,-10.81 M-28.84,-10.81 L-28.84,0.00 M-28.84,-5.67 L-29.87,-6.70 L-30.90,-7.21 L-32.45,-7.21 L-33.48,-6.70 L-34.51,-5.67 L-35.02,-4.12 L-35.02,-3.09 L-34.51,-1.54 L-33.48,-0.52 L-32.45,0.00 L-30.90,0.00 L-29.87,-0.52 L-28.84,-1.54 M-19.06,-7.21 L-19.06,0.00 M-19.06,-5.67 L-20.09,-6.70 L-21.12,-7.21 L-22.66,-7.21 L-23.69,-6.70 L-24.72,-5.67 L-25.24,-4.12 L-25.24,-3.09 L-24.72,-1.54 L-23.69,-0.52 L-22.66,0.00 L-21.12,0.00 L-20.09,-0.52 L-19.06,-1.54 M-15.97,-7.21 L-12.88,0.00 M-9.79,-7.21 L-12.88,0.00 L-13.91,2.06 L-14.94,3.09 L-15.97,3.60 L-16.48,3.60 M-1.55,-5.67 L-2.06,-6.70 L-3.61,-7.21 L-5.15,-7.21 L-6.70,-6.70 L-7.21,-5.67 L-6.70,-4.63 L-5.67,-4.12 L-3.09,-3.60 L-2.06,-3.09 L-1.55,-2.06 L-1.55,-1.54 L-2.06,-0.52 L-3.61,0.00 L-5.15,0.00 L-6.70,-0.52 L-7.21,-1.54" fill="none" stroke="#000" stroke-width="1.01" stroke-linecap="square" shape-rendering="crispEdges"/>
<path transform="translate(3.5,1394.3)" d="M9.27,-8.24 L8.76,-9.27 L7.73,-10.30 L6.70,-10.81 L4.63,-10.81 L3.60,-10.30 L2.58,-9.27 L2.06,-8.24 L1.54,-6.70 L1.54,-4.12 L2.06,-2.58 L2.58,-1.54 L3.60,-0.52 L4.63,0.00 L6.70,0.00 L7.73,-0.52 L8.76,-1.54 L9.27,-2.58 L9.27,-4.12 M6.70,-4.12 L9.27,-4.12 M12.88,-10.81 L12.88,0.00 M16.99,-4.63 L26.27,-4.63 M30.38,-10.81 L30.38,-3.09 L30.90,-1.54 L31.93,-0.52 L33.48,0.00 L34.50,0.00 L36.05,-0.52 L37.08,-1.54 L37.59,-3.09 L37.59,-10.81 M44.29,-10.81 L40.17,0.00 M44.29,-10.81 L48.41,0.00 M41.72,-3.60 L46.87,-3.60 M50.98,-10.81 L50.98,0.00 M50.98,-10.81 L57.68,-10.81 M50.98,-5.67 L55.10,-5.67 M68.49,-8.24 L68.49,-8.76 L69.01,-9.79 L69.52,-10.30 L70.55,-10.81 L72.61,-10.81 L73.64,-10.30 L74.16,-9.79 L74.67,-8.76 L74.67,-7.73 L74.16,-6.70 L73.13,-5.15 L67.98,0.00 L75.19,0.00 M81.37,-10.81 L79.82,-10.30 L78.79,-8.76 L78.28,-6.18 L78.28,-4.63 L78.79,-2.06 L79.82,-0.52 L81.37,0.00 L82.40,0.00 L83.94,-0.52 L84.97,-2.06 L85.49,-4.63 L85.49,-6.18 L84.97,-8.76 L83.94,-10.30 L82.40,-10.81 L81.37,-10.81 M89.09,-8.24 L89.09,-8.76 L89.61,-9.79 L90.12,-10.30 L91.15,-10.81 L93.21,-10.81 L94.24,-10.30 L94.76,-9.79 L95.27,-8.76 L95.27,-7.73 L94.76,-6.70 L93.73,-5.15 L88.58,0.00 L95.79,0.00 M104.03,-10.81 L98.88,-3.60 L106.60,-3.60 M104.03,-10.81 L104.03,0.00" fill="none" stroke="#000" stroke-width="1.01" stroke-linecap="square" shape-rendering="crispEdges"/>
<path transform="translate(1394.2,1394.3)" d="M-312.82,-8.24 L-313.33,-9.27 L-314.34,-10.30 L-315.35,-10.81 L-317.38,-10.81 L-318.40,-10.30 L-319.41,-9.27 L-319.92,-8.24 L-320.42,-6.70 L-320.42,-4.12 L-319.92,-2.58 L-319.41,-1.54 L-318.40,-0.52 L-317.38,0.00 L-315.35,0.00 L-314.34,-0.52 L-313.33,-1.54 L-312.82,-2.58 M-307.24,-7.21 L-308.26,-6.70 L-309.27,-5.67 L-309.78,-4.12 L-309.78,-3.09 L-309.27,-1.54 L-308.26,-0.52 L-307.24,0.00 L-305.72,0.00 L-304.71,-0.52 L-303.69,-1.54 L-303.19,-3.09 L-303.19,-4.12 L-303.69,-5.67 L-304.71,-6.70 L-305.72,-7.21 L-307.24,-7.21 M-299.64,-7.21 L-299.64,0.00 M-299.64,-5.15 L-298.12,-6.70 L-297.10,-7.21 L-295.58,-7.21 L-294.57,-6.70 L-294.06,-5.15 L-294.06,0.00 M-284.43,-10.81 L-284.43,0.00 M-284.43,-5.67 L-285.44,-6.70 L-286.46,-7.21 L-287.98,-7.21 L-288.99,-6.70 L-290.00,-5.67 L-290.51,-4.12 L-290.51,-3.09 L-290.00,-1.54 L-288.99,-0.52 L-287.98,0.00 L-286.46,0.00 L-285.44,-0.52 L-284.43,-1.54 M-280.88,-4.12 L-274.79,-4.12 L-274.79,-5.15 L-275.30,-6.18 L-275.81,-6.70 L-276.82,-7.21 L-278.34,-7.21 L-279.36,-6.70 L-280.37,-5.67 L-280.88,-4.12 L-280.88,-3.09 L-280.37,-1.54 L-279.36,-0.52 L-278.34,0.00 L-276.82,0.00 L-275.81,-0.52 L-274.79,-1.54 M-265.67,-7.21 L-265.67,1.03 L-266.18,2.58 L-266.68,3.09 L-267.70,3.60 L-269.22,3.60 L-270.23,3.09 M-265.67,-5.67 L-266.68,-6.70 L-267.70,-7.21 L-269.22,-7.21 L-270.23,-6.70 L-271.25,-5.67 L-271.75,-4.12 L-271.75,-3.09 L-271.25,-1.54 L-270.23,-0.52 L-269.22,0.00 L-267.70,0.00 L-266.68,-0.52 L-265.67,-1.54 M-261.61,-7.21 L-261.61,0.00 M-261.61,-4.12 L-261.11,-5.67 L-260.09,-6.70 L-259.08,-7.21 L-257.56,-7.21 M-249.44,-7.21 L-249.44,0.00 M-249.44,-5.67 L-250.46,-6.70 L-251.47,-7.21 L-252.99,-7.21 L-254.01,-6.70 L-255.02,-5.67 L-255.53,-4.12 L-255.53,-3.09 L-255.02,-1.54 L-254.01,-0.52 L-252.99,0.00 L-251.47,0.00 L-250.46,-0.52 L-249.44,-1.54 M-245.39,-7.21 L-245.39,0.00 M-245.39,-5.15 L-243.87,-6.70 L-242.85,-7.21 L-241.33,-7.21 L-240.32,-6.70 L-239.81,-5.15 L-239.81,0.00 M-239.81,-5.15 L-238.29,-6.70 L-237.28,-7.21 L-235.76,-7.21 L-234.74,-6.70 L-234.23,-5.15 L-234.23,0.00 M-222.07,-7.21 L-222.07,3.60 M-222.07,-5.67 L-221.05,-6.70 L-220.04,-7.21 L-218.52,-7.21 L-217.50,-6.70 L-216.49,-5.67 L-215.98,-4.12 L-215.98,-3.09 L-216.49,-1.54 L-217.50,-0.52 L-218.52,0.00 L-220.04,0.00 L-221.05,-0.52 L-222.07,-1.54 M-212.43,-10.81 L-212.43,0.00 M-206.35,-7.21 L-207.36,-6.70 L-208.38,-5.67 L-208.88,-4.12 L-208.88,-3.09 L-208.38,-1.54 L-207.36,-0.52 L-206.35,0.00 L-204.83,0.00 L-203.81,-0.52 L-202.80,-1.54 L-202.29,-3.09 L-202.29,-4.12 L-202.80,-5.67 L-203.81,-6.70 L-204.83,-7.21 L-206.35,-7.21 M-198.24,-10.81 L-198.24,-2.06 L-197.73,-0.52 L-196.72,0.00 L-195.70,0.00 M-199.76,-7.21 L-196.21,-7.21 M-192.15,-10.81 L-192.15,-2.06 L-191.65,-0.52 L-190.63,0.00 L-189.62,0.00 M-193.67,-7.21 L-190.13,-7.21 M-187.08,-4.12 L-181.00,-4.12 L-181.00,-5.15 L-181.51,-6.18 L-182.01,-6.70 L-183.03,-7.21 L-184.55,-7.21 L-185.56,-6.70 L-186.58,-5.67 L-187.08,-4.12 L-187.08,-3.09 L-186.58,-1.54 L-185.56,-0.52 L-184.55,0.00 L-183.03,0.00 L-182.01,-0.52 L-181.00,-1.54 M-171.87,-10.81 L-171.87,0.00 M-171.87,-5.67 L-172.89,-6.70 L-173.90,-7.21 L-175.42,-7.21 L-176.44,-6.70 L-177.45,-5.67 L-177.96,-4.12 L-177.96,-3.09 L-177.45,-1.54 L-176.44,-0.52 L-175.42,0.00 L-173.90,0.00 L-172.89,-0.52 L-171.87,-1.54 M-159.71,-10.81 L-159.71,0.00 M-159.71,-10.81 L-155.65,0.00 M-151.59,-10.81 L-155.65,0.00 M-151.59,-10.81 L-151.59,0.00 M-141.96,-7.21 L-141.96,0.00 M-141.96,-5.67 L-142.97,-6.70 L-143.99,-7.21 L-145.51,-7.21 L-146.52,-6.70 L-147.54,-5.67 L-148.04,-4.12 L-148.04,-3.09 L-147.54,-1.54 L-146.52,-0.52 L-145.51,0.00 L-143.99,0.00 L-142.97,-0.52 L-141.96,-1.54 M-137.90,-7.21 L-137.90,0.00 M-137.90,-4.12 L-137.40,-5.67 L-136.38,-6.70 L-135.37,-7.21 L-133.85,-7.21 M-122.19,-8.76 L-121.17,-9.27 L-119.65,-10.81 L-119.65,0.00 M-106.98,-7.21 L-107.48,-5.67 L-108.50,-4.63 L-110.02,-4.12 L-110.53,-4.12 L-112.05,-4.63 L-113.06,-5.67 L-113.57,-7.21 L-113.57,-7.73 L-113.06,-9.27 L-112.05,-10.30 L-110.53,-10.81 L-110.02,-10.81 L-108.50,-10.30 L-107.48,-9.27 L-106.98,-7.21 L-106.98,-4.63 L-107.48,-2.06 L-108.50,-0.52 L-110.02,0.00 L-111.03,0.00 L-112.55,-0.52 L-113.06,-1.54 M-89.23,-7.21 L-89.23,0.00 M-89.23,-5.67 L-90.25,-6.70 L-91.26,-7.21 L-92.78,-7.21 L-93.80,-6.70 L-94.81,-5.67 L-95.32,-4.12 L-95.32,-3.09 L-94.81,-1.54 L-93.80,-0.52 L-92.78,0.00 L-91.26,0.00 L-90.25,-0.52 L-89.23,-1.54 M-84.67,-10.81 L-84.67,-2.06 L-84.16,-0.52 L-83.15,0.00 L-82.13,0.00 M-86.19,-7.21 L-82.64,-7.21 M-68.45,-10.81 L-69.97,-10.30 L-70.98,-8.76 L-71.49,-6.18 L-71.49,-4.63 L-70.98,-2.06 L-69.97,-0.52 L-68.45,0.00 L-67.43,0.00 L-65.91,-0.52 L-64.90,-2.06 L-64.39,-4.63 L-64.39,-6.18 L-64.90,-8.76 L-65.91,-10.30 L-67.43,-10.81 L-68.45,-10.81 M-56.28,-10.81 L-61.35,-3.60 L-53.74,-3.60 M-56.28,-10.81 L-56.28,0.00 M-50.19,-7.21 L-50.70,-6.70 L-50.19,-6.18 L-49.69,-6.70 L-50.19,-7.21 M-50.19,-1.03 L-50.70,-0.52 L-50.19,0.00 L-49.69,-0.52 L-50.19,-1.03 M-43.10,-10.81 L-44.62,-10.30 L-45.63,-8.76 L-46.14,-6.18 L-46.14,-4.63 L-45.63,-2.06 L-44.62,-0.52 L-43.10,0.00 L-42.08,0.00 L-40.56,-0.52 L-39.55,-2.06 L-39.04,-4.63 L-39.04,-6.18 L-39.55,-8.76 L-40.56,-10.30 L-42.08,-10.81 L-43.10,-10.81 M-34.48,-8.76 L-33.46,-9.27 L-31.94,-10.81 L-31.94,0.00 M-17.24,-10.81 L-17.24,-3.09 L-16.73,-1.54 L-15.72,-0.52 L-14.20,0.00 L-13.18,0.00 L-11.66,-0.52 L-10.65,-1.54 L-10.14,-3.09 L-10.14,-10.81 M-4.06,-10.81 L-4.06,0.00 M-7.61,-10.81 L-0.51,-10.81" fill="none" stroke="#000" stroke-width="1.01" stroke-linecap="square" shape-rendering="crispEdges"/>
<path transform="translate(700.5,49.5)" d="M1.80,-7.20 L1.80,-7.65 L2.25,-8.55 L2.70,-9.00 L3.60,-9.45 L5.40,-9.45 L6.30,-9.00 L6.75,-8.55 L7.20,-7.65 L7.20,-6.75 L6.75,-5.85 L5.85,-4.50 L1.35,0.00 L7.65,0.00 M15.75,-9.45 L11.25,-9.45 L10.80,-5.40 L11.25,-5.85 L12.60,-6.30 L13.95,-6.30 L15.30,-5.85 L16.20,-4.95 L16.65,-3.60 L16.65,-2.70 L16.20,-1.35 L15.30,-0.45 L13.95,0.00 L12.60,0.00 L11.25,-0.45 L10.80,-0.90 L10.35,-1.80 M22.05,-9.45 L20.70,-9.00 L19.80,-7.65 L19.35,-5.40 L19.35,-4.05 L19.80,-1.80 L20.70,-0.45 L22.05,0.00 L22.95,0.00 L24.30,-0.45 L25.20,-1.80 L25.65,-4.05 L25.65,-5.40 L25.20,-7.65 L24.30,-9.00 L22.95,-9.45 L22.05,-9.45" fill="none" stroke="#000" stroke-width="2.0" stroke-linecap="square" shape-rendering="crispEdges"/>
<path transform="translate(700.5,71.0)" d="M2.70,-7.65 L3.60,-8.10 L4.95,-9.45 L4.95,0.00 M16.20,-6.30 L15.75,-4.95 L14.85,-4.05 L13.50,-3.60 L13.05,-3.60 L11.70,-4.05 L10.80,-4.95 L10.35,-6.30 L10.35,-6.75 L10.80,-8.10 L11.70,-9.00 L13.05,-9.45 L13.50,-9.45 L14.85,-9.00 L15.75,-8.10 L16.20,-6.30 L16.20,-4.05 L15.75,-1.80 L14.85,-0.45 L13.50,0.00 L12.60,0.00 L11.25,-0.45 L10.80,-1.35 M22.05,-9.45 L20.70,-9.00 L19.80,-7.65 L19.35,-5.40 L19.35,-4.05 L19.80,-1.80 L20.70,-0.45 L22.05,0.00 L22.95,0.00 L24.30,-0.45 L25.20,-1.80 L25.65,-4.05 L25.65,-5.40 L25.20,-7.65 L24.30,-9.00 L22.95,-9.45 L22.05,-9.45" fill="none" stroke="#000" stroke-width="2.0" stroke-linecap="square" shape-rendering="crispEdges"/>
<path transform="translate(700.5,94.0)" d="M2.70,-7.65 L3.60,-8.10 L4.95,-9.45 L4.95,0.00 M11.25,-9.45 L16.20,-9.45 L13.50,-5.85 L14.85,-5.85 L15.75,-5.40 L16.20,-4.95 L16.65,-3.60 L16.65,-2.70 L16.20,-1.35 L15.30,-0.45 L13.95,0.00 L12.60,0.00 L11.25,-0.45 L10.80,-0.90 L10.35,-1.80 M22.05,-9.45 L20.70,-9.00 L19.80,-7.65 L19.35,-5.40 L19.35,-4.05 L19.80,-1.80 L20.70,-0.45 L22.05,0.00 L22.95,0.00 L24.30,-0.45 L25.20,-1.80 L25.65,-4.05 L25.65,-5.40 L25.20,-7.65 L24.30,-9.00 L22.95,-9.45 L22.05,-9.45" fill="none" stroke="#000" stroke-width="2.0" stroke-linecap="square" shape-rendering="crispEdges"/>
<path transform="translate(716.5,579.8)" d="M2.57,-10.29 L2.57,-10.93 L3.21,-12.22 L3.86,-12.86 L5.14,-13.50 L7.72,-13.50 L9.00,-12.86 L9.64,-12.22 L10.29,-10.93 L10.29,-9.64 L9.64,-8.36 L8.36,-6.43 L1.93,0.00 L10.93,0.00 M22.50,-13.50 L16.07,-13.50 L15.43,-7.72 L16.07,-8.36 L18.00,-9.00 L19.93,-9.00 L21.86,-8.36 L23.15,-7.07 L23.79,-5.14 L23.79,-3.86 L23.15,-1.93 L21.86,-0.64 L19.93,0.00 L18.00,0.00 L16.07,-0.64 L15.43,-1.29 L14.79,-2.57 M31.51,-13.50 L29.58,-12.86 L28.29,-10.93 L27.65,-7.72 L27.65,-5.79 L28.29,-2.57 L29.58,-0.64 L31.51,0.00 L32.79,0.00 L34.72,-0.64 L36.01,-2.57 L36.65,-5.79 L36.65,-7.72 L36.01,-10.93 L34.72,-12.86 L32.79,-13.50 L31.51,-13.50 M57.87,-7.07 L57.23,-8.36 L55.30,-9.00 L53.37,-9.00 L51.44,-8.36 L50.80,-7.07 L51.44,-5.79 L52.73,-5.14 L55.94,-4.50 L57.23,-3.86 L57.87,-2.57 L57.87,-1.93 L57.23,-0.64 L55.30,0.00 L53.37,0.00 L51.44,-0.64 L50.80,-1.93 M66.23,-13.50 L64.94,-13.50 L63.66,-12.86 L63.01,-10.93 L63.01,0.00 M61.08,-9.00 L65.59,-9.00 M70.09,-9.00 L70.09,-2.57 L70.73,-0.64 L72.02,0.00 L73.94,0.00 L75.23,-0.64 L77.16,-2.57 M77.16,-9.00 L77.16,0.00" fill="none" stroke="#000" stroke-width="1.01" stroke-linecap="square" shape-rendering="crispEdges"/>
<path transform="translate(716.5,647.3)" d="M10.93,-13.50 L4.50,0.00 M1.93,-13.50 L10.93,-13.50 M18.65,-13.50 L16.72,-12.86 L15.43,-10.93 L14.79,-7.72 L14.79,-5.79 L15.43,-2.57 L16.72,-0.64 L18.65,0.00 L19.93,0.00 L21.86,-0.64 L23.15,-2.57 L23.79,-5.79 L23.79,-7.72 L23.15,-10.93 L21.86,-12.86 L19.93,-13.50 L18.65,-13.50 M45.01,-7.07 L44.37,-8.36 L42.44,-9.00 L40.51,-9.00 L38.58,-8.36 L37.94,-7.07 L38.58,-5.79 L39.87,-5.14 L43.08,-4.50 L44.37,-3.86 L45.01,-2.57 L45.01,-1.93 L44.37,-0.64 L42.44,0.00 L40.51,0.00 L38.58,-0.64 L37.94,-1.93 M53.37,-13.50 L52.08,-13.50 L50.80,-12.86 L50.15,-10.93 L50.15,0.00 M48.22,-9.00 L52.73,-9.00 M57.23,-9.00 L57.23,-2.57 L57.87,-0.64 L59.16,0.00 L61.08,0.00 L62.37,-0.64 L64.30,-2.57 M64.30,-9.00 L64.30,0.00" fill="none" stroke="#000" stroke-width="1.01" stroke-linecap="square" shape-rendering="crispEdges"/>
<path transform="translate(694.3,726.5)" d="M-125.44,-17.34 L-131.06,0.00 M-123.19,-21.42 L-129.94,0.00 M-123.19,-21.42 L-126.56,-18.36 L-129.94,-16.32 L-132.19,-15.30 M-124.31,-18.36 L-128.81,-16.32 L-132.19,-15.30 M-101.81,-21.42 L-105.19,-20.40 L-107.44,-18.36 L-109.69,-15.30 L-110.81,-12.24 L-111.94,-8.16 L-111.94,-5.10 L-110.81,-2.04 L-109.69,-1.02 L-107.44,0.00 L-105.19,0.00 L-101.81,-1.02 L-99.56,-3.06 L-97.31,-6.12 L-96.19,-9.18 L-95.06,-13.26 L-95.06,-16.32 L-96.19,-19.38 L-97.31,-20.40 L-99.56,-21.42 L-101.81,-21.42 M-101.81,-21.42 L-104.06,-20.40 L-106.31,-18.36 L-108.56,-15.30 L-109.69,-12.24 L-110.81,-8.16 L-110.81,-5.10 L-109.69,-2.04 L-107.44,0.00 M-105.19,0.00 L-102.94,-1.02 L-100.69,-3.06 L-98.44,-6.12 L-97.31,-9.18 L-96.19,-13.26 L-96.19,-16.32 L-97.31,-19.38 L-99.56,-21.42 M-86.06,-2.04 L-87.19,-1.02 L-86.06,0.00 L-84.94,-1.02 L-86.06,-2.04 M-73.69,-21.42 L-75.94,-15.30 M-59.06,-21.42 L-60.19,-18.36 L-62.44,-15.30 L-68.06,-9.18 L-70.31,-6.12 L-71.44,-4.08 L-72.56,0.00 M-62.44,-15.30 L-69.19,-9.18 L-71.44,-6.12 L-72.56,-4.08 L-73.69,0.00 M-74.81,-18.36 L-71.44,-21.42 L-69.19,-21.42 L-63.56,-18.36 M-73.69,-19.38 L-71.44,-20.40 L-69.19,-20.40 L-63.56,-18.36 L-61.31,-18.36 L-60.19,-19.38 L-59.06,-21.42 M-23.06,-11.22 L-23.06,-10.20 L-21.94,-10.20 L-21.94,-11.22 L-23.06,-13.26 L-25.31,-14.28 L-28.69,-14.28 L-32.06,-13.26 L-34.31,-10.20 L-35.44,-7.14 L-35.44,-4.08 L-34.31,-2.04 L-33.19,-1.02 L-30.94,0.00 L-28.69,0.00 L-25.31,-1.02 L-23.06,-4.08 M-28.69,-14.28 L-30.94,-13.26 L-33.19,-10.20 L-34.31,-7.14 L-34.31,-3.06 L-33.19,-1.02 M-17.44,-10.20 L-16.31,-12.24 L-14.06,-14.28 L-10.69,-14.28 L-9.56,-13.26 L-9.56,-11.22 L-10.69,-7.14 L-12.94,0.00 M-11.81,-14.28 L-10.69,-13.26 L-10.69,-11.22 L-11.81,-7.14 L-14.06,0.00 M-10.69,-7.14 L-8.44,-11.22 L-6.19,-13.26 L-3.94,-14.28 L-1.69,-14.28 L0.56,-13.26 L1.69,-12.24 L1.69,-10.20 L-1.69,0.00 M-1.69,-14.28 L0.56,-12.24 L0.56,-10.20 L-2.81,0.00 M0.56,-7.14 L2.81,-11.22 L5.06,-13.26 L7.31,-14.28 L9.56,-14.28 L11.81,-13.26 L12.94,-12.24 L12.94,-10.20 L10.69,-4.08 L10.69,-1.02 L11.81,0.00 M9.56,-14.28 L11.81,-12.24 L11.81,-10.20 L9.56,-4.08 L9.56,-1.02 L10.69,0.00 L14.06,0.00 L16.31,-2.04 L17.44,-4.08 M57.94,-19.38 L59.06,-19.38 L60.19,-21.42 L59.06,-15.30 L59.06,-17.34 L57.94,-19.38 L56.81,-20.40 L53.44,-21.42 L48.94,-21.42 L45.56,-20.40 L43.31,-18.36 L43.31,-16.32 L44.44,-14.28 L45.56,-13.26 L53.44,-9.18 L55.69,-7.14 M43.31,-16.32 L45.56,-14.28 L53.44,-10.20 L54.56,-9.18 L55.69,-7.14 L55.69,-4.08 L54.56,-2.04 L53.44,-1.02 L50.06,0.00 L45.56,0.00 L42.19,-1.02 L41.06,-2.04 L39.94,-4.08 L39.94,-6.12 L38.81,0.00 L39.94,-2.04 L41.06,-2.04 M72.56,-14.28 L69.19,-13.26 L66.94,-10.20 L65.81,-7.14 L65.81,-4.08 L66.94,-2.04 L68.06,-1.02 L70.31,0.00 L72.56,0.00 L75.94,-1.02 L78.19,-4.08 L79.31,-7.14 L79.31,-10.20 L78.19,-12.24 L77.06,-13.26 L74.81,-14.28 L72.56,-14.28 M72.56,-14.28 L70.31,-13.26 L68.06,-10.20 L66.94,-7.14 L66.94,-3.06 L68.06,-1.02 M72.56,0.00 L74.81,-1.02 L77.06,-4.08 L78.19,-7.14 L78.19,-11.22 L77.06,-13.26 M91.69,-21.42 L87.19,-7.14 L86.06,-3.06 L86.06,-1.02 L87.19,0.00 L90.56,0.00 L92.81,-2.04 L93.94,-4.08 M92.81,-21.42 L88.31,-7.14 L87.19,-3.06 L87.19,-1.02 L88.31,0.00 M88.31,-21.42 L92.81,-21.42 M114.19,-14.28 L111.94,-7.14 L110.81,-3.06 L110.81,-1.02 L111.94,0.00 L115.31,0.00 L117.56,-2.04 L118.69,-4.08 M115.31,-14.28 L113.06,-7.14 L111.94,-3.06 L111.94,-1.02 L113.06,0.00 M111.94,-7.14 L111.94,-10.20 L110.81,-13.26 L108.56,-14.28 L106.31,-14.28 L102.94,-13.26 L100.69,-10.20 L99.56,-7.14 L99.56,-4.08 L100.69,-2.04 L101.81,-1.02 L104.06,0.00 L106.31,0.00 L108.56,-1.02 L110.81,-4.08 L111.94,-7.14 M106.31,-14.28 L104.06,-13.26 L101.81,-10.20 L100.69,-7.14 L100.69,-3.06 L101.81,-1.02 M120.94,-10.20 L122.06,-12.24 L124.31,-14.28 L127.69,-14.28 L128.81,-13.26 L128.81,-11.22 L127.69,-7.14 L125.44,0.00 M126.56,-14.28 L127.69,-13.26 L127.69,-11.22 L126.56,-7.14 L124.31,0.00 M127.69,-7.14 L129.94,-11.22 L132.19,-13.26 L134.44,-14.28 L136.69,-14.28 L137.81,-13.26 L137.81,-12.24 L136.69,-11.22 L135.56,-12.24 L136.69,-13.26" fill="none" stroke="#fa3030" stroke-width="2.0" stroke-linecap="square" shape-rendering="crispEdges"/>
<path transform="translate(692.8,758.0)" d="M-96.75,-21.42 L-103.50,0.00 M-95.62,-21.42 L-102.38,0.00 M-100.12,-21.42 L-87.75,-21.42 L-84.38,-20.40 L-83.25,-18.36 L-83.25,-16.32 L-84.38,-13.26 L-85.50,-12.24 L-88.88,-11.22 L-99.00,-11.22 M-87.75,-21.42 L-85.50,-20.40 L-84.38,-18.36 L-84.38,-16.32 L-85.50,-13.26 L-86.62,-12.24 L-88.88,-11.22 M-93.38,-11.22 L-91.12,-10.20 L-90.00,-9.18 L-88.88,-1.02 L-87.75,0.00 L-85.50,0.00 L-84.38,-2.04 L-84.38,-3.06 M-90.00,-9.18 L-87.75,-2.04 L-86.62,-1.02 L-85.50,-1.02 L-84.38,-2.04 M-106.88,0.00 L-99.00,0.00 M-61.88,-14.28 L-64.12,-7.14 L-65.25,-3.06 L-65.25,-1.02 L-64.12,0.00 L-60.75,0.00 L-58.50,-2.04 L-57.38,-4.08 M-60.75,-14.28 L-63.00,-7.14 L-64.12,-3.06 L-64.12,-1.02 L-63.00,0.00 M-64.12,-7.14 L-64.12,-10.20 L-65.25,-13.26 L-67.50,-14.28 L-69.75,-14.28 L-73.12,-13.26 L-75.38,-10.20 L-76.50,-7.14 L-76.50,-4.08 L-75.38,-2.04 L-74.25,-1.02 L-72.00,0.00 L-69.75,0.00 L-67.50,-1.02 L-65.25,-4.08 L-64.12,-7.14 M-69.75,-14.28 L-72.00,-13.26 L-74.25,-10.20 L-75.38,-7.14 L-75.38,-3.06 L-74.25,-1.02 M-36.00,-21.42 L-40.50,-7.14 L-41.62,-3.06 L-41.62,-1.02 L-40.50,0.00 L-37.12,0.00 L-34.88,-2.04 L-33.75,-4.08 M-34.88,-21.42 L-39.38,-7.14 L-40.50,-3.06 L-40.50,-1.02 L-39.38,0.00 M-40.50,-7.14 L-40.50,-10.20 L-41.62,-13.26 L-43.88,-14.28 L-46.12,-14.28 L-49.50,-13.26 L-51.75,-10.20 L-52.88,-7.14 L-52.88,-4.08 L-51.75,-2.04 L-50.62,-1.02 L-48.38,0.00 L-46.12,0.00 L-43.88,-1.02 L-41.62,-4.08 L-40.50,-7.14 M-46.12,-14.28 L-48.38,-13.26 L-50.62,-10.20 L-51.75,-7.14 L-51.75,-3.06 L-50.62,-1.02 M-39.38,-21.42 L-34.88,-21.42 M-22.50,-21.42 L-23.62,-20.40 L-22.50,-19.38 L-21.38,-20.40 L-22.50,-21.42 M-31.50,-10.20 L-30.38,-12.24 L-28.12,-14.28 L-24.75,-14.28 L-23.62,-13.26 L-23.62,-10.20 L-25.88,-4.08 L-25.88,-1.02 L-24.75,0.00 M-25.88,-14.28 L-24.75,-13.26 L-24.75,-10.20 L-27.00,-4.08 L-27.00,-1.02 L-25.88,0.00 L-22.50,0.00 L-20.25,-2.04 L-19.12,-4.08 M-7.88,-14.28 L-11.25,-13.26 L-13.50,-10.20 L-14.62,-7.14 L-14.62,-4.08 L-13.50,-2.04 L-12.38,-1.02 L-10.12,0.00 L-7.88,0.00 L-4.50,-1.02 L-2.25,-4.08 L-1.12,-7.14 L-1.12,-10.20 L-2.25,-12.24 L-3.38,-13.26 L-5.62,-14.28 L-7.88,-14.28 M-7.88,-14.28 L-10.12,-13.26 L-12.38,-10.20 L-13.50,-7.14 L-13.50,-3.06 L-12.38,-1.02 M-7.88,0.00 L-5.62,-1.02 L-3.38,-4.08 L-2.25,-7.14 L-2.25,-11.22 L-3.38,-13.26 M30.38,-21.42 L23.62,0.00 M31.50,-21.42 L24.75,0.00 M36.00,-15.30 L33.75,-7.14 M27.00,-21.42 L43.88,-21.42 L42.75,-15.30 L42.75,-21.42 M28.12,-11.22 L34.88,-11.22 M20.25,0.00 L28.12,0.00 M54.00,-21.42 L49.50,-7.14 L48.38,-3.06 L48.38,-1.02 L49.50,0.00 L52.88,0.00 L55.12,-2.04 L56.25,-4.08 M55.12,-21.42 L50.62,-7.14 L49.50,-3.06 L49.50,-1.02 L50.62,0.00 M50.62,-21.42 L55.12,-21.42 M59.62,-10.20 L60.75,-12.24 L63.00,-14.28 L66.38,-14.28 L67.50,-13.26 L67.50,-10.20 L65.25,-4.08 L65.25,-2.04 L67.50,0.00 M65.25,-14.28 L66.38,-13.26 L66.38,-10.20 L64.12,-4.08 L64.12,-2.04 L65.25,-1.02 L67.50,0.00 L69.75,0.00 L72.00,-1.02 L74.25,-3.06 L76.50,-7.14 M78.75,-14.28 L76.50,-7.14 L75.38,-3.06 L75.38,-1.02 L76.50,0.00 L79.88,0.00 L82.12,-2.04 L83.25,-4.08 M79.88,-14.28 L77.62,-7.14 L76.50,-3.06 L76.50,-1.02 L77.62,0.00 M87.75,-10.20 L90.00,-13.26 L92.25,-14.28 L95.62,-14.28 L96.75,-12.24 L96.75,-9.18 M94.50,-14.28 L95.62,-12.24 L95.62,-9.18 L94.50,-5.10 L93.38,-3.06 L91.12,-1.02 L88.88,0.00 L87.75,0.00 L86.62,-1.02 L86.62,-2.04 L87.75,-3.06 L88.88,-2.04 L87.75,-1.02 M94.50,-5.10 L94.50,-2.04 L95.62,0.00 L99.00,0.00 L101.25,-1.02 L103.50,-4.08 M103.50,-13.26 L102.38,-12.24 L103.50,-11.22 L104.62,-12.24 L104.62,-13.26 L103.50,-14.28 L102.38,-14.28 L100.12,-13.26 L97.88,-11.22 L96.75,-9.18 L95.62,-5.10 L95.62,-2.04 L96.75,0.00" fill="none" stroke="#fa3030" stroke-width="2.0" stroke-linecap="square" shape-rendering="crispEdges"/>
<path transform="translate(692.8,803.3)" d="M-38.50,-23.10 L-49.50,0.00 M-53.90,-23.10 L-38.50,-23.10 M-25.30,-23.10 L-28.60,-22.00 L-30.80,-18.70 L-31.90,-13.20 L-31.90,-9.90 L-30.80,-4.40 L-28.60,-1.10 L-25.30,0.00 L-23.10,0.00 L-19.80,-1.10 L-17.60,-4.40 L-16.50,-9.90 L-16.50,-13.20 L-17.60,-18.70 L-19.80,-22.00 L-23.10,-23.10 L-25.30,-23.10 M19.80,-12.10 L18.70,-14.30 L15.40,-15.40 L12.10,-15.40 L8.80,-14.30 L7.70,-12.10 L8.80,-9.90 L11.00,-8.80 L16.50,-7.70 L18.70,-6.60 L19.80,-4.40 L19.80,-3.30 L18.70,-1.10 L15.40,0.00 L12.10,0.00 L8.80,-1.10 L7.70,-3.30 M34.10,-23.10 L31.90,-23.10 L29.70,-22.00 L28.60,-18.70 L28.60,0.00 M25.30,-15.40 L33.00,-15.40 M40.70,-15.40 L40.70,-4.40 L41.80,-1.10 L44.00,0.00 L47.30,0.00 L49.50,-1.10 L52.80,-4.40 M52.80,-15.40 L52.80,0.00" fill="none" stroke="#fa3030" stroke-width="1.7" stroke-linecap="square" shape-rendering="crispEdges"/>
<path transform="translate(692.8,884.5)" d="M-119.51,-18.06 L-119.51,0.00 M-119.51,0.00 L-108.35,0.00 M-93.47,-12.04 L-93.47,0.00 M-93.47,-9.46 L-95.33,-11.18 L-97.19,-12.04 L-99.98,-12.04 L-101.84,-11.18 L-103.70,-9.46 L-104.62,-6.88 L-104.62,-5.16 L-103.70,-2.58 L-101.84,-0.86 L-99.98,0.00 L-97.19,0.00 L-95.33,-0.86 L-93.47,-2.58 M-85.09,-18.06 L-85.09,-3.44 L-84.17,-0.86 L-82.31,0.00 L-80.45,0.00 M-87.89,-12.04 L-81.38,-12.04 M-75.80,-6.88 L-64.64,-6.88 L-64.64,-8.60 L-65.57,-10.32 L-66.50,-11.18 L-68.36,-12.04 L-71.15,-12.04 L-73.01,-11.18 L-74.87,-9.46 L-75.80,-6.88 L-75.80,-5.16 L-74.87,-2.58 L-73.01,-0.86 L-71.15,0.00 L-68.36,0.00 L-66.50,-0.86 L-64.64,-2.58 M-48.83,-9.46 L-49.76,-11.18 L-52.55,-12.04 L-55.34,-12.04 L-58.13,-11.18 L-59.06,-9.46 L-58.13,-7.74 L-56.27,-6.88 L-51.62,-6.02 L-49.76,-5.16 L-48.83,-3.44 L-48.83,-2.58 L-49.76,-0.86 L-52.55,0.00 L-55.34,0.00 L-58.13,-0.86 L-59.06,-2.58 M-41.39,-18.06 L-41.39,-3.44 L-40.46,-0.86 L-38.60,0.00 L-36.73,0.00 M-44.18,-12.04 L-37.67,-12.04 M-30.23,-12.04 L-31.16,-11.18 L-30.23,-10.32 L-29.30,-11.18 L-30.23,-12.04 M-30.23,-1.72 L-31.16,-0.86 L-30.23,0.00 L-29.30,-0.86 L-30.23,-1.72 M-6.97,-13.76 L-6.97,-14.62 L-6.04,-16.34 L-5.11,-17.20 L-3.25,-18.06 L0.47,-18.06 L2.33,-17.20 L3.26,-16.34 L4.19,-14.62 L4.19,-12.90 L3.26,-11.18 L1.40,-8.60 L-7.90,0.00 L5.12,0.00 M16.28,-18.06 L13.49,-17.20 L11.63,-14.62 L10.70,-10.32 L10.70,-7.74 L11.63,-3.44 L13.49,-0.86 L16.28,0.00 L18.14,0.00 L20.93,-0.86 L22.79,-3.44 L23.72,-7.74 L23.72,-10.32 L22.79,-14.62 L20.93,-17.20 L18.14,-18.06 L16.28,-18.06 M31.16,-12.04 L30.23,-11.18 L31.16,-10.32 L32.09,-11.18 L31.16,-12.04 M31.16,-1.72 L30.23,-0.86 L31.16,0.00 L32.09,-0.86 L31.16,-1.72 M44.18,-18.06 L41.39,-17.20 L39.53,-14.62 L38.60,-10.32 L38.60,-7.74 L39.53,-3.44 L41.39,-0.86 L44.18,0.00 L46.04,0.00 L48.83,-0.86 L50.69,-3.44 L51.62,-7.74 L51.62,-10.32 L50.69,-14.62 L48.83,-17.20 L46.04,-18.06 L44.18,-18.06 M62.78,-18.06 L59.99,-17.20 L58.13,-14.62 L57.20,-10.32 L57.20,-7.74 L58.13,-3.44 L59.99,-0.86 L62.78,0.00 L64.64,0.00 L67.43,-0.86 L69.29,-3.44 L70.22,-7.74 L70.22,-10.32 L69.29,-14.62 L67.43,-17.20 L64.64,-18.06 L62.78,-18.06 M91.61,-18.06 L91.61,-5.16 L92.54,-2.58 L94.40,-0.86 L97.19,0.00 L99.05,0.00 L101.84,-0.86 L103.70,-2.58 L104.62,-5.16 L104.62,-18.06 M115.78,-18.06 L115.78,0.00 M109.28,-18.06 L122.30,-18.06" fill="none" stroke="#fa3030" stroke-width="2.0" stroke-linecap="square" shape-rendering="crispEdges"/>
<path transform="translate(692.8,910.3)" d="M-102.30,-13.76 L-102.30,-14.62 L-101.37,-16.34 L-100.44,-17.20 L-98.58,-18.06 L-94.86,-18.06 L-93.00,-17.20 L-92.07,-16.34 L-91.14,-14.62 L-91.14,-12.90 L-92.07,-11.18 L-93.93,-8.60 L-103.23,0.00 L-90.21,0.00 M-79.05,-18.06 L-81.84,-17.20 L-83.70,-14.62 L-84.63,-10.32 L-84.63,-7.74 L-83.70,-3.44 L-81.84,-0.86 L-79.05,0.00 L-77.19,0.00 L-74.40,-0.86 L-72.54,-3.44 L-71.61,-7.74 L-71.61,-10.32 L-72.54,-14.62 L-74.40,-17.20 L-77.19,-18.06 L-79.05,-18.06 M-65.10,-13.76 L-65.10,-14.62 L-64.17,-16.34 L-63.24,-17.20 L-61.38,-18.06 L-57.66,-18.06 L-55.80,-17.20 L-54.87,-16.34 L-53.94,-14.62 L-53.94,-12.90 L-54.87,-11.18 L-56.73,-8.60 L-66.03,0.00 L-53.01,0.00 M-38.13,-18.06 L-47.43,-6.02 L-33.48,-6.02 M-38.13,-18.06 L-38.13,0.00 M-27.90,-7.74 L-11.16,-7.74 M-3.72,-18.06 L-3.72,0.00 M-3.72,-18.06 L3.72,0.00 M11.16,-18.06 L3.72,0.00 M11.16,-18.06 L11.16,0.00 M28.83,-12.04 L28.83,0.00 M28.83,-9.46 L26.97,-11.18 L25.11,-12.04 L22.32,-12.04 L20.46,-11.18 L18.60,-9.46 L17.67,-6.88 L17.67,-5.16 L18.60,-2.58 L20.46,-0.86 L22.32,0.00 L25.11,0.00 L26.97,-0.86 L28.83,-2.58 M36.27,-12.04 L36.27,0.00 M36.27,-6.88 L37.20,-9.46 L39.06,-11.18 L40.92,-12.04 L43.71,-12.04 M48.36,-7.74 L65.10,-7.74 M74.40,-14.62 L76.26,-15.48 L79.05,-18.06 L79.05,0.00 M94.86,-18.06 L92.07,-17.20 L91.14,-15.48 L91.14,-13.76 L92.07,-12.04 L93.93,-11.18 L97.65,-10.32 L100.44,-9.46 L102.30,-7.74 L103.23,-6.02 L103.23,-3.44 L102.30,-1.72 L101.37,-0.86 L98.58,0.00 L94.86,0.00 L92.07,-0.86 L91.14,-1.72 L90.21,-3.44 L90.21,-6.02 L91.14,-7.74 L93.00,-9.46 L95.79,-10.32 L99.51,-11.18 L101.37,-12.04 L102.30,-13.76 L102.30,-15.48 L101.37,-17.20 L98.58,-18.06 L94.86,-18.06" fill="none" stroke="#fa3030" stroke-width="2.0" stroke-linecap="square" shape-rendering="crispEdges"/>
<circle cx="42.1" cy="28.3" r="15" fill="#afafaf"/>
<circle cx="42.1" cy="84.3" r="14.3" fill="none" stroke="#afafaf" stroke-width="1.5"/>
<g shape-rendering="crispEdges" stroke="#000" fill="none"><path d="M688,573.5 L688,642" stroke-width="2"/><path d="M671,573.5 L707,573.5 M671,642.5 L707,642.5" stroke-width="1"/></g>
</svg>
</body></html>
